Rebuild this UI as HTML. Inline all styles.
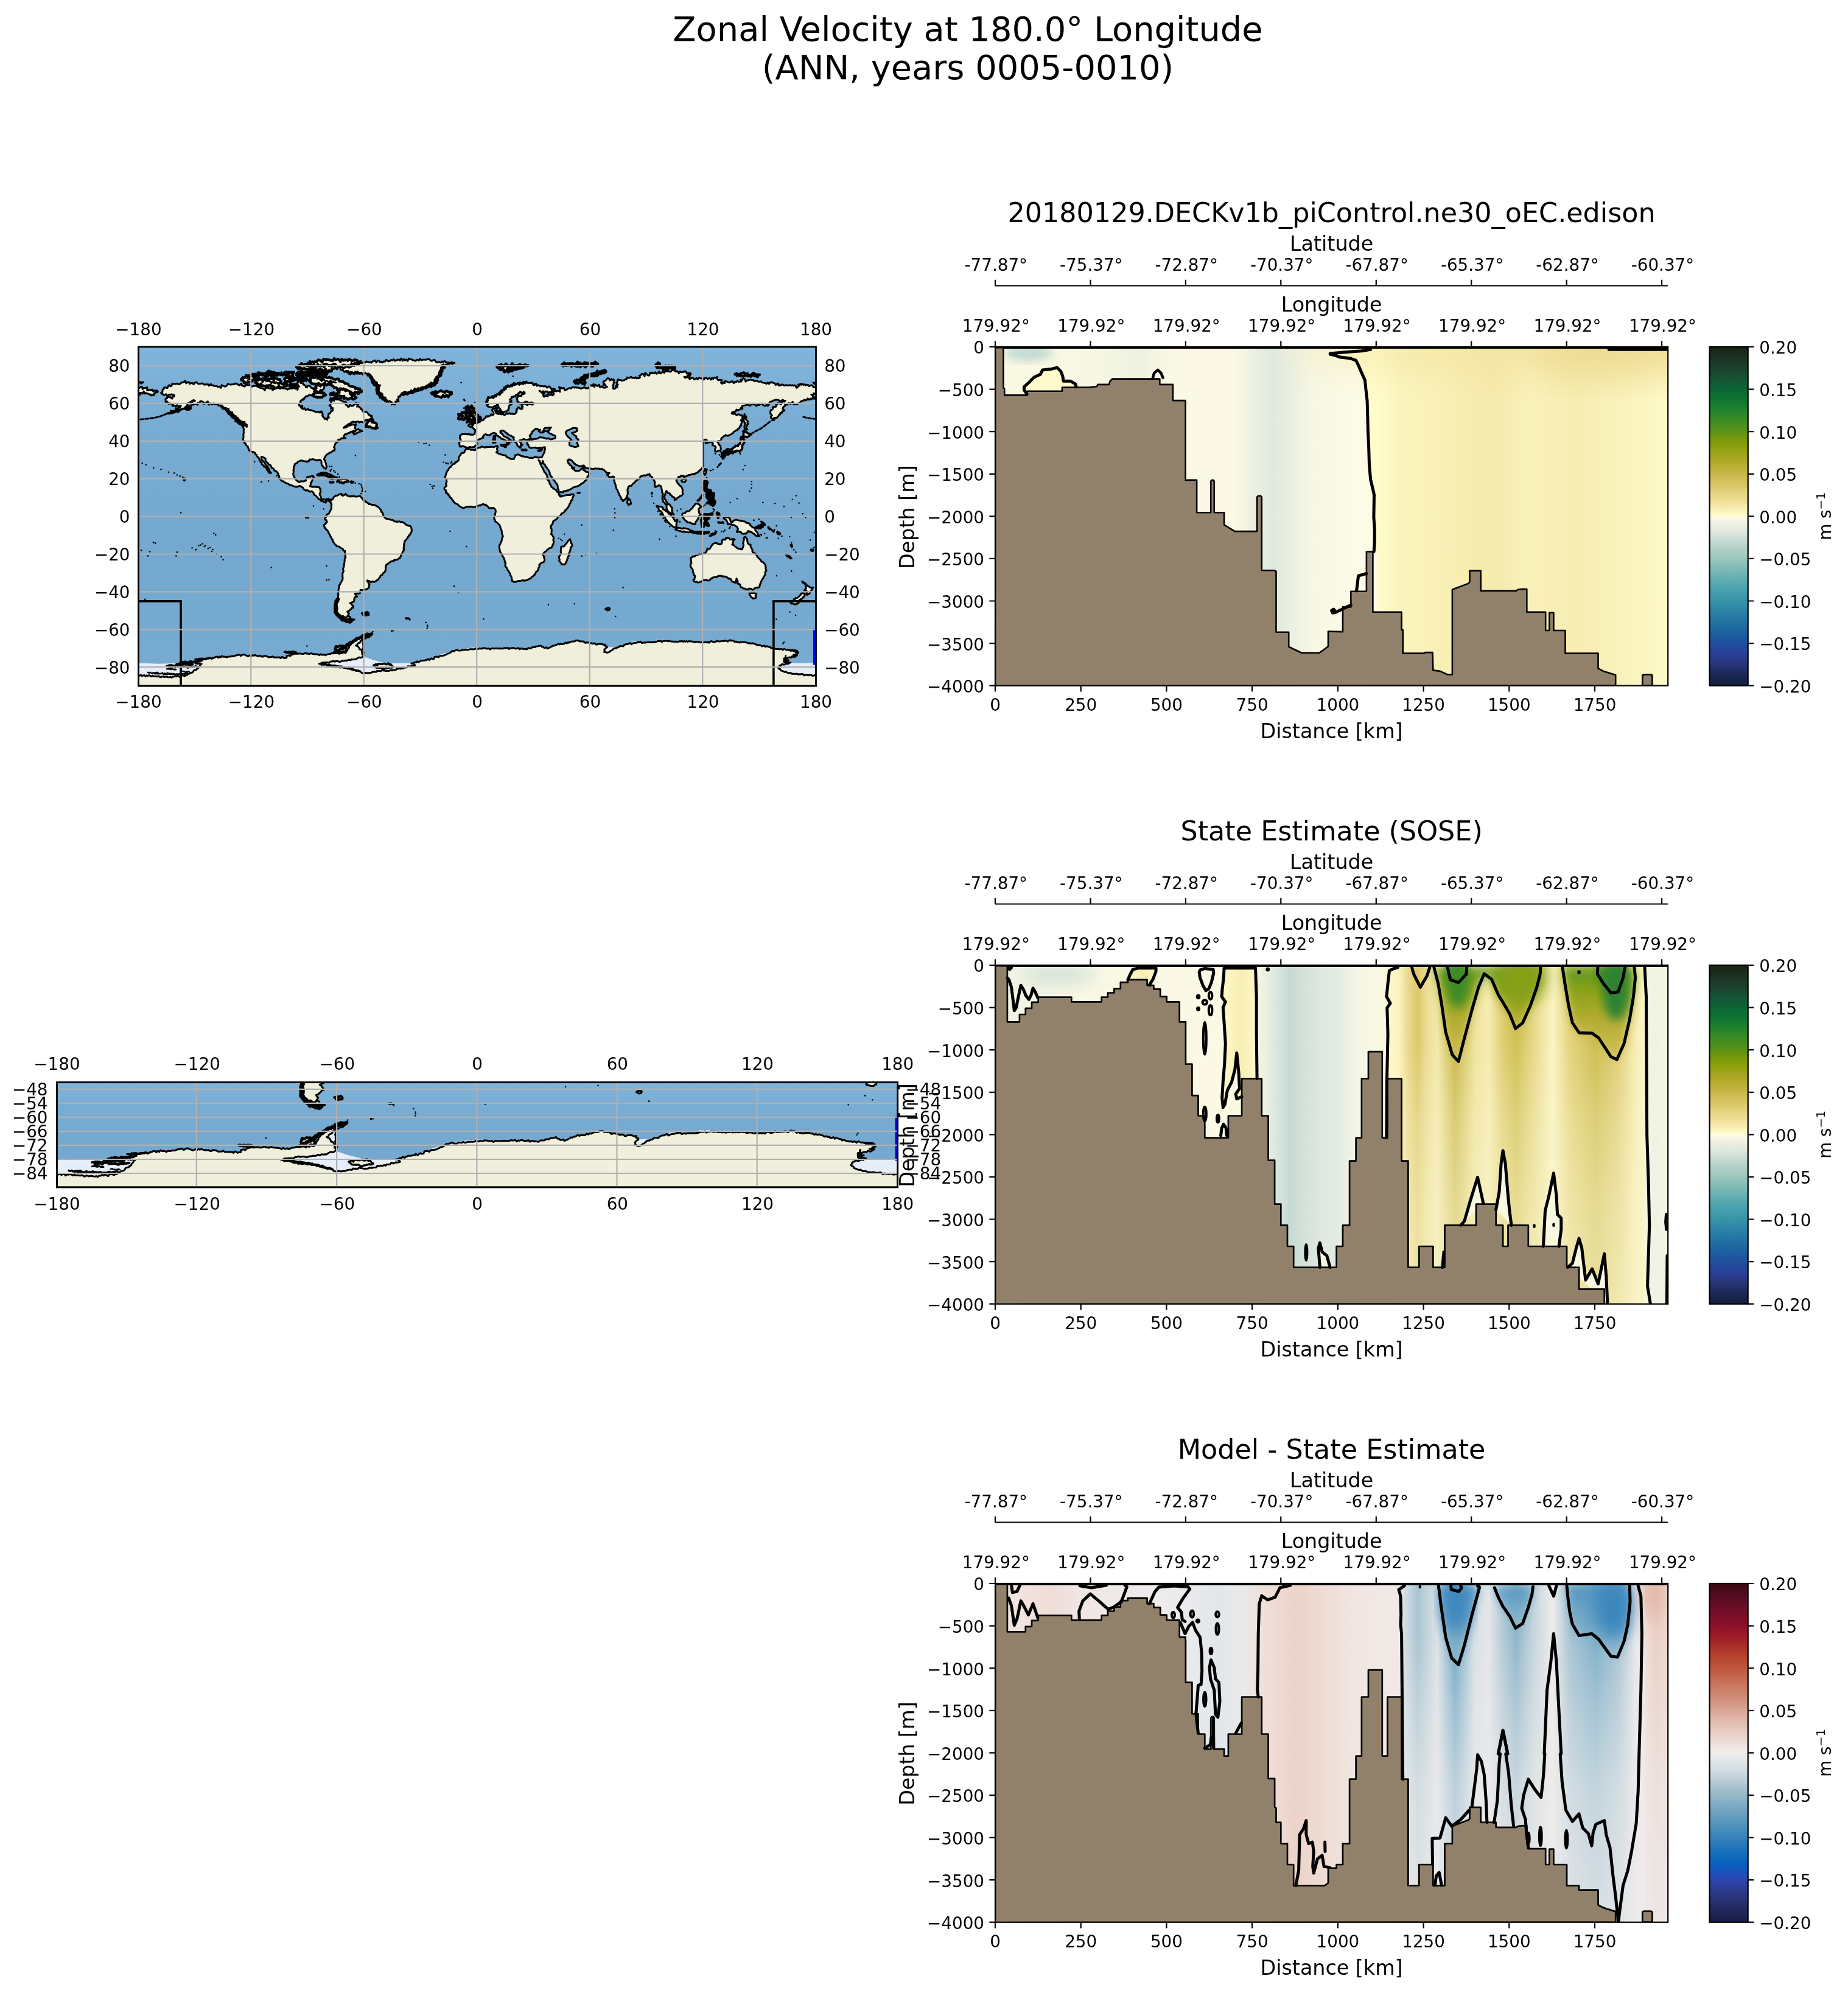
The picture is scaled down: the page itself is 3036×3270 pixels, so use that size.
<!DOCTYPE html>
<html><head><meta charset="utf-8"><title>Zonal Velocity</title><style>html,body{margin:0;padding:0;background:#fff}svg{display:block;opacity:0.9999}</style></head><body>
<svg width="3036" height="3270" viewBox="0 0 3036 3270" font-family='"DejaVu Sans","Liberation Sans",sans-serif' fill="#000">
<rect width="3036" height="3270" fill="#fff"/>
<defs><linearGradient id="cb_delta" x1="0" y1="0" x2="0" y2="1"><stop offset="0.0000" stop-color="#172313"/><stop offset="0.0360" stop-color="#1b3422"/><stop offset="0.0730" stop-color="#1b4630"/><stop offset="0.1000" stop-color="#145737"/><stop offset="0.1250" stop-color="#0c6634"/><stop offset="0.1540" stop-color="#0e7433"/><stop offset="0.1810" stop-color="#1e802f"/><stop offset="0.2080" stop-color="#358a26"/><stop offset="0.2350" stop-color="#4d901c"/><stop offset="0.2510" stop-color="#5c9315"/><stop offset="0.2700" stop-color="#74990d"/><stop offset="0.2880" stop-color="#869f0a"/><stop offset="0.3060" stop-color="#97a314"/><stop offset="0.3240" stop-color="#a5a51f"/><stop offset="0.3420" stop-color="#b3ab2c"/><stop offset="0.3600" stop-color="#bfb13b"/><stop offset="0.3750" stop-color="#c9b649"/><stop offset="0.3960" stop-color="#d5c05c"/><stop offset="0.4140" stop-color="#dcc86c"/><stop offset="0.4320" stop-color="#e6d480"/><stop offset="0.4500" stop-color="#ecdc91"/><stop offset="0.4680" stop-color="#f3e7a6"/><stop offset="0.4860" stop-color="#faf3bc"/><stop offset="0.4975" stop-color="#fffdcf"/><stop offset="0.5020" stop-color="#fefae8"/><stop offset="0.5220" stop-color="#eef0e2"/><stop offset="0.5400" stop-color="#e2eadf"/><stop offset="0.5580" stop-color="#d3e2d9"/><stop offset="0.5760" stop-color="#c3d9d1"/><stop offset="0.5930" stop-color="#b3d1c8"/><stop offset="0.6250" stop-color="#9bc6bc"/><stop offset="0.6560" stop-color="#7dbab5"/><stop offset="0.6880" stop-color="#5eadb1"/><stop offset="0.7200" stop-color="#46a0ae"/><stop offset="0.7510" stop-color="#3793a9"/><stop offset="0.7840" stop-color="#2a81a6"/><stop offset="0.8160" stop-color="#2070a2"/><stop offset="0.8480" stop-color="#1c5f9f"/><stop offset="0.8750" stop-color="#1e509e"/><stop offset="0.9000" stop-color="#27439a"/><stop offset="0.9170" stop-color="#2a3c8e"/><stop offset="0.9360" stop-color="#28357a"/><stop offset="0.9570" stop-color="#202c60"/><stop offset="0.9790" stop-color="#19244c"/><stop offset="1.0000" stop-color="#131f3f"/></linearGradient><linearGradient id="cb_bal" x1="0" y1="0" x2="0" y2="1"><stop offset="0.0000" stop-color="#3c0912"/><stop offset="0.0400" stop-color="#560d20"/><stop offset="0.0720" stop-color="#6c0e27"/><stop offset="0.1000" stop-color="#800f2a"/><stop offset="0.1250" stop-color="#8c112a"/><stop offset="0.1520" stop-color="#9c1929"/><stop offset="0.1790" stop-color="#a82b27"/><stop offset="0.2060" stop-color="#b23d2c"/><stop offset="0.2270" stop-color="#b84a33"/><stop offset="0.2500" stop-color="#bd573e"/><stop offset="0.2800" stop-color="#c56a50"/><stop offset="0.3070" stop-color="#cb7b63"/><stop offset="0.3340" stop-color="#d08b76"/><stop offset="0.3600" stop-color="#d69c8a"/><stop offset="0.3870" stop-color="#dcad9e"/><stop offset="0.4140" stop-color="#e2bfb3"/><stop offset="0.4400" stop-color="#e7cec5"/><stop offset="0.4670" stop-color="#ecdcd6"/><stop offset="0.4890" stop-color="#f0e8e5"/><stop offset="0.5000" stop-color="#f1eceb"/><stop offset="0.5210" stop-color="#e4e7ea"/><stop offset="0.5480" stop-color="#d3dde2"/><stop offset="0.5750" stop-color="#bfd0d9"/><stop offset="0.6010" stop-color="#a8c2cf"/><stop offset="0.6250" stop-color="#95b8c9"/><stop offset="0.6540" stop-color="#7eabc3"/><stop offset="0.6810" stop-color="#69a0bf"/><stop offset="0.7080" stop-color="#5496bd"/><stop offset="0.7340" stop-color="#408abb"/><stop offset="0.7490" stop-color="#3684ba"/><stop offset="0.7740" stop-color="#2478ba"/><stop offset="0.8010" stop-color="#126cbb"/><stop offset="0.8220" stop-color="#0a63be"/><stop offset="0.8410" stop-color="#0f59c0"/><stop offset="0.8590" stop-color="#224db8"/><stop offset="0.8740" stop-color="#2b47ad"/><stop offset="0.8940" stop-color="#2d3f9a"/><stop offset="0.9210" stop-color="#2a3680"/><stop offset="0.9470" stop-color="#252e68"/><stop offset="0.9740" stop-color="#1f2654"/><stop offset="1.0000" stop-color="#181c43"/></linearGradient><linearGradient id="f1" x1="0" y1="0" x2="1" y2="0"><stop offset="0.0000" stop-color="#f8f8e3"/><stop offset="0.0306" stop-color="#faf9e4"/><stop offset="0.0764" stop-color="#fbf9e4"/><stop offset="0.1528" stop-color="#f6f6e3"/><stop offset="0.2139" stop-color="#eef1e0"/><stop offset="0.2648" stop-color="#fbf9e5"/><stop offset="0.3565" stop-color="#fbf9e6"/><stop offset="0.3870" stop-color="#eaefe1"/><stop offset="0.4125" stop-color="#dfe9de"/><stop offset="0.4380" stop-color="#eaefe1"/><stop offset="0.4736" stop-color="#f8f7e4"/><stop offset="0.5347" stop-color="#fdfbe7"/><stop offset="0.5663" stop-color="#fdfbe4"/><stop offset="0.5704" stop-color="#fffbca"/><stop offset="0.6009" stop-color="#fbf4bc"/><stop offset="0.6620" stop-color="#f9f0b6"/><stop offset="0.7384" stop-color="#f6eaac"/><stop offset="0.7945" stop-color="#f9f1ba"/><stop offset="0.8658" stop-color="#f7edb1"/><stop offset="0.9421" stop-color="#faf3bd"/><stop offset="0.9997" stop-color="#fef9c8"/></linearGradient><linearGradient id="f2" x1="0" y1="0" x2="1" y2="0"><stop offset="0.0000" stop-color="#f5f6e4"/><stop offset="0.0306" stop-color="#f1f4e3"/><stop offset="0.1019" stop-color="#f8f8e4"/><stop offset="0.2546" stop-color="#fbf9e5"/><stop offset="0.3514" stop-color="#fbf9e4"/><stop offset="0.3870" stop-color="#f8f8e3"/><stop offset="0.3947" stop-color="#f1f3e2"/><stop offset="0.4074" stop-color="#e6ede0"/><stop offset="0.4227" stop-color="#d6e4dc"/><stop offset="0.4380" stop-color="#c6dad4"/><stop offset="0.4583" stop-color="#d3e2da"/><stop offset="0.4838" stop-color="#dee9df"/><stop offset="0.5093" stop-color="#e4ece1"/><stop offset="0.5347" stop-color="#f2f4e4"/><stop offset="0.5602" stop-color="#faf8e4"/><stop offset="0.5795" stop-color="#fbf8e0"/><stop offset="0.5836" stop-color="#fff9c9"/><stop offset="0.6009" stop-color="#fbf2bd"/><stop offset="0.6137" stop-color="#ead98c"/><stop offset="0.6279" stop-color="#dcc868"/><stop offset="0.6417" stop-color="#ebdd95"/><stop offset="0.6570" stop-color="#f3e9ad"/><stop offset="0.6834" stop-color="#c9b94a"/><stop offset="0.7130" stop-color="#efe39f"/><stop offset="0.7339" stop-color="#f5ecb0"/><stop offset="0.7537" stop-color="#e0cf75"/><stop offset="0.7741" stop-color="#cfc052"/><stop offset="0.7996" stop-color="#e6d888"/><stop offset="0.8286" stop-color="#fbf4c4"/><stop offset="0.8556" stop-color="#e2d27a"/><stop offset="0.8927" stop-color="#cdbd50"/><stop offset="0.9269" stop-color="#e0d07a"/><stop offset="0.9523" stop-color="#f7eeb5"/><stop offset="0.9640" stop-color="#fbf5c5"/><stop offset="0.9676" stop-color="#f4f4e3"/><stop offset="0.9829" stop-color="#f0f2e3"/><stop offset="0.9997" stop-color="#f5f5e4"/></linearGradient><linearGradient id="f3" x1="0" y1="0" x2="1" y2="0"><stop offset="0.0000" stop-color="#f1e6e3"/><stop offset="0.0407" stop-color="#f2e3de"/><stop offset="0.0815" stop-color="#f0ddd7"/><stop offset="0.1273" stop-color="#f0e6e3"/><stop offset="0.1681" stop-color="#efe9e8"/><stop offset="0.2444" stop-color="#eeeceb"/><stop offset="0.2852" stop-color="#e9eaec"/><stop offset="0.3310" stop-color="#e2e6ea"/><stop offset="0.3667" stop-color="#eae9ea"/><stop offset="0.3972" stop-color="#f0e0da"/><stop offset="0.4482" stop-color="#edd3c9"/><stop offset="0.4889" stop-color="#efdcd5"/><stop offset="0.5347" stop-color="#f1e6e2"/><stop offset="0.6009" stop-color="#f1e9e7"/><stop offset="0.6086" stop-color="#d4dee3"/><stop offset="0.6279" stop-color="#a9c5d3"/><stop offset="0.6417" stop-color="#c2d3db"/><stop offset="0.6570" stop-color="#dfe3e6"/><stop offset="0.6834" stop-color="#6fa8c6"/><stop offset="0.7130" stop-color="#d9e1e5"/><stop offset="0.7339" stop-color="#e4e6e8"/><stop offset="0.7537" stop-color="#b5ccd7"/><stop offset="0.7741" stop-color="#8eb6ca"/><stop offset="0.7996" stop-color="#c5d5dc"/><stop offset="0.8286" stop-color="#eeeceb"/><stop offset="0.8556" stop-color="#a5c3d2"/><stop offset="0.8927" stop-color="#7fb0c9"/><stop offset="0.9269" stop-color="#a9c5d3"/><stop offset="0.9523" stop-color="#e8e8ea"/><stop offset="0.9640" stop-color="#efe9e7"/><stop offset="0.9676" stop-color="#efdcd5"/><stop offset="0.9829" stop-color="#ebcfc5"/><stop offset="0.9997" stop-color="#efd9d1"/></linearGradient><linearGradient id="fade2" x1="0" y1="0" x2="0" y2="1"><stop offset="0.0000" stop-color="#fbf6d0" stop-opacity="0"/><stop offset="0.2200" stop-color="#fbf6d0" stop-opacity="0"/><stop offset="0.4500" stop-color="#fbf6d0" stop-opacity="0.3"/><stop offset="0.7000" stop-color="#fbf6d0" stop-opacity="0.5"/><stop offset="1.0000" stop-color="#fbf6d0" stop-opacity="0.62"/></linearGradient><linearGradient id="fade3" x1="0" y1="0" x2="0" y2="1"><stop offset="0.0000" stop-color="#eeeceb" stop-opacity="0"/><stop offset="0.1500" stop-color="#eeeceb" stop-opacity="0"/><stop offset="0.3500" stop-color="#eeeceb" stop-opacity="0.3"/><stop offset="0.6000" stop-color="#eeeceb" stop-opacity="0.6"/><stop offset="1.0000" stop-color="#eeeceb" stop-opacity="0.78"/></linearGradient><linearGradient id="green2" x1="0" y1="0" x2="0" y2="1"><stop offset="0.0000" stop-color="#4f9420"/><stop offset="0.2500" stop-color="#86a012"/><stop offset="0.6000" stop-color="#b7ad34"/><stop offset="1.0000" stop-color="#cfc052"/></linearGradient><linearGradient id="blue3" x1="0" y1="0" x2="0" y2="1"><stop offset="0.0000" stop-color="#4990c0"/><stop offset="0.3500" stop-color="#68a2c4"/><stop offset="1.0000" stop-color="#90b8cc"/></linearGradient><linearGradient id="yel2" x1="0" y1="0" x2="1" y2="0"><stop offset="0.0000" stop-color="#fef9cd"/><stop offset="0.3000" stop-color="#fbf3bf"/><stop offset="0.5500" stop-color="#f8eeb2"/><stop offset="0.8000" stop-color="#fbf4c0"/><stop offset="1.0000" stop-color="#fdf7c8"/></linearGradient><linearGradient id="ocean" x1="0" y1="0" x2="0" y2="1"><stop offset="0.0000" stop-color="#80b4da"/><stop offset="0.2500" stop-color="#79acd3"/><stop offset="0.6000" stop-color="#75a8ce"/><stop offset="1.0000" stop-color="#78abd1"/></linearGradient><filter id="b4" x="-20%" y="-20%" width="140%" height="140%"><feGaussianBlur stdDeviation="4"/></filter><filter id="b8" x="-20%" y="-20%" width="140%" height="140%"><feGaussianBlur stdDeviation="8"/></filter><filter id="b14" x="-30%" y="-30%" width="160%" height="160%"><feGaussianBlur stdDeviation="14"/></filter><filter id="b30" x="-50%" y="-50%" width="200%" height="200%"><feGaussianBlur stdDeviation="30"/></filter><clipPath id="mclip1"><rect x="227.5" y="570" width="1113" height="557.2"/></clipPath><clipPath id="mclip2"><rect x="93.5" y="1778.4" width="1381.2" height="172.6"/></clipPath><clipPath id="pclip0"><rect x="1635" y="570" width="1105.2" height="556.7"/></clipPath><clipPath id="pclip1"><rect x="1635" y="1586" width="1105.2" height="556.7"/></clipPath><clipPath id="pclip2"><rect x="1635" y="2602" width="1105.2" height="556.7"/></clipPath></defs>
<g clip-path="url(#mclip1)">
<rect x="227.5" y="570" width="1113" height="557.2" fill="url(#ocean)"/>
<path d="M227.5 1089.4 L258.4 1090.7 L289.3 1090 L301.7 1088.5 L332.6 1089.4 L326.4 1096.2 L320.3 1100.9 L314.1 1105.5 L304.8 1109.9 L273.9 1112.3 L227.5 1109.9Z" fill="#e6eef9"/>
<path d="M1340.5 1089.4 L1315.8 1089.4 L1297.2 1089.4 L1288 1091.6 L1278.7 1097.8 L1284.9 1102.4 L1303.4 1107.1 L1340.5 1109.9Z" fill="#e6eef9"/>
<path d="M595.4 1078.6 L614 1084.8 L632.5 1089.4 L651.1 1090 L666.5 1089.4 L675.8 1090 L682 1093.1 L660.3 1097.8 L648 1100.9 L614 1104 L598.5 1106.1 L567.6 1097.8 L524.3 1090.7 L545.9 1086.9 L580 1083.9 L592.3 1080.8Z" fill="#e6eef9"/>
<path d="M595.4 1049.8 L598.5 1052.9 L597.9 1059.1 L597.6 1065.3 L598.5 1071.5 L597 1077.7 L595.4 1073 L593.9 1068.4 L589.2 1063.7 L584.6 1060.6 L590.8 1056 L592.3 1052.9Z" fill="#e6eef9"/>
<path d="M997.3 1063.7 L1009.7 1063.1 L1006.6 1066.8 L997.3 1072.4 L992.7 1071.5 L992.7 1067.8Z" fill="#e6eef9"/>
<path d="M722.2 1076.1 L737.6 1071.5 L753.1 1067.1 L768.5 1065.3 L784 1063.7 L799.5 1064.7 L814.9 1064.4 L814.9 1065.6 L784 1065.9 L759.3 1067.8 L740.7 1071.5 L722.2 1078.3Z" fill="#e6eef9"/>
<path d="M1077.7 1051.4 L1096.3 1051.4 L1093.2 1052.9 L1077.7 1054.4Z" fill="#e6eef9"/>
<path d="M1037.5 1054.4 L1056.1 1053.8 L1056.1 1055.4 L1037.5 1056.9Z" fill="#e6eef9"/>
<path d="M264.6 645.5 L266.8 644.5 L266.9 642.4 L267.1 640.3 L269.2 639.3 L269.2 637.2 L270.9 636.3 L273 637.3 L275 637.7 L276.2 634.7 L277.8 632.9 L280.1 635 L282 634.1 L282.1 631.2 L284.7 631 L286.6 630.5 L288.7 630.9 L290.6 630.2 L292.8 631.2 L294.8 631.3 L296.6 630.1 L298.3 628.8 L300.2 627.9 L302.2 627.9 L304.4 625.6 L306 629.9 L308.2 628.3 L310.2 627.8 L311.9 630.6 L314.1 629.4 L316.2 629.3 L318 631.5 L320.4 628.5 L322.5 628.1 L324.4 629.8 L326.4 630.7 L328.4 630.6 L330.3 630.3 L332.3 629.9 L334.2 630.8 L336 632.4 L338 631.6 L339.9 631.8 L341.9 631.6 L343.5 633.8 L346.4 631 L348.1 633.1 L350.2 633.3 L352.1 634.5 L354.2 634.6 L356.3 634.3 L358.2 636 L360.4 635 L362.9 637.3 L364.3 632.7 L366.6 634.1 L368.8 634.9 L370.9 634.9 L372.8 633.5 L374.5 630.8 L376.8 631.6 L378.9 632.1 L381 631.8 L383.1 631.6 L385.2 631.6 L386.3 630 L388.3 630.4 L390.1 631 L391.7 632.5 L393.5 633.2 L396.6 630.2 L397.5 633.5 L399.8 634.4 L402 635.3 L403.7 632.5 L405.8 632.5 L407.8 633.2 L409.9 632.5 L412 633 L413.6 635.3 L416 634.5 L418.1 634.3 L420.4 633.6 L422.3 635 L423.9 635.4 L425.2 636.6 L426.8 637.1 L428.5 637.5 L430 637.9 L431.5 638.4 L433.1 638.7 L435 641.5 L436.7 637.4 L438.5 637.1 L440.3 637.3 L442.1 638.1 L443.9 638.4 L446.3 637.2 L447.7 640.9 L450.1 639.6 L450 637.9 L450.1 636.2 L452.1 635 L454.2 635.6 L456.3 635.6 L457.9 637.9 L460.5 636.4 L462.4 637.3 L464.8 636.7 L466.9 637 L468.7 638.7 L470.5 639.1 L472.3 640.3 L474.1 638.5 L475.9 639.2 L477.7 636.8 L479.5 638.7 L480.3 636.5 L482.6 636.6 L483.8 638.3 L485.4 638.7 L487.2 637.5 L488.4 638.8 L488.7 640.6 L489.3 638.4 L488.4 635.5 L491.8 635 L489.9 634.6 L489.2 633 L488.5 631.4 L487.2 630.4 L488.9 629.4 L489.8 627.8 L490.3 626 L491.8 626.2 L493.2 627.6 L494.9 626.6 L494 629.6 L497.7 629.8 L498 631.9 L499.8 632.2 L501.1 633.5 L502.4 634.3 L502.3 636.4 L504.2 636.6 L505.3 634.8 L506.6 633.7 L508.8 634.4 L510 635.3 L510.6 636.7 L511.9 637.5 L513.7 637.8 L514.8 639.4 L516.6 639.6 L516.6 637.7 L520.3 637.7 L517.8 634.4 L519.7 633.5 L521.5 634.1 L523.3 633 L525.1 634.4 L526.9 634 L528.6 631.5 L530.5 632.8 L533.1 633.8 L532.7 636.6 L532 638.3 L531.3 640 L529.4 640.9 L528.9 642.7 L526.8 640.3 L525.1 642.9 L523.3 644.6 L521.2 643.4 L519.4 641.2 L517.5 640.6 L515.6 643.4 L516.8 644.2 L518.1 644.9 L516.5 646.2 L515.8 648.5 L513.5 648.9 L511.7 650 L509.4 649.2 L507.3 649.1 L505.8 651.1 L503.7 651 L502.1 651.6 L500.9 653.1 L500 655.2 L498 655.1 L497.7 657.1 L495.5 657.3 L494.5 658.5 L493.4 659.8 L494.1 661.7 L492.5 662.9 L491.3 664.2 L491.2 666 L492.8 667 L494.3 669.2 L496.5 666.9 L496.8 668.7 L495.6 671 L498 672.2 L500 670.6 L501.9 673.4 L503.8 673.2 L505.8 672.2 L507.1 673.3 L508.8 673.4 L510.3 674 L511.9 674.3 L513.8 675 L515.7 675.3 L517.4 676.4 L519.3 676.9 L521.2 677.4 L523.4 676.5 L525.4 678.1 L527.6 675.9 L529.6 678 L529.6 679.7 L530.5 681.2 L529.5 683 L530.5 684.5 L531.6 685.8 L532.8 687 L533.6 688.6 L536.2 687.3 L537.6 689.8 L537.8 687.9 L538.8 686.6 L540.7 686.1 L539 684.2 L539.7 682 L539.8 679.9 L542 679.6 L542.9 677.6 L544 675.8 L545.9 675.2 L547 673.8 L545.8 672 L546.9 670.6 L543.9 671.9 L544.3 668.4 L542.6 667.7 L541.3 666.6 L542.9 665.8 L542.7 663.5 L544.4 662.9 L543.8 661.1 L545.1 659 L541.6 657.9 L542.9 655.7 L544.9 655.4 L547 657 L549 658.5 L551.1 653.5 L553.2 656.3 L555.2 655.7 L557.4 656.1 L558.9 657.9 L561.1 658.1 L562.9 659.2 L564.4 660.1 L565.8 661.1 L567.6 659.8 L568.6 661.7 L567.6 664.1 L569.1 666 L570.8 666.4 L571.7 668.5 L573.8 668.1 L575.2 665.2 L578 667.4 L580 666.6 L581.4 665.7 L581.8 663.8 L584 663.6 L584.6 661.9 L585.7 663.5 L589.2 663 L586.4 668.1 L589.5 667.9 L590.8 669.4 L592.3 670.6 L593.1 672.3 L595.3 673.1 L595.4 675.2 L597 676.7 L599.5 676.4 L601.5 677.1 L603.5 677.7 L604.7 679.9 L605.7 681.4 L607.8 681.7 L608.5 683.5 L611 683.4 L610.9 686.1 L609.4 687.6 L610.9 689.2 L609.1 691.3 L607 688.9 L605.1 690.1 L603.1 689.8 L601.2 690.4 L599.4 691.2 L598.5 693.2 L596.4 694.2 L594.4 693.3 L592.3 693.2 L590.2 694.2 L588.2 692.4 L586.1 692.9 L584.2 693.9 L582.3 693.2 L580.3 692.9 L578.4 693.2 L577.1 694.6 L575.6 695.7 L573.9 696.6 L571.9 696.9 L570.7 698.5 L568.9 699.3 L567.4 700.5 L565.8 701.6 L564.5 703.1 L566.3 703.1 L567.5 701.8 L569.4 701.9 L570.7 700.6 L572.4 699.2 L574.8 699.3 L576.7 698.3 L578.4 696.9 L580.5 698.1 L582.5 698.3 L584.6 696.9 L584.3 698.8 L583.7 700.6 L583.7 701.9 L583 703.1 L583.8 704.4 L584.6 705.6 L586.5 706.1 L588.6 705.2 L590.4 706.6 L592.3 706.8 L593.6 708.1 L595.4 708.4 L593.4 708.7 L591.5 709.3 L589.6 710.1 L587.7 710.8 L586.2 711.8 L584.8 712.7 L583.3 713.6 L581.5 713.9 L580.8 712.4 L580 710.8 L581.7 710.2 L583.3 709.2 L584.6 707.7 L582.7 708.6 L580.6 707.9 L578.9 709.5 L576.9 709.3 L575.3 710 L574.2 711.7 L572.1 711.4 L570.7 712.4 L569.5 713.8 L567.1 713.2 L566 714.9 L564.8 716.5 L565.1 718.6 L566.4 718.9 L567.6 719.5 L566.1 720 L564.4 719.9 L562.9 720.4 L560.9 719.9 L559.5 721.8 L557.8 722.5 L555.8 722.3 L555.3 723.8 L555.2 725.4 L553.9 726.5 L552.6 727.5 L551.2 728.5 L550.4 730.5 L549.7 732.5 L549.5 733.9 L548.4 734.7 L549.7 736.5 L550 738.7 L549.2 740.5 L546.9 740.2 L545.9 741.8 L544.5 742.7 L543.1 743.8 L541.3 744 L539.7 745.2 L538 746.2 L536.5 747.5 L535.1 748.9 L534.3 750.4 L533.4 751.8 L532.7 753.3 L532.6 755.3 L534.3 756.7 L534.2 758.7 L535.1 760.4 L535.6 762.4 L535.9 764.6 L536.7 766.6 L536.1 768.6 L535.1 770.6 L533.9 769.2 L532 768.7 L531 767.2 L530 765.7 L528.6 764.5 L528.3 762.5 L528 761.1 L528.2 759.6 L528 758.2 L527.3 756.7 L526 755.9 L524.3 755.7 L522.7 755.6 L521.3 756.5 L519.7 756.3 L517.6 755.7 L515.6 754.9 L513.5 754.5 L512 755.2 L510.4 755 L508.8 755.1 L507.8 756.5 L507.3 758.2 L505.8 757.7 L504.1 758.9 L502.7 757.9 L500.7 757.9 L498.7 757.7 L496.9 757 L494.9 756.7 L493.3 757 L491.9 757.9 L490.3 758.2 L488.8 759.4 L487.7 761.1 L485.8 761.7 L484.1 762.5 L484 764.7 L482.8 766.6 L482.6 768.7 L482.6 770.8 L481.8 772.8 L482.5 774.9 L482.2 776.9 L481.6 778.9 L482 780.6 L482.5 782.2 L483.4 783.6 L484.1 785.1 L484.8 786.9 L486.3 788.2 L487.2 789.8 L489 790.2 L490.2 791.7 L491.8 792.3 L493.6 791.1 L495.6 790.8 L497.6 791.1 L499.6 791 L500.9 789.8 L502.7 789.8 L502.4 787.7 L503.7 786.1 L504.2 784.2 L506.2 783.9 L508 783 L510.3 783.5 L511.9 782 L513.5 782.3 L515 782.7 L515.3 784.7 L513.5 786.2 L513.5 788.2 L512.8 789.9 L512.1 791.5 L511 792.9 L510.5 795 L510.2 797.1 L509.5 799.1 L511.2 799.6 L512.9 800.2 L514.6 799.7 L516.4 800.1 L518.1 799.7 L520.1 800.5 L522.3 800.1 L524.3 800.6 L525 802 L526.5 802.8 L526 804.8 L526.9 807 L526.3 809 L525.3 810.9 L525.2 813 L526.4 814.3 L526.9 816 L527.4 817.6 L528 819.1 L529.2 820 L530.5 820.7 L532.6 820.8 L534.7 821.3 L536.7 820.1 L538.3 819.9 L539.8 819.2 L540.8 821 L543.1 820.9 L544.4 822.3 L545.4 820.7 L547.1 819.8 L547.6 817.7 L548.8 816.4 L550.6 815.5 L551.8 814.1 L553.7 814.5 L555.5 813.6 L557.3 812.3 L559.3 811.9 L561.4 811.4 L561.3 813.4 L562.9 814.5 L564.7 813.8 L566.5 813.1 L567.6 811.4 L569.1 812.4 L570.1 814.3 L572 814.8 L573.8 815.5 L575.8 816 L577.9 815.1 L580 815.7 L582 815.2 L584.1 816.2 L586.1 816.1 L588.2 815.6 L590.2 815.4 L592.3 815.5 L593.1 816.9 L594.1 818.2 L595.4 819.2 L596.3 820.3 L596.8 822 L598.5 822.3 L600 823.6 L601.5 824.9 L603.1 826 L605 826.9 L606.2 828.5 L608.1 828.5 L609.9 829.1 L611.6 829.7 L613.5 829.4 L615.3 829.9 L617.1 830.6 L618.6 831.7 L620.5 832.1 L621.7 833.6 L623.2 834.7 L624.1 836.3 L625.6 837.6 L626.3 839.3 L626.4 841.2 L628.4 842.1 L628.8 843.9 L629.4 845.5 L630.1 847 L629.4 848.6 L631.3 849.4 L632.7 850.9 L634.1 852.3 L635.9 852.4 L637.7 852.8 L639.5 853 L641.2 853.9 L643 854.4 L644.9 854.2 L646.4 855.5 L648 857 L650 856.6 L652.1 857.7 L654.2 856.9 L656.2 856.8 L658.3 858.1 L660.3 857.3 L661.9 858.3 L663.5 859.2 L665.2 860.1 L666.3 861.8 L668.1 862.5 L669.8 863.5 L671.7 864 L673.7 864.2 L675.2 865.6 L675.7 867.7 L676.2 869.7 L676.4 871.8 L676.1 873.4 L675.6 875 L674.2 876.2 L674.3 878 L672.5 879.1 L671.5 880.8 L670.2 882.2 L669.6 884.2 L668.3 885.2 L667.4 886.6 L666.5 888 L665 888.8 L664.8 891 L664 893 L663.4 895 L664 896.9 L663.7 898.7 L662.8 900.6 L663.8 902.5 L663.4 904.3 L662.3 905.7 L661.3 907.3 L660.9 909.1 L659.7 910.5 L658.8 912.1 L658.6 913.7 L657.7 915.1 L657.2 916.7 L655.8 917.7 L654.2 918.4 L652.8 919.5 L651.1 919.8 L649.5 920.3 L647.7 920 L646.7 922.1 L644.9 922 L643.2 922.5 L641.5 923 L640.3 924.3 L638.7 925.1 L637.4 926.6 L635.3 927.3 L634.1 929.1 L633.7 931 L633.6 932.9 L633.6 934.9 L633.4 936.8 L632.7 938.6 L631.8 940.4 L630 941.4 L629 943 L627.9 944.6 L626 945 L624.9 946.2 L624.6 948.2 L623.2 949.2 L622.4 950.6 L621.6 952.2 L620 952.9 L618.6 953.8 L617.3 955.1 L615.8 956 L614 956.3 L612 955.2 L609.7 956.7 L607.8 955.4 L606.4 954.8 L604.9 954.3 L603.5 953.8 L603.7 955.8 L605.2 957 L605.6 958.9 L607.2 960 L606.2 962 L606.4 964.2 L605.6 966.2 L603.9 967.3 L602.1 968.2 L600 968.7 L598.1 969.1 L596.2 969.4 L594.3 969.9 L592.3 969.3 L591.9 971.2 L591.6 973 L591.4 974.9 L589.3 975.4 L587.2 974.9 L585.1 975.4 L583 975.5 L584.3 977 L585.1 978.9 L586.8 980.2 L584.8 980.5 L583.1 981.4 L582.1 983.2 L581.9 984.8 L581.9 986.4 L581.5 987.9 L580.2 989.2 L578.5 989.6 L577 990.5 L575.3 991 L576.6 992 L577.9 993 L578.6 994.7 L580 995.6 L580.4 998.4 L577.8 998.8 L577 1000.7 L575.3 1001.8 L574 1003.2 L572.5 1004.3 L570.7 1004.9 L571.5 1006.7 L573.3 1008.2 L572.2 1010.5 L571.3 1011.9 L572.8 1012.7 L574.7 1013.5 L575.2 1015.6 L576.9 1016.7 L578.6 1017.7 L580.5 1017.7 L582.4 1017.9 L580.5 1018.8 L578.4 1019.5 L576.4 1019.3 L574.5 1019.2 L572.6 1020 L570.7 1020.4 L568 1021.5 L567.1 1018.1 L564.9 1018.1 L562.9 1017.3 L560.7 1017 L559.9 1014.8 L558.3 1013.6 L556.2 1012.9 L555.8 1010.2 L553.7 1009.6 L553.1 1007.9 L552 1006.5 L551.6 1004.8 L550.6 1003.4 L550.9 1001.3 L549.3 999.2 L550.6 997.2 L551.6 995.7 L552.4 994.2 L552.7 992.4 L553.7 991 L554.4 989.4 L555.8 988.2 L556 986.3 L556.8 984.8 L555.7 982.9 L555.6 980.7 L555.2 978.6 L556.1 976.7 L555.4 974.7 L555.9 972.8 L556.1 970.9 L556 969.1 L556.5 967.3 L557.2 965.6 L556.8 963.7 L557.1 961.8 L558.8 960.4 L559.2 958.5 L560.6 956.7 L561.4 954.7 L562.6 953 L562.9 950.7 L563.1 948.9 L562.6 947 L562.8 945.2 L562.7 943.3 L562.9 941.5 L564.1 939.7 L564.5 937.9 L563.5 935.8 L563.8 934 L564.5 932.2 L565 930.3 L565.3 928.5 L565.4 926.6 L565.8 924.7 L566 922.9 L566.2 921 L566.2 919.2 L566.8 917.3 L567.8 915.6 L567 913.6 L567.5 911.5 L566.6 909.4 L566.7 907.3 L566.7 905.2 L564.9 904.8 L563.7 903.7 L563.1 901.7 L561.4 901.2 L559.5 900.3 L557.9 898.7 L556 897.8 L553.5 897.8 L552.1 896 L550.5 894.6 L549.2 893.1 L548.1 891.3 L546.8 889.6 L546.7 887.4 L545.3 885.7 L544.5 884.2 L543.7 882.7 L542.7 881.2 L542.3 879.4 L541.3 878 L540.1 876.3 L539.5 874.3 L538.5 872.5 L537.3 870.9 L535.5 870 L534.9 867.8 L533 867.2 L533.2 865.4 L532 863.7 L532.7 861.9 L534.4 861.5 L535.1 860.2 L535.7 858.8 L537.1 857.9 L536.7 856.3 L536 854.5 L533.8 853.8 L533.6 851.7 L535.2 850.4 L536.1 848.6 L536.4 847 L536.7 845.5 L538.5 844.6 L540.4 844 L541 842.3 L541.7 840.7 L542.9 839.3 L543.2 837.6 L544.4 836.2 L544.4 834.3 L544.6 832.3 L544.1 830.4 L545 828.5 L543.7 827.3 L543.3 825.5 L541.9 824.5 L540.8 823.3 L538.8 823.1 L538.2 821.4 L537.1 822.5 L535.7 823.2 L535.4 824.6 L535.1 826 L533.7 825 L532 824.8 L530.7 823.7 L528.9 823.6 L527.4 822.9 L526.5 821.6 L525.2 820.7 L523.6 820 L522.5 818.7 L521.2 817.6 L520.3 815.8 L518.7 814.5 L516.8 813.6 L515.5 812 L515 809.7 L513.5 808.4 L512.1 807.1 L510.4 807.7 L508.6 807.9 L507.3 806.6 L505.8 806.2 L504.3 805.2 L502.5 806.3 L501.1 805.3 L499.6 804.4 L498.5 803.2 L497.9 801.5 L496.5 800.6 L495 799.7 L493.6 798.8 L491.8 798.4 L490.4 799.2 L488.8 799.8 L487.2 800 L485.1 799.8 L483.1 799.1 L481 798.4 L479.5 797.6 L478 797.1 L476.2 797.2 L474.8 796 L473.4 795 L471.9 794.2 L470 794 L468.7 792.9 L466.9 792.5 L465.9 790.7 L463.8 791.1 L462.5 789.8 L461.1 788.3 L459.5 787.1 L457.8 786.1 L459.1 784.2 L458.4 782 L457 780.8 L457.3 778.8 L456.3 777.4 L455.3 775.9 L454.2 774.6 L452.4 773.8 L450.6 773.1 L450.1 771.2 L449 770 L447.4 769.2 L446.1 768.3 L445.5 766.6 L444.8 765.2 L443.9 764 L442.4 763.5 L440.9 762.6 L440.3 760.9 L438.7 760.2 L437.7 758.8 L436.5 757.5 L436.3 755.7 L436.2 753.8 L434.6 752.6 L433 751.6 L431.2 751 L429.4 750.5 L429.4 752.2 L429.2 754 L430 755.7 L431.4 756.6 L432.2 758.2 L433.6 759.1 L434.6 760.4 L435.3 762.2 L436.7 763.5 L437.7 765 L439.4 766.2 L439.9 768 L440.8 769.7 L442.4 771.2 L442.4 773.4 L443.2 774.7 L443.7 776.3 L445.5 776.8 L443.9 777.7 L442.3 776.9 L440.9 775.9 L440.6 773.8 L439.3 772.8 L438.1 771.4 L438.2 769.5 L437.1 768.1 L435.8 767.1 L433.8 767.1 L433.2 765 L431.6 764.4 L429.9 762.7 L430 760.4 L428.7 759.4 L427.6 758.2 L426.9 756.7 L425.8 754.8 L425.3 752.7 L423.8 751.1 L421.9 749.7 L421.7 747.4 L419.6 746.7 L419.3 744.4 L417.6 743.3 L415.6 742.8 L413.6 742.1 L411.5 741.8 L410.1 740.5 L408.6 739.3 L408.4 737.2 L407.4 735.5 L407.1 733.5 L405.3 732.5 L404.2 730.9 L403.5 728.9 L401.6 727.9 L401.3 726.2 L400.6 724.7 L399.7 723.2 L399.4 721.6 L399.7 720.1 L400 718.6 L400.1 717 L400 715.5 L399.7 713.9 L400.3 712 L400.5 710.1 L400.2 708.1 L400.6 706.2 L400.2 704.4 L399.9 702.5 L398.3 701.1 L398.5 699.1 L400.4 700.1 L402 698.6 L403.7 698.5 L405.5 699.5 L405.3 701.6 L404.6 700.1 L405.6 698.3 L404.3 696.9 L401.9 697.1 L401.8 693.1 L399.1 693.8 L397.4 692.5 L394.5 694 L393.7 690.6 L391.4 690.7 L389.6 689.6 L390.6 686.7 L388.3 686.1 L387.9 683.9 L385.8 683.6 L384.3 682.6 L382.9 681.5 L382.1 679.9 L381.5 677.5 L378.8 677.4 L377.4 675.9 L375.3 675.3 L375.6 671.7 L372.1 672.7 L371.3 670.6 L368.8 671 L367.7 669.3 L366 668.6 L365.1 666.6 L363 666.1 L361 666.2 L358.9 666.6 L358.1 664.2 L356.2 664.3 L354.4 664 L352.7 663.5 L350.8 663 L348.7 664.6 L346.9 663.3 L345 662.9 L342.9 664.9 L341.3 659.8 L339.3 661.2 L337.3 662.2 L334.9 663.6 L334.1 661.1 L332.9 659.8 L331.1 659.8 L329.2 659.3 L328.1 661.1 L326.9 662.7 L324.9 661.9 L324.6 665.2 L321.8 663.5 L319.7 663.8 L317.8 665.1 L315.6 665 L317.2 663.5 L314.9 661.9 L315.6 660.4 L316.6 658.2 L318 657.4 L320.3 658.8 L318.2 658.9 L316.2 658.8 L314.4 659.5 L312.5 660.4 L312.7 662.9 L310 662.5 L308.1 662.9 L307.9 665 L306.9 666.3 L307.9 667.5 L305.9 668.3 L304.4 670.2 L302.6 671.3 L300.2 671.2 L298.6 672.1 L297.2 673.1 L295.8 674.2 L294 674.6 L291.8 674.8 L289.6 674.6 L287.8 675.8 L286.2 677.4 L284.3 677.9 L282.5 678.9 L280.5 679.2 L278.5 679.3 L276.5 679.9 L274.5 679.6 L276.1 678.3 L278.7 679.5 L280.1 677.4 L280.8 674.9 L283.1 675.9 L284.7 675.2 L287 675.6 L288.2 674.1 L288.7 671.5 L291.3 672.2 L292.4 670.6 L294.7 670.3 L295.9 668.7 L297.1 666.9 L295.5 667.8 L294 667.6 L292.4 666.9 L290.9 665.7 L289.2 668.6 L287.8 666.6 L286.2 666.6 L284.7 667.1 L283.2 666.9 L284.4 665.2 L283.2 663.5 L281.1 663.3 L279.1 662.9 L276.9 663.5 L275.4 661.3 L274.8 659.9 L272 660.6 L272.3 658.2 L271.8 655.8 L273.9 654.5 L275.7 653 L277.7 652.1 L280.1 653 L282.8 655.1 L284.1 651.8 L286.2 651.4 L286 650.2 L286.2 648.9 L284.2 648.6 L282.1 647.8 L280.1 648.9 L278.2 648.2 L276.3 649.3 L274.5 650.9 L272.6 647.6 L270.8 648.9 L268.7 649 L267.5 647.6 L265.7 647.3ZM558.9 605.6 L560.4 602.4 L563.1 604.4 L565.3 604.7 L567.4 603.9 L568.8 600.6 L571.7 603.7 L574 604 L575.9 602.5 L577.8 601.4 L580 601 L582.2 601.5 L583.4 599.4 L585.4 599.4 L586.9 598.1 L589.4 599.3 L590.5 596.7 L592.3 596.3 L594.4 596.9 L596.2 595.6 L598.1 594.2 L600.2 595.8 L602 593.9 L604.1 594.7 L606.2 595.6 L608.1 594.8 L610.2 596.2 L612 593.8 L614 593.8 L615.9 592.1 L618.2 595.6 L620.1 592.8 L622.2 592.4 L624.4 595.3 L626.4 594.3 L628.5 595.7 L630.5 593.7 L632.6 594.3 L634.5 591.3 L636.6 592.8 L638.8 593.9 L640.8 592.9 L642.8 591.3 L644.9 592.3 L646.8 590.4 L649.1 593.1 L651 591.6 L653.1 591.8 L655.1 590.6 L657.3 592.3 L659.1 589 L661.5 592.8 L663.4 590 L665.6 592.2 L667.6 590.7 L669.8 593.2 L671.6 589.1 L673.8 590.6 L675.8 590.1 L677.8 592 L679.8 591.8 L681.9 592.8 L684 592 L686.1 590.9 L688.1 592.6 L690.3 589.6 L692.2 591.9 L694.3 591.3 L696.4 590.8 L698.5 591.3 L700.5 591 L702.7 590.2 L704.7 589.9 L706.7 591.7 L708.5 592.9 L710.6 592.6 L712.8 591.2 L714.7 591.9 L716.2 594.4 L718 595.6 L720.2 594.7 L722.2 594.8 L724.2 596 L726.4 593.9 L728.4 594.7 L730.5 593.2 L732.5 595.3 L734.5 595.8 L736.6 595.8 L738.5 597.8 L740.7 596.5 L742.8 595.1 L744.8 596.9 L746.9 596.3 L744.8 596.7 L743 598.1 L740.2 595.6 L738.4 597.2 L736.4 598.1 L734.3 598.6 L732.3 599.1 L730.7 601.8 L728.4 601 L728.6 602.5 L731.1 604.1 L728.4 605.6 L726.4 606.2 L726.5 609.5 L724.2 609.7 L722.2 610.2 L724.6 610.9 L725.2 612.7 L725.3 614.9 L724.8 617.4 L722.7 618 L721.5 619.5 L719.1 619.5 L718.2 621 L716.1 621.2 L714.9 622.4 L714.4 624.2 L715.1 626.2 L716.5 628 L716 630.4 L714.6 633.4 L712 629.5 L710.9 633.9 L708.4 630.7 L706.7 631.9 L705.2 633.3 L704.4 635.5 L702.1 635.9 L700.1 635.3 L698.7 638 L696.6 635.9 L695 637.9 L693 636.5 L691.3 637.5 L689.6 638.8 L687 637.6 L686.4 641.5 L683.9 640.7 L682 641.2 L679.6 640.6 L679.3 645.3 L675.5 641.3 L674.2 643.3 L672.7 644.9 L670.9 644.7 L669.2 646.4 L667.2 644.1 L665.3 643.6 L663.5 644 L661.9 645.8 L659.6 646.5 L659.2 648.6 L657.4 649.7 L657.2 652 L654.5 651.7 L654.6 654 L654.4 656.1 L652.6 656.7 L654.8 659.3 L649.6 659.8 L651.1 662.2 L649.4 662 L648.4 665 L646.4 663.2 L643.6 664.7 L643.7 660.8 L641.8 660.7 L640.1 658.8 L637.9 660.7 L636 659.6 L634.1 659.8 L632.8 658.7 L633.1 656.1 L630 656.8 L629.4 655.1 L627.8 654.4 L627.5 652.4 L624 653.6 L624.8 650.5 L623.8 648.8 L623.9 646.3 L623.4 644.3 L620.1 644.3 L622.3 641.6 L619.2 640.1 L618.6 638.1 L621.3 638.4 L620 633.6 L623 634.3 L624.8 633.5 L622.9 632.9 L621.1 632.3 L618.8 632.9 L618.2 628.3 L615.5 630.4 L614.6 628.9 L613.9 627.5 L614 625.7 L611.1 626.1 L611.9 622.8 L610.2 622 L608.2 621.6 L607.8 619.5 L608 616.2 L604.2 617.3 L603.7 614.7 L601.6 614 L599.7 612.3 L597.2 615.9 L595.3 614 L593.4 612.4 L591.1 614.5 L589.2 612.7 L587.2 610.3 L585.4 613.9 L583.3 610.8 L581.5 613.6 L579.6 613.9 L577.6 612.9 L575.8 615.3 L573.8 613.3 L572.2 611.8 L570.1 612.1 L568.8 609.6 L566.2 611.3 L564.5 610.2 L563.8 608.2 L562.3 607.2 L559.6 607.6ZM536.7 620.5 L538.7 621 L541.2 619.5 L543 621.2 L545.3 620.6 L546.9 623.1 L549 623.2 L551.1 624 L553.7 622.6 L556 622.6 L557.1 626.4 L559.3 626.6 L561.4 627 L563.5 626.8 L565 628.3 L566.4 630.1 L568.4 630.1 L570.3 630.6 L572.2 631 L572.8 633.5 L574.6 634.5 L576.9 635 L579.1 635 L581.1 635.7 L583.2 636 L584.1 639.2 L587 637.7 L588.4 639.8 L591.1 638.6 L592.3 641.2 L594.2 642.2 L593.9 644.3 L592 644.4 L590.1 644.5 L589.4 646.9 L587.7 647.4 L587.6 644.1 L584.6 645.3 L583 644.3 L581.5 646.1 L579.6 646.9 L576.9 645.8 L575.3 647.4 L576.8 648.4 L577.8 650.2 L579.6 650.7 L581.9 650.4 L583 652 L585.4 653.6 L583 655.1 L581.2 656.2 L579.3 655.9 L577.5 653.8 L575.6 654.4 L573.8 655.1 L571.4 656.6 L569.6 654.6 L567.6 654.2 L565.2 655 L565.4 650.8 L563.2 651.5 L561.4 651.1 L559.5 650.8 L557.8 650 L555.7 650.2 L553.7 650.7 L552.1 648.9 L550.3 651.7 L548.4 646.1 L546.6 648.5 L544.7 648.4 L542.9 648.9 L542.7 646.9 L544.4 645.8 L546.2 645.9 L548 645.1 L549.8 646.4 L551.6 648.2 L553.4 646.5 L555.2 645.8 L557.6 645.1 L555.2 642 L558.4 641.6 L558.3 639.6 L556.3 639.6 L554.1 640.5 L553.1 637 L551.1 636.8 L549 637.2 L548 635.3 L546.7 634 L544.6 633.7 L544.4 630.7 L541.3 631.9 L539.5 630.2 L537.7 632.6 L535.9 633 L534 629.6 L532.2 630.2 L530.5 632.2 L528.6 631.9 L526.5 634.6 L525 630.8 L523.3 629.6 L521.2 631.3 L519.4 630.7 L517.5 630.8 L515.6 631.1 L513.8 630.2 L511.9 630.4 L510.8 629.1 L509.7 628 L510.4 624.9 L507.3 625.7 L509.3 625.4 L510 623.8 L509.9 621.3 L511.9 621.1 L513.7 619.6 L515.7 621.1 L517.5 620.6 L519.2 619 L521.2 620.5 L523.1 619.9 L525.1 619.6 L527 620.6 L528.9 620.7 L530.9 619.1 L532.8 619.8 L534.7 619.7ZM505.8 611.8 L507.6 613.1 L509.5 609.2 L511.3 610.4 L513.2 612.5 L515 611.8 L517 613.3 L519 611.2 L521 611.1 L522.9 612 L524.9 612.1 L526.8 613.7 L528.8 611.1 L530.8 610.2 L532.8 610.7 L534.7 612.8 L536.7 612.4 L538 611.2 L539.8 611.5 L540.6 608.7 L542.9 610.2 L545 609.8 L544.9 606.5 L546.7 605.7 L549 605.6 L550.8 603.7 L553.6 606.3 L555.1 603.7 L557 602.4 L559.4 603.4 L561.4 602.5 L563 600 L565.1 599.6 L567.5 600.8 L569.9 602.1 L571.8 600.5 L574 601.1 L576.4 602.1 L577.5 597.2 L580 598.5 L581.9 598.3 L583.2 596.5 L585.6 597.4 L586.8 595.1 L588.9 595.4 L591.1 596 L592.3 593.8 L590.1 595.1 L588.1 594.3 L586.3 591.8 L584.2 591.4 L582.2 591.1 L580 592.7 L577.9 592.8 L575.9 591.4 L574 590.1 L571.6 592.8 L569.7 591.2 L567.6 591.7 L565.5 591.4 L563.5 592.4 L561.4 590.1 L559.3 594.5 L557.3 591.4 L555.2 589.9 L553.2 590.7 L551.1 591.3 L549 588.9 L547 592.6 L544.9 592.9 L542.9 591.7 L540.9 591.6 L538.8 590.7 L536.8 590.7 L534.9 591.5 L532.9 590.1 L530.9 590.5 L529.3 595.4 L527.1 592.8 L525.1 592.1 L523 591.1 L521.2 593.2 L519.6 595.2 L517.4 594.2 L515.9 596.7 L513.4 594.5 L511.7 595.8 L509.3 594 L507.8 596.3 L505.8 596.3 L505.5 599.6 L502.7 598 L500.8 598 L499.6 599.4 L500.6 601.9 L502.5 602.4 L505.7 599 L507.4 600 L508.8 601.6 L510.1 603.6 L511.9 604.1 L514 603.7 L515 605.6 L517.4 604.8 L518.1 607.1 L516.2 607.3 L515.3 610.5 L513.2 610.1 L510.2 607.6 L509 609.6 L507.1 610ZM420.7 627.3 L419.9 629.3 L422.7 630 L422.3 631.9 L424.5 631.6 L426.1 634 L429 630.4 L430.3 634.5 L432.6 633.7 L434.6 634.4 L436.6 634.6 L438.7 633.3 L440.4 635.1 L442.7 632.8 L444.6 632.8 L446.3 635.3 L448.3 634.5 L450.1 636.2 L452.1 638.2 L454.2 637.5 L456.3 636.2 L458.4 634.4 L460.4 638 L462.5 636.6 L464.9 637.7 L466.3 635.8 L467.7 633.8 L470 634.3 L471.7 633.5 L471.7 631.5 L470.2 630.4 L468.8 627.5 L466.4 630.3 L464.3 631.5 L462.6 630.1 L460.9 628.8 L461.8 626.6 L460.2 625 L459.4 623.2 L457 623.9 L455.2 622.3 L453.2 621.7 L451.2 621.2 L449.7 623.7 L447.6 622.2 L445.7 622.2 L443.9 623.2 L441.9 622.3 L439.8 622.6 L437.8 622.2 L435.6 622.7 L433.6 622.2 L431.6 621.7 L430.2 624.8 L428.1 623.2 L426.2 623 L424.6 624.7 L422.3 622.1 L420.7 623.6 L419 625.4ZM396 624.2 L398.9 622.6 L398.9 626.3 L400.9 626.3 L401.2 629.4 L403.7 628.5 L405.6 628.6 L407.5 628.7 L409.3 627.6 L411.3 628.7 L413 627.3 L414 626.2 L415.2 625.4 L416.1 624.2 L417.8 623 L419.5 622 L422.5 625 L423.3 621.1 L425.4 621.1 L423.2 622.1 L423.3 617.3 L421.3 617.7 L419.2 618.6 L417 620.1 L415.1 618.3 L413.1 617 L410.9 619.7 L408.9 617 L406.8 618 L404.4 616.6 L403 619.4 L401.4 620.9 L399.1 620.1 L398.2 621.6 L396.7 622.6ZM422.3 615.8 L424.1 616.7 L426.1 616.5 L428.3 615.1 L430.3 614.6 L432.1 616.3 L434.1 616.1 L435.6 619.1 L437.7 618 L439.8 617.5 L441.7 616 L443.7 615.3 L446.1 618.4 L448.2 618.8 L450.2 617.9 L452.1 615.9 L454.2 616.6 L456.3 616.4 L455.5 614.9 L456.3 613.3 L454.2 613.5 L452.1 613 L450.2 611.9 L447.9 613.4 L446.1 610.9 L443.9 611.8 L441.8 609.5 L439.8 610.7 L437.8 612.8 L435.7 614 L433.7 614.8 L431.6 614.3 L429.5 613.6 L427.5 613.2 L425.4 612.4 L423.6 612.8 L423.7 615ZM487.2 616.4 L489.2 618.1 L491.2 618.1 L493.5 615.6 L495.5 616.8 L497.4 618.5 L499.6 616.9 L501.6 617.6 L503.9 614.8 L505.8 617.7 L507.8 616.1 L509.9 617.1 L512 616.3 L514 618.5 L516 618.7 L518.1 618.3 L520.2 616.7 L522.3 616.2 L524.3 620 L526.4 616.4 L528.4 619.9 L530.5 618 L532.4 618 L533.6 616.5 L534.9 615.2 L536.7 614.9 L534.7 613.8 L532.2 615.3 L530.3 614.3 L528.3 613.7 L526.2 613.5 L524.3 612.1 L522.3 612.7 L520.2 611.6 L518.1 613.1 L516.1 612.5 L513.9 610.8 L511.9 612.9 L510 615 L507.8 613 L505.8 612.7 L503.7 614.9 L501.9 611.6 L499.9 613.5 L498.1 611.6 L496 613.9 L494.3 610.1 L492.3 610.8 L490.3 611.8 L488.5 612.8 L487.4 614.3ZM490.3 606.5 L492.2 605.3 L494.1 604.5 L496.1 607 L498 605.6 L499.9 605.2 L501.9 606.6 L503.8 607.2 L505.8 606.2 L508.2 606.9 L509.1 603.8 L512.3 606.5 L513.9 604.9 L515 602.5 L513.7 600.3 L511.3 601.2 L510.3 598.2 L507.8 599.5 L505.8 599.4 L503.8 600.9 L501.6 599.3 L499.6 600.2 L497.5 600.1 L495.3 597.1 L493.4 600 L491.7 600.5 L490.9 602.7 L490 604.8 L487.2 603.1 L488.6 603.9 L489.2 605.4ZM488.7 625.1 L490.9 623.1 L492.6 625.4 L494.6 624.8 L496.5 625.7 L498.8 625.9 L500.1 623.5 L503 625.1 L504.2 622.6 L502.2 621.7 L502.7 619.5 L500.6 618.6 L498.5 617.8 L496.5 620.4 L494.4 620.2 L492.4 620.5 L490.3 619.5 L488.6 621.1 L488.5 623ZM468.7 625.7 L470.4 626.6 L472.3 626.5 L474.3 626.4 L476.1 626.9 L477.9 627.3 L478.8 625.1 L481.1 625.8 L482.6 625 L484.1 624.2 L484.8 621.7 L482.6 620.5 L480.8 619 L478.9 621.8 L477.2 619.7 L475.3 621.6 L473.5 621.1 L471.7 620.1 L469.1 621.1 L467.3 622.5ZM462.5 615.8 L464.5 615.4 L466.7 613.3 L468.7 614.4 L470.6 618.4 L472.7 618.6 L474.8 615.9 L476.8 619.1 L478.9 619.1 L481 616.4 L480.3 614.5 L482 613.3 L482.6 611.8 L480.6 612 L478.6 611.5 L476.6 612.5 L474.6 611.3 L472.6 612.4 L470.6 611.5 L468.7 611.5 L467.6 613.2 L466.5 615 L465.1 616.3ZM515 650.5 L516.3 651.7 L518.1 651.9 L519.9 651.9 L521.2 653 L523.1 652.6 L525 652.8 L526.9 652.8 L528.8 652.8 L530.5 651.4 L531.6 649.8 L533.5 649.7 L535.1 648.9 L533.3 648 L532.1 645.8 L529.9 645.7 L527.6 645.9 L525.8 644.9 L523.9 645.1 L521.9 644.6 L520.1 645.7 L518.1 645.8 L516.1 646.7 L514.7 648.1ZM476.4 634.4 L478.3 634.6 L479.9 636.1 L481.9 635.8 L483.7 636.3 L485.7 636.2 L486.7 634.3 L488.7 633.5 L486.6 634.1 L485 632 L482.5 634.6 L481 631.9 L479.5 632.9 L477 631.8ZM600.7 700.9 L601.8 699.1 L602 696.7 L603.5 695.1 L604.2 692.9 L606.2 691.7 L607.7 691 L609.2 690.2 L610.8 689.6 L612.4 689.2 L612.6 691 L611.4 692.3 L610.9 693.8 L613.3 692.6 L614.8 694.8 L616.8 694.9 L618.6 696 L618.9 697.8 L618.5 699.7 L618.2 701.7 L620.1 703.1 L618.2 703.5 L616.3 704.3 L614.3 703.3 L612.4 703.4 L610.6 703.3 L609.3 702 L607.8 701.2 L606 702 L604.2 700.8 L602.4 701.2ZM387.3 691.7 L389.3 692.4 L391.5 691.9 L393.7 691.8 L395.5 693.2 L397.5 693.8 L398.2 695.5 L399.6 696.4 L401.4 697 L402.2 698.5 L400 698.8 L398.2 696.6 L396 697.5 L394.3 696.3 L392.4 695.4 L391 693.8 L389.5 692.2ZM521.2 780.5 L522.7 779.6 L524.1 778.6 L526 778.4 L527.4 777.4 L529.3 777.5 L531.2 776.8 L533.2 777.5 L535.1 777.1 L536.9 777.9 L538.8 778.7 L540.8 779 L542.2 780.7 L544.2 781 L545.9 782 L547.3 783.6 L549.4 783.7 L551 784.8 L553.1 784.8 L554.6 786.1 L552.5 785.8 L550.5 786.2 L548.4 785.9 L546.4 786.8 L544.4 787 L544.2 785.4 L542.9 784.5 L540.7 784.6 L539.1 783.4 L537.5 782 L535.5 781.5 L533.6 781.1 L531.5 780.6 L529.5 780.3 L527.4 779.9 L525.4 780.7 L523.3 780.7ZM554 791.3 L555.4 789.9 L556.7 788.3 L558.3 787 L560.1 787.6 L562 787.3 L563.9 787.1 L565.7 787.1 L567.6 787.3 L569.7 787.9 L570.9 789.8 L572.5 791 L570.8 791 L569.2 791.7 L567.6 791.9 L565.8 792 L564.7 793.7 L562.9 793.8 L561.3 793.2 L559.9 792.3 L557.8 792.7 L556 791.4ZM541.9 791.6 L543.9 792.3 L546.1 791.6 L548.1 792.3 L547.5 793.2 L545.9 793.1 L544.4 792.9 L542.9 793.5ZM576.2 791.3 L577.8 790.7 L579.3 791.6 L580.9 791.6 L580.6 792.9 L579.1 793 L577.7 793.5 L576.2 792.9ZM708.3 645.8 L710.2 645.2 L712.4 645.2 L714.1 643.8 L716 643.1 L717.9 645.9 L720.1 643.8 L722.2 643.2 L724.3 641.6 L726.3 643.2 L728.4 643.7 L730.7 645.2 L732.4 642.5 L734.5 642.7 L735.9 644.1 L738.3 643.9 L739.2 645.8 L741.8 644.4 L742 647.4 L740.5 648.1 L739.1 648.9 L737.6 649.6 L736.5 652.5 L733.6 649 L732.2 651 L730.6 652.1 L727.9 649.3 L726.8 652.3 L724.7 653.1 L722.7 652.2 L720.6 652 L718.8 650.6 L716.5 651.4 L714.4 650.8 L715.8 650.3 L716 648.9 L714 648.2 L712 647.3 L709.8 647.7 L711.2 646.5 L712.9 646.8 L714.4 646.5 L712.2 648 L710.3 645.9ZM767 693.5 L769 693 L771 691.7 L773.2 692.9 L775.3 694 L776.8 690.7 L778.8 690.8 L780.9 691.7 L782.6 691 L784.6 691.7 L786.1 689.9 L788 690.1 L789.1 688.7 L789.4 687.1 L788.6 685.5 L786.3 686.9 L784.9 684.5 L785.1 682.5 L783.4 681.4 L782.2 680.2 L781.7 678.1 L779.4 678.3 L777.7 677.3 L777.8 675.2 L776.8 673.7 L778.6 672.2 L777.8 670.6 L776.3 670.3 L774.8 669.5 L773.2 670 L773.9 668.6 L774.7 667.2 L772.7 670 L770.6 670 L768.5 667.2 L767.5 669 L766.1 670.6 L766.2 672.2 L766.5 673.7 L767 675.2 L768 676.2 L769.2 676.8 L770.2 678.3 L768.5 679 L770.4 678.1 L772.3 678.5 L774.1 679 L773.2 681.2 L774.7 683 L773 682.4 L771.7 683.9 L770.1 683.9 L769.1 685.8 L771 686.7 L769.9 688.3 L767.9 688.2 L769.7 688.5 L771.3 689.7 L773.2 689.5 L772.6 691.4 L770.7 690.7 L769.4 691.6 L768 692.2ZM753.1 688.2 L755.1 688.8 L757.2 688.2 L759.3 688.6 L761.6 689.9 L763.1 688.6 L764.5 687 L764.7 684.9 L765.5 683 L765.1 681.2 L766.4 679.9 L765.3 678.7 L763.9 677.7 L762.4 677.7 L760.8 678.3 L759.3 677.7 L758.8 679 L757.7 679.9 L756.4 681.3 L754.9 681.9 L753.1 680.8 L753.8 682.4 L754.6 683.9 L753.9 685.3 L753.1 686.7ZM816.5 602.5 L818.6 604.3 L819.8 600.3 L821.7 600.6 L823.3 599 L825.6 602.3 L827.3 601 L829.4 601.4 L831.3 598 L833.5 601 L835.6 602.4 L837.7 601.8 L839.7 600.3 L841.6 597.5 L843.8 600.7 L845.9 601.7 L847.9 600.7 L850 600.9 L852 600 L854 599.2 L855.9 599.7 L857.8 600.5 L859.7 601.7 L861.7 599.6 L863.6 599.8 L865.6 600.4 L867.5 600.6 L865.6 601.2 L863.3 600.1 L861.8 601.9 L860.3 603.5 L858.2 603.4 L856.7 605.3 L854.3 603.4 L852.8 605.4 L851 606.1 L848.9 605.6 L847.2 607 L843.9 604.9 L842.9 607.9 L841.2 609.3 L838.9 609.2 L836.9 609.8 L835 611.2 L833.4 609.6 L831.4 609.1 L828.7 611 L827.3 608.7 L826.2 606 L823.5 607.3 L821.3 607.2 L820.9 603.2 L818 604.7 L817.6 603.3ZM923.1 599.4 L925 598.6 L926.8 596.3 L928.8 597.4 L931 600.1 L932.7 597.6 L934.7 598.5 L936.6 597.2 L938.6 598.2 L940.6 597.5 L942.7 598.5 L944.9 599.5 L946.8 597.4 L948.8 595.1 L950.9 596.7 L953 596.7 L955.1 598.5 L957.3 600 L959.2 596.7 L961.2 596 L963.3 596.9 L965.4 596.9 L967.4 598.5 L969.5 596.9 L971.5 597.7 L973.6 597.7 L975.6 600 L977.9 595 L979.8 597.1 L981.9 597.9 L980 599 L977.6 598.1 L975.3 597.1 L974 601.6 L971.9 601.7 L969.5 600.3 L967.4 599 L965.4 600 L963.3 601.2 L961.3 602.9 L959.2 599.9 L957.1 598.7 L955.1 601.1 L953.1 602.8 L950.9 600 L948.9 602.1 L946.9 601.6 L944.8 601 L943 598.2 L940.9 600.5 L938.8 601.7 L936.9 599.9 L935 599.3 L933 600.2 L931 600.4 L929 600.7 L927.2 597.9 L925 601.2ZM943.2 627.3 L944.5 628.7 L945.8 629.8 L947.9 629.4 L949.8 630.3 L951.8 627.8 L953.7 628 L955.6 629.7 L957.8 630.3 L960.1 631.9 L961.8 628.8 L960.5 627.8 L960.3 625.7 L960 623.6 L957.1 624.2 L957.7 622.6 L954.4 621.1 L957.1 619.5 L959.2 619.2 L960.2 616.1 L962.8 616.9 L964.9 616.4 L966.9 616.6 L968.6 616 L970.5 615.8 L972.5 615.8 L974 614.1 L975.7 613.3 L977.8 613 L979.7 612.1 L981.4 609.5 L984.1 612.7 L985.8 610.3 L988.1 611.2 L989.9 610.3 L991.8 609 L993.6 607.9 L995.8 610.6 L994.2 612.2 L992.4 613.3 L989.7 612.5 L988.1 614 L986 614.3 L983.6 613.4 L982.2 616.8 L980.2 617.7 L978 617.4 L976 618.2 L973.6 617.2 L971.6 617.7 L969.5 618 L967.3 617.4 L966 618.7 L964.9 620.4 L963.3 621.1 L961.3 621.2 L960.5 625 L957 620.6 L956.6 625.7 L954 624.2 L952 625.3 L949.9 624.3 L947.9 624.2 L946.8 625.9 L944.2 625.4ZM1080.8 604.1 L1082.7 602.6 L1085.1 603.9 L1087.3 604.3 L1089.3 603.5 L1091.3 603 L1093.2 601.6 L1094.9 604.6 L1097.2 603.2 L1099.5 601.5 L1101.4 602.9 L1103.6 601.6 L1105.5 603.1 L1108.4 603.1 L1108.6 605.9 L1106.7 606.9 L1104.7 605 L1102.8 604.6 L1100.8 604.7 L1098.9 604.2 L1097 606.6 L1095.1 606 L1093.2 606.5 L1090.1 608.2 L1090 603.2 L1087.8 603 L1085 603.9 L1083 603.1 L1081.8 600.6 L1078.7 602.3 L1077.7 599.4 L1079.5 597.8 L1081.7 598 L1083.9 597.9 L1081.2 596.3 L1080.9 599.6 L1079.3 600.3 L1077.7 601 L1079.2 601.5 L1079.2 603.6ZM1207.6 614.9 L1209.8 615.8 L1211.9 615.8 L1214 616.4 L1215.9 614.6 L1217.9 613.4 L1219.9 613.3 L1222 612.2 L1223.8 614.1 L1225.6 615.3 L1227.7 613.7 L1229.4 616 L1231.2 617.5 L1233.2 617.4 L1235.4 615.2 L1237.6 613 L1239.6 614.2 L1241.6 615.3 L1243.6 615.7 L1245.6 617 L1247.8 615.8 L1245.6 615.8 L1244.3 619.5 L1241.6 617.4 L1239.5 617.9 L1237.5 614.5 L1235.4 616.8 L1233.3 618.6 L1231.3 617.3 L1229.2 618.1 L1227.2 616.7 L1225.1 617.1 L1223 617.1 L1221 618.2 L1218.9 618.1 L1216.8 617.9 L1214.8 617.2 L1212.7 615.2 L1210.7 617.1 L1210.6 613.8ZM1335.9 628.5 L1338.1 630.8 L1339.4 629.3 L1340.5 627.3 L1340.5 629.1 L1339 628.5 L1337.3 629.9ZM227.5 627.3 L229.4 627.9 L231.3 628 L233.3 627.9 L235.2 627.9 L233.7 629.1 L231.6 630.1 L229.6 627.9 L227.5 629.1ZM1223 680.5 L1223.6 682.2 L1224.3 683.8 L1226.1 684.5 L1226 686.7 L1225.3 688.9 L1227 690.7 L1228.5 692.3 L1227.9 694.7 L1229.2 696.3 L1227.7 697.7 L1227.4 699.6 L1226.2 701.1 L1226.1 703.1 L1227 704.3 L1227.7 705.6 L1226.1 706 L1224.6 706.2 L1223 706.2 L1223.4 704.1 L1223 702.1 L1223 700 L1224 697.9 L1224.5 695.9 L1223 693.8 L1222 691.9 L1221.9 689.8 L1222.1 687.6 L1223.3 686 L1222.1 684 L1223.3 682.4ZM1216.8 720.1 L1217.7 718.5 L1219.5 717.8 L1220.6 716.5 L1221.5 714.9 L1221.8 713.3 L1221.2 711.6 L1222.3 710 L1222.1 708.4 L1223.1 709.9 L1225.1 709.7 L1226.7 710.3 L1227.7 711.8 L1229.8 712.2 L1231.4 713.6 L1233.2 714.6 L1231.3 714.9 L1230.3 716.8 L1228.8 717.8 L1227 718.6 L1225.5 717.3 L1223.4 718 L1221.8 717.1 L1219.9 717 L1219.4 718.6 L1218.6 719.8ZM1220.9 720.8 L1222.4 722.3 L1221.9 724.6 L1223 726.3 L1221.9 727.8 L1221.1 729.5 L1219.9 731 L1219.4 733 L1219.4 735.1 L1219.3 737.2 L1218.3 738.8 L1216.8 740.3 L1215.2 741.7 L1213.1 741.2 L1211.2 740.6 L1209.4 740.8 L1207.6 741.5 L1206 742.4 L1204.7 743.5 L1203.5 744.9 L1202.8 743 L1201.4 741.5 L1199.4 741.6 L1197.4 741.5 L1195.5 742 L1193.7 742.7 L1192.1 742.5 L1190.6 743.6 L1189 743.3 L1189 741.8 L1191.1 741.6 L1192.7 740.6 L1193.7 738.7 L1195.5 737.9 L1197.5 738.7 L1199.5 738.6 L1201.4 738.1 L1203.4 737.4 L1204.7 735.5 L1206.6 734.7 L1207.7 733.7 L1208.5 732.5 L1210.3 732.9 L1212.2 733.1 L1212.6 731.4 L1213.8 730.2 L1215.3 729.4 L1216 727.9 L1215.8 726.1 L1216.8 724.8 L1216.8 723.1 L1217.8 721.7 L1219.3 721.1ZM1185.9 744.9 L1187.5 745.1 L1189 744.3 L1190.6 744.3 L1191.7 745.6 L1191.5 747.4 L1190.3 748.6 L1190.3 750.5 L1189 751.7 L1188 752 L1186.9 752 L1185.4 750.2 L1185.9 748 L1186 746.4ZM1193.7 744 L1195.6 743.6 L1197.1 742.1 L1199.2 742.4 L1199.8 744.3 L1198.2 745 L1196.9 746.4 L1195.2 747.1 L1194.5 745.5ZM1158.1 770.6 L1159.5 771.4 L1161.2 771.2 L1160.6 773.1 L1160.4 775.1 L1159.7 776.9 L1159.2 778.8 L1158.1 780.5 L1157.1 778.8 L1155.6 777.4 L1156.2 775.7 L1156.8 774 L1158.3 772.6ZM1120.1 788.9 L1121.8 787.9 L1123.8 787.3 L1125.6 786.7 L1126.7 787.1 L1127.2 788.2 L1126.3 789.6 L1125.9 791.3 L1124.1 791.9 L1122 791.9 L1120.1 791.3 L1119.4 790.1ZM1156.6 791.3 L1158.3 790.9 L1160.1 791.2 L1161.8 791.6 L1162.3 793.7 L1160.4 795.5 L1161.2 797.5 L1160.6 799.1 L1160.5 800.7 L1159.6 802.2 L1161.1 803.5 L1162.7 804.6 L1164.1 805.6 L1165.7 805.8 L1167.4 805.9 L1167.6 807.6 L1167.4 809.3 L1166 808.6 L1164.8 807.4 L1163.4 806.8 L1161.6 806.6 L1159.9 806.4 L1158.1 806.2 L1156.8 804.6 L1155.9 802.8 L1155 801 L1155 799.1 L1155.4 797.1 L1155.4 795.1 L1156.8 793.4ZM1161.2 826.9 L1162.5 825.9 L1163.6 824.7 L1164.7 823.5 L1165.8 822.3 L1167.2 821.1 L1169.2 820.8 L1170.9 820.2 L1172 818.6 L1172.2 820.6 L1173 822.4 L1174.5 823.8 L1174.8 825.7 L1173.2 827.2 L1173.6 829.1 L1172.4 829.9 L1171.4 831 L1170.1 830.1 L1168.6 829.4 L1167.4 828.5 L1167 826.7 L1165.8 825.4 L1164.5 826.7 L1162.8 826.6ZM1161.2 812.1 L1163.1 812.2 L1164.9 813 L1165.3 814.5 L1165.3 816.1 L1165.2 817.6 L1163.8 818.1 L1162.7 819.2 L1162.3 817.5 L1161.2 816.1 L1161.4 814.1ZM1168.3 809.9 L1170.1 810.6 L1172 810.5 L1172.4 812.5 L1172.6 814.5 L1170.9 815.2 L1170.5 817 L1169.9 815.7 L1168.9 814.5 L1167.8 813.1 L1168 811.5ZM1146.4 822.6 L1147.8 821.6 L1149.1 820.4 L1150.4 819.2 L1151.1 817.7 L1152.3 816.6 L1152.7 814.9 L1153.8 813.6 L1153.3 815.2 L1152.5 816.7 L1151.3 818.3 L1149.8 819.6 L1148.8 821.4 L1147.5 821.8ZM1121 844 L1122.5 843.6 L1124 843.1 L1125.6 843 L1126.8 841.4 L1128.1 839.9 L1130 839.9 L1131.8 839.9 L1133.4 838.7 L1134.5 837.5 L1135.6 836.3 L1137.1 835.5 L1138 834 L1138.8 832.2 L1140.5 830.9 L1141.6 829.2 L1142.6 827.5 L1144.2 827.4 L1145.7 827.9 L1147.3 827.9 L1148.4 829 L1149.5 830.3 L1150.6 831.5 L1151.9 832.5 L1150.3 833.8 L1148.8 835.3 L1147.8 837.1 L1148.1 839 L1148.2 840.9 L1148.7 842.8 L1149.5 844.4 L1151.3 845.5 L1150.1 846.7 L1148.9 847.9 L1147.3 848.6 L1147.6 850.1 L1147.3 851.7 L1146.2 853.2 L1145.3 854.9 L1144.2 856.3 L1143 857.6 L1142.5 859.2 L1142.6 861 L1141.1 861.6 L1139.6 860.7 L1138 861 L1136.5 860.1 L1134.8 859.5 L1133.4 858.5 L1131.8 858.6 L1130.3 858.6 L1128.7 858.5 L1128.3 856.5 L1126.6 855.7 L1125.3 854.5 L1124.1 853.2 L1123.1 851.6 L1121.7 850.4 L1121 848.6 L1120.8 847 L1120.9 845.5ZM1078.6 831.3 L1080.4 831.2 L1082.1 831.8 L1083.7 832.4 L1085.4 832.5 L1087.6 833.1 L1089 834.7 L1089.6 837.2 L1092 837.5 L1093.2 839.3 L1094.9 840 L1096.3 841.4 L1097.8 842.4 L1098.4 844.2 L1101 844.2 L1101.8 845.9 L1103 847.1 L1104 848.6 L1105.1 850.1 L1106.7 851.3 L1107.1 853.2 L1108.1 854.5 L1108.7 856.2 L1111 856.2 L1111.7 857.9 L1111.7 859.6 L1110.9 861.3 L1111.6 863.1 L1110.8 864.8 L1111.1 866.5 L1109.1 866 L1107.1 866.2 L1105.3 865 L1103.6 863.7 L1102.1 862.2 L1100.3 861 L1099.1 859.3 L1097.4 858 L1096.3 856.3 L1095.2 854.7 L1093.5 853.6 L1093.1 851.5 L1091.6 850.1 L1090 849 L1090 847.1 L1089 845.7 L1088.5 844 L1087.5 842.6 L1086.8 841.1 L1085.5 840 L1083.9 839.3 L1082.5 837.9 L1082 835.9 L1081.4 834.1 L1079.5 833ZM1109.6 869.6 L1110.9 868.9 L1111.9 867.8 L1113.3 867.2 L1115.4 867.2 L1117.5 867.6 L1119.5 868.7 L1121.2 868.6 L1123 867.7 L1124.8 868 L1126.6 868.4 L1128.6 868.9 L1130.6 869.4 L1132.4 870.3 L1134.1 871.5 L1136 872.1 L1138 872.4 L1138.7 874 L1137.4 875.2 L1135.4 874.6 L1133.3 874.4 L1131.2 874.9 L1129.2 874.5 L1127.2 874.3 L1125.2 874.8 L1123.6 872.9 L1121.5 874 L1119.7 873.3 L1117.9 872.7 L1116.1 872.5 L1114.4 871.7 L1112.7 871.2 L1110.8 871ZM1139.6 874 L1141.6 874.2 L1143.7 874.4 L1145.7 874 L1147.8 874.5 L1149.9 873.7 L1151.9 874.6 L1154 874 L1156 874.9 L1158.1 874.6 L1160.2 875.5 L1162.2 874.3 L1164.3 874.3 L1163.7 875.8 L1161.9 875.5 L1160.2 875.1 L1158.5 875.8 L1156.8 877.1 L1155 876.1 L1153.1 876.1 L1151.3 877 L1149.4 876.5 L1147.6 876.2 L1145.7 876.5 L1143.9 876 L1142.1 875.7 L1140.2 875.8ZM1165.8 880.5 L1167.3 879.1 L1168.7 877.6 L1170.5 876.5 L1172.8 876.8 L1174.7 875.6 L1176.7 874.6 L1176.1 876 L1175.1 877.1 L1173.7 878.2 L1171.7 877.9 L1170.4 879.2 L1168.9 880.2 L1167.4 880.2ZM1153.5 865.6 L1153.3 863.6 L1152.5 861.5 L1153.5 859.4 L1152.4 858.1 L1153.2 856.1 L1151.9 854.8 L1153.3 853.6 L1153.1 851.7 L1154.7 850.5 L1154.4 848.6 L1156.2 848 L1156.1 845.8 L1157.5 844.9 L1159.2 845 L1160.9 845.1 L1162.6 845.4 L1164.3 845.5 L1166.3 844.6 L1168.4 844.4 L1170.5 843.6 L1170 845.5 L1168.9 847 L1167 847.1 L1165.1 847.3 L1163.1 847.6 L1161.2 847 L1159.7 847.9 L1158 846.6 L1156.6 847.7 L1156.4 849.7 L1155.6 851.7 L1157.6 852 L1159.6 851.7 L1161.5 851.6 L1163.3 851.1 L1165.2 851.1 L1164 852.2 L1162.4 853 L1161.2 854.2 L1160.1 855 L1159.6 856.3 L1160.3 857.8 L1161.5 858.6 L1162.7 859.4 L1163.4 860.9 L1163.8 862.5 L1164.3 864.1 L1162.8 863.5 L1161.2 863.5 L1160.4 861.4 L1158.9 859.9 L1158.1 857.9 L1158 859.4 L1156.6 859.4 L1156 861.5 L1156.3 863.6 L1155.9 865.6 L1154.7 865.2ZM1178.2 842.4 L1179.8 843 L1181.3 844 L1181.1 845.9 L1181.9 847.7 L1180.1 848.9 L1179.7 851.1 L1179.6 849 L1178.8 847 L1179.6 845.4 L1177.8 844ZM1179.7 857.9 L1181.7 857.9 L1183.6 858.6 L1185.5 858.7 L1187.5 857.9 L1188.4 859.7 L1186.6 859.3 L1184.9 859.1 L1183.1 859.3 L1181.3 859.4 L1180.9 858.3ZM1189 851.1 L1190.3 849.8 L1192.1 850.3 L1193.7 849.8 L1195.2 850.3 L1196.8 850.4 L1198.3 851.1 L1199.2 853 L1199.8 854.9 L1200.4 857 L1201.4 858.8 L1203.1 858.1 L1204.3 856.5 L1205.7 855.4 L1207.4 854.5 L1209.1 853.9 L1210.9 854.5 L1212.7 854.9 L1214.5 855.4 L1216.4 855.3 L1218.1 856.4 L1219.9 856.6 L1221.9 856.8 L1223.8 857 L1225.4 858.3 L1227.1 859.4 L1229.1 859.3 L1230.8 860.4 L1232.4 861.3 L1232.7 863.3 L1234.1 864.4 L1235.4 865.6 L1236.8 866.7 L1238.4 867 L1240 867.2 L1240.1 868.8 L1241 870.2 L1241 871.8 L1242.4 873.2 L1243.7 874.6 L1244.8 876.1 L1245 878.4 L1246.7 879.5 L1247.8 881.1 L1245.7 880.5 L1243.6 880.5 L1241.6 880.2 L1240.2 878.6 L1238.8 877.2 L1236.7 876.5 L1235.4 874.9 L1233.9 874.1 L1232.1 874.3 L1230.8 873 L1229.2 872.4 L1228.3 874.1 L1227 875.4 L1226.1 877.1 L1224.1 876.6 L1222 877.2 L1219.9 877.1 L1218.2 876.4 L1217.3 874.4 L1215.4 874.1 L1213.8 873.4 L1212.3 874.1 L1210.7 874.3 L1211 872.1 L1212.2 870.3 L1212.3 868.5 L1211.3 867.1 L1210.7 865.6 L1208.8 864.7 L1207.1 863.4 L1205.2 862.6 L1202.9 862.5 L1201.1 861.8 L1199.1 861.5 L1197.1 861.6 L1195.2 861 L1195.4 859 L1194.6 857.3 L1193.7 855.5 L1192.3 854.2 L1190.6 853.2 L1189.5 852.3ZM1242.5 865.9 L1244.5 866.4 L1245.8 864.2 L1247.8 864.4 L1249 863 L1250.8 862.4 L1252.4 861.6 L1253.6 861.9 L1254.9 861.9 L1253.4 863.5 L1253 865.6 L1251.1 866 L1249.9 867.9 L1247.8 867.8 L1246.2 867.7 L1244.7 867.3 L1243.1 867.2ZM1250.2 857 L1252.2 857.7 L1253.9 858.8 L1254.9 860.1 L1256.2 861.1 L1257 862.5 L1255.8 862.8 L1255 861.3 L1253.5 860.4 L1252.4 859.1 L1251.2 858.2ZM1262.3 865.6 L1263.1 867 L1264.1 868.2 L1265.7 868.7 L1264.8 870 L1263.2 868.8 L1262 867.2ZM1277.1 873.4 L1278.6 874.8 L1280.9 875.3 L1281.8 877.4 L1280.2 878.3 L1279.2 876.9 L1277.1 876.4 L1276.5 874.6ZM1267.9 870.3 L1268.8 871.7 L1270.4 872.1 L1271.9 872.7 L1270.6 874 L1269.7 872 L1267.5 871.5ZM1291 911.1 L1292.8 911.5 L1294.4 912.3 L1295.7 913.6 L1297.6 914.5 L1298.8 916.2 L1300.3 917.6 L1298.8 917.9 L1297.4 916.6 L1295.7 915.7 L1294.1 914.7 L1292.6 913.6 L1292 912.2ZM1299.1 895 L1300.6 895.2 L1301.2 896.6 L1301.7 897.9 L1300.9 899.1 L1300.5 897.5 L1299.1 896.9ZM1332.2 902.8 L1334.2 903 L1336.2 903.1 L1336.2 904.2 L1335.9 905.2 L1333.9 905.4 L1332.2 904.6ZM1317.9 955.4 L1319.5 956.6 L1321.2 957.5 L1322.9 958.5 L1324.2 959.8 L1325.4 961.2 L1326.6 962.5 L1328.4 963.1 L1329.7 964.6 L1331.2 965.6 L1332.8 965.5 L1334.4 966 L1335.9 965.3 L1334.4 966.7 L1334.2 968.9 L1332.8 970.2 L1331.5 972 L1330.6 974 L1329.4 975.5 L1327.7 976.5 L1326 977.4 L1324.4 976.4 L1325.7 974.6 L1325.7 972.4 L1324.7 970.8 L1323 970.5 L1321.3 970.2 L1322.3 968.9 L1323.6 967.7 L1324.4 966.2 L1324.1 964.7 L1323.8 963.1 L1323.5 961.6 L1322.4 959.7 L1321 958.2 L1318.9 957.3ZM1317.9 974 L1319.3 975 L1321.2 975 L1322.6 976.1 L1321.8 977.2 L1322 978.6 L1320.8 980.3 L1319.3 981.5 L1318.3 983.2 L1316.7 984.1 L1315.2 984.9 L1313.6 985.7 L1312.5 987.2 L1312.4 989 L1312.1 990.7 L1310.1 991 L1308.7 992.9 L1306.5 992.8 L1304.8 992.9 L1303.4 992.1 L1301.9 991.6 L1300 991.9 L1298.8 990.4 L1299.8 988.6 L1302 988 L1303.6 986.9 L1304.3 984.8 L1306.2 984.3 L1307.4 982.5 L1309.6 982.6 L1311.1 981.4 L1312.8 980.1 L1314.1 978.4 L1315.8 977.1 L1316.3 975.1ZM1231.4 974.6 L1233.3 974.2 L1235.1 974.4 L1237 974.4 L1238.8 974.1 L1240.7 974.8 L1242.5 975.2 L1242.3 977 L1241.1 978.6 L1242 980.6 L1241.6 982.3 L1240.1 983 L1238.5 983.4 L1236.9 983.6 L1235.8 982.3 L1234.4 981.4 L1233.2 980.2 L1232.8 978.2 L1231.1 976.7ZM936.4 885.7 L936.6 887.7 L937.8 889.3 L938 891.2 L938.6 893.1 L939.9 894.6 L940.1 896.6 L939.1 898 L937.8 899.3 L937.6 901.1 L937 902.8 L936.8 904.6 L936.1 906.4 L935.6 908.2 L934.3 909.8 L935.3 912 L934 913.6 L932.9 915.2 L933.2 917.3 L931.7 918.8 L931.5 920.7 L930.7 922.5 L929.6 924.1 L929.3 926 L927.5 927.4 L925.3 927.3 L923.1 927.5 L921.9 926 L921 924.3 L919.8 922.8 L918.5 921.3 L919.3 919.3 L918.6 917.2 L918.5 915.1 L919.2 913.5 L920.2 912.2 L921.2 910.7 L921.6 909 L921.2 906.9 L921.4 904.9 L921.4 902.8 L922 900.8 L921.6 898.7 L923.1 898.1 L924.7 897.7 L926.5 897.9 L927.8 896.6 L928.7 894.9 L930.1 893.5 L931.3 892 L932.4 890.4 L933.3 888.5 L935 887.2ZM1031.3 818.3 L1032.1 820.2 L1034.4 820.5 L1035.4 822.3 L1035.9 823.8 L1036 825.5 L1036.9 826.9 L1036.1 828.5 L1034.1 828.6 L1033.2 830 L1031.9 828.5 L1030.7 826.9 L1030.7 825.2 L1030.5 823.4 L1031.9 821.8 L1031.3 820ZM809.7 721.7 L811.7 722 L813.7 721.7 L813.3 723.6 L813.7 725.4 L814 727.3 L812 726.8 L810.3 727.9 L809.7 725.8 L810.2 723.7ZM810.9 716.7 L812.2 716.2 L813.4 715.5 L813.3 717 L813.6 718.6 L813.4 720.1 L812.3 719.7 L811.2 719.8 L810.8 718.3ZM822.7 731 L824.6 730.9 L826.5 731.3 L828.4 730.4 L830.3 730.7 L832.2 730.3 L832.2 732 L831 733.3 L831 735 L829 734.3 L827.3 732.7 L825.2 732.2 L823 732.2ZM857 738.7 L859.1 738.2 L861.1 739.4 L863.3 738.6 L865.3 739.3 L865 740.3 L863 740.1 L861 739.6 L858.9 740.3 L857 739.6ZM883.9 740.3 L885.5 739.5 L887.2 739.1 L889 738.9 L890.7 738.4 L889.9 739.5 L889.1 740.6 L887.5 740.1 L886.3 741.3 L884.8 741.5ZM818 676.2 L819.7 676.3 L821.1 675.3 L822.7 675.2 L820.4 676.4 L822 678.3 L820.4 677.1 L818.6 678ZM306.3 670.6 L308 668.7 L310.6 670.2 L312.5 669.1 L313.1 670.3 L312.5 671.5 L311.1 672.4 L309.4 672.4 L307.9 672.8 L306.3 672.3ZM594.8 1008 L596.9 1007.7 L599 1006.9 L601.1 1007.2 L603.2 1006 L605.3 1008 L605.2 1010.1 L603.1 1010.5 L601.1 1010.6 L599 1011 L597 1010.2 L597 1007.9ZM666.5 1015.8 L668.6 1015.7 L670.6 1016.4 L672.7 1016.7 L673.3 1018.2 L671.9 1016.5 L670.3 1015.5 L668.1 1017ZM996.4 999.3 L998.3 999.7 L1000.4 998.5 L1002 1000.3 L1001.1 1001.2 L1001 1002.4 L999.6 1002.5 L998.1 1003 L996.7 1002.1 L994.6 1001ZM301.7 786.1 L303.5 786 L304.8 787.3 L303.7 788.4 L303.2 789.8 L302.3 789.2 L301.7 788.2ZM948.8 809.6 L950.6 810.5 L952.5 809.6 L951.9 810.5 L950.5 809.6 L949.1 810.5ZM756.2 734.1 L755 732.5 L755 730.6 L754.6 728.8 L754.6 726.9 L755.8 725.3 L756.9 723.7 L756.8 721.7 L755.4 719.8 L755.7 717.6 L755.6 715.5 L757.5 714.5 L759.3 713.3 L761.1 713.6 L763 713.2 L764.9 713.3 L766.7 713.6 L768.5 713.9 L770.4 713 L772.2 714.3 L774.1 714 L776 714.2 L777.8 714.3 L779.7 713.1 L780 710.8 L780.7 709.3 L781 707.8 L780.3 706.2 L778.7 705.1 L777.4 703.7 L776.3 702.2 L774.6 701.5 L772.7 701.5 L771.2 700.4 L769.5 700 L770.1 698.2 L772 696.6 L773.9 697.3 L775.9 699.4 L777.8 697.8 L777.2 695.7 L779.4 695.1 L781.1 695.5 L782.8 695.7 L784.6 695.4 L785.7 694.1 L787.1 693.6 L788.6 693.2 L789.7 691.3 L791.7 690.7 L793.6 690.5 L794.8 689.2 L795.6 687.9 L797 687.3 L797.9 686.1 L798.3 684.6 L799.5 683.6 L801.7 684.9 L803.6 683.5 L805.6 683 L806.7 680.9 L808.8 682.2 L810.3 681.4 L811.2 679.9 L810.6 678.3 L810.3 676.8 L809.1 675.4 L808.3 674 L809.4 672.2 L811.2 672 L813.1 671.7 L814.5 669.8 L816.5 670 L816.3 671.9 L815.9 673.7 L813.5 675.1 L814.9 677.4 L815.3 679.1 L817 679.5 L818 680.5 L819.6 680.1 L821.1 680 L822.7 680.5 L824.1 681.1 L826.1 679.6 L827.3 681.4 L829.4 682 L831 679.9 L833 679.8 L835 679.9 L837 678.6 L839.3 680.6 L841.2 679.3 L843 680.6 L845.2 680.2 L847 679.6 L847.6 677.8 L848.9 676.8 L848 675.2 L849.2 673.7 L848.9 672.2 L850.5 671.4 L851.3 669.2 L853.6 670 L854.6 671.9 L856.3 672 L858.2 671.5 L857.5 669.5 L859.1 668.1 L857.4 667.1 L856.7 665.3 L858.4 663.7 L860.4 663.6 L862.2 662.1 L864.4 664.4 L866.5 665.6 L868.4 662.6 L870.6 664.1 L872.8 664.3 L874.5 662.1 L876.8 662.9 L874.3 665 L873.9 661.3 L872.1 661.3 L870.4 662 L868.6 663 L866.6 660.3 L864.8 660.2 L862.9 659.9 L861.3 662.2 L859.3 661.9 L857.5 663.6 L855.5 662.4 L853.6 662.9 L852.7 661.5 L851.8 660.2 L849.9 660.4 L849.9 658.5 L849.9 656.7 L849.3 654.7 L850.5 653 L851.5 650.5 L853.9 650.4 L856.5 650.8 L857.4 648.1 L859.8 648 L861.1 647.1 L862.2 645.8 L860.6 643.9 L858.5 645.6 L856.7 644.9 L854.7 643.4 L853.7 646 L852 645.8 L851.1 647.5 L849.9 648.9 L847.5 648.7 L846.9 652 L844.1 650.9 L842.7 652.6 L840.4 652.3 L840.4 655.1 L838.7 655.5 L837.5 656.7 L840.1 658.9 L837.2 660.7 L838.5 662.1 L840.4 662.3 L842.1 662.9 L840.1 663 L839.6 665.2 L837.6 665.4 L836.6 666.9 L836.1 668.7 L836.2 670.6 L835 672.2 L835.4 674.1 L833.5 674.6 L832.1 676.4 L830 676 L828.2 676.8 L826.2 676.9 L824.2 677.1 L823.9 675.4 L822.7 674.3 L822 672.4 L820.8 670.9 L818.7 669.8 L818.9 667.5 L818.3 665.7 L816.5 665 L815.2 666.4 L813.8 667.6 L811.8 667.5 L810.2 669.8 L807.8 669 L805.6 669.1 L803.7 668.6 L801.8 668.2 L801 666 L802.2 663.5 L800.5 661.7 L799.5 659.8 L801.6 658.3 L801 655.7 L801.8 652.4 L804.5 653 L806.7 652.7 L808.7 652 L811.5 653.3 L813.1 651.6 L814.7 650.1 L816.5 648.9 L817.8 647.5 L819.5 646.5 L820.5 644.7 L822.7 644.3 L822.6 641.9 L825.6 642.6 L825.7 640.3 L827.3 639.6 L827.8 636.9 L829.8 636.8 L831.5 636.1 L833.5 635.9 L834.5 633 L837.1 634.3 L839.2 634.5 L841.5 634.7 L842.7 632.5 L844.8 632.8 L846.4 631.6 L848.5 631.8 L850 630.3 L852 630.4 L853.7 629.3 L855.7 630.4 L857.3 628.8 L859.5 631.1 L860.9 628 L862.8 628.8 L864.8 626.9 L866.5 629.3 L868.4 629.2 L870.3 629.3 L872.1 629.4 L874.3 628.7 L875.6 631.8 L877.8 631.3 L879.8 631.3 L877.8 631 L876.8 632.8 L878.7 632.4 L880.7 630.4 L882.3 634.1 L884.3 632.8 L886 633.8 L887.8 634.8 L889.7 634.5 L891.6 634.3 L893.4 635.3 L895.3 634.4 L897.3 635.1 L898.8 637.1 L901.7 634.8 L903.5 636 L905.1 638 L906.6 640.3 L909.2 638.7 L912.1 639.9 L910.8 642.7 L908.6 642.1 L906.6 641.9 L905.1 644.7 L903 644.3 L900.9 646.1 L899.5 643.3 L897.6 643.4 L895.8 643.1 L893.6 645.8 L892.2 642.7 L889.9 645.1 L888 643 L886 642.1 L887.7 643.3 L889.2 644.5 L890.7 645.8 L894 646.6 L892.2 649.6 L893.7 652.1 L896.2 649.9 L898 650.7 L899.9 651.1 L898.9 648.6 L901.5 648 L903.3 649.2 L905.5 647.3 L907.2 649.7 L909.2 648.9 L910.1 646.3 L907.7 644.9 L909.2 642.7 L911.4 642.3 L913.9 643.1 L916 642.2 L918.1 642.2 L920 643.7 L918.8 641.8 L919.9 640.3 L920.7 638.7 L920.6 636.6 L918.5 636.2 L920.1 639.2 L922.3 637.3 L924.2 638.1 L926.2 637.2 L927.1 639.1 L927.8 641.2 L929.3 640.6 L931 640.3 L932.4 639.3 L934.2 637.8 L936.4 638 L938.6 638.1 L940.2 636.3 L942 636.4 L944 637.1 L945.7 636.4 L947.7 637.2 L949.4 636.6 L950.8 637.5 L952.5 637.5 L954.7 638.8 L956.4 637.4 L958.4 637.2 L960.2 636.2 L962 637.9 L964 637.8 L965.9 638.1 L968 636.9 L968.2 634.9 L969.5 633.8 L971.1 632.8 L972.7 634.5 L975 631.1 L976.2 635.7 L978.5 632.1 L980.2 633.5 L981.9 634.4 L984.2 632.1 L985.8 636.4 L988.1 635 L989.6 635.5 L990.9 636.9 L992.5 637.1 L994.2 637.2 L995.6 636.1 L997.3 635.6 L995.4 635.8 L994.9 632.8 L993.3 632.2 L991.1 632.8 L993.1 630.8 L991.1 628.8 L991.5 626.8 L993.1 626.1 L994.7 625.4 L995.8 624.2 L997.1 622.8 L998.3 621.5 L1000.4 622 L1001.8 625.1 L1004.3 622.7 L1005.9 624.7 L1008.2 623.6 L1009.1 625.3 L1008.8 627.1 L1008.2 628.8 L1008.2 630.9 L1007.1 632.9 L1007.5 635 L1007.1 638 L1008.4 639 L1011.2 638.1 L1011.9 635.8 L1014.3 635.9 L1011.5 634.7 L1015.1 632 L1013.2 630.6 L1012.8 628.8 L1014.6 627.4 L1014.3 624.8 L1015.9 623.2 L1017.6 624.5 L1019.7 624.2 L1021.5 625.5 L1023.6 625.1 L1025.6 624.5 L1027.3 623.5 L1029.3 622.9 L1030.3 620.1 L1032.9 621.1 L1034.8 620.4 L1036.6 619.2 L1038.7 621.1 L1040.6 620.5 L1042.4 621.4 L1044.2 619.9 L1046.1 621.9 L1047.9 621.3 L1049.7 621.6 L1051.4 620.1 L1050.3 617.5 L1053 616.4 L1054.5 614.2 L1056.5 614.4 L1059 618.3 L1060 612.6 L1062.3 614.9 L1064.6 617 L1066.7 616.9 L1068.2 612.2 L1070.5 613.5 L1072.4 612.1 L1074.6 613.3 L1076.6 611.7 L1078.8 614.2 L1080.8 613.4 L1082.7 610.2 L1085 613.7 L1087 612.4 L1088.6 610.8 L1091 612.6 L1092.5 610.9 L1094.1 609.1 L1096.3 610.2 L1098.3 609.7 L1100.7 611 L1102.6 610 L1104.3 608 L1106.5 608.1 L1108.1 608.8 L1109.5 610.3 L1111.4 610.1 L1113.3 610.2 L1115.1 613.2 L1117.2 610.6 L1119.2 611.7 L1121.2 611.2 L1123.2 611.2 L1125.3 609.7 L1127.2 611.2 L1128.4 613.8 L1130.9 613 L1133.1 612.9 L1134.9 614 L1133.6 615.8 L1133.4 618 L1131.1 615.7 L1129.5 617.6 L1127.8 618.9 L1126.1 619.9 L1124.1 619.5 L1125.9 620.8 L1128 619.6 L1129.9 620 L1131.8 620.1 L1132.9 622.9 L1134.7 621.7 L1136.5 621.1 L1138.5 620.9 L1140.3 623.5 L1142.4 622.6 L1144.4 621.4 L1146.3 623.4 L1148.4 620.7 L1150.4 621.7 L1152.4 622 L1154.4 621.1 L1156.3 623.8 L1158.3 621 L1160.3 620.6 L1162.3 622.7 L1164.3 622 L1166 621.1 L1168.1 623.8 L1169.7 621.1 L1171.6 622.7 L1173.2 620.3 L1175.1 621.1 L1178 619.5 L1178.6 623.6 L1180.3 624.9 L1182.8 624.2 L1186 624.8 L1185.5 626.7 L1184.4 628.8 L1186.3 630.5 L1188.6 628.5 L1190.6 629.4 L1190.9 626.2 L1193.1 626.8 L1195.2 627.3 L1197.3 628.5 L1199.3 628.2 L1201.4 626.9 L1203.4 626.4 L1205.5 629.8 L1207.6 627.3 L1209.5 627.8 L1211.4 625.9 L1213.4 627.3 L1215.3 627.3 L1218.1 626.7 L1216.8 624.2 L1218.9 624.5 L1221.1 621.6 L1223.1 622.4 L1225 627.2 L1227.1 624.9 L1229.2 624.7 L1231.3 624.4 L1233.4 623.7 L1235.4 624.8 L1237.6 624.6 L1239.4 626.4 L1241.7 625.5 L1243.7 626 L1245.6 627.1 L1247.8 627.3 L1250 626.7 L1251.6 628.3 L1253.6 628.8 L1255.5 629.4 L1257.5 629.6 L1259.5 630.6 L1261.4 628.5 L1263.5 630.7 L1265.4 628.6 L1267.4 627.8 L1269.4 628.8 L1271.2 629.4 L1273 630.4 L1274.5 632.5 L1276.8 630.2 L1278.7 630.4 L1279.5 631.6 L1278.7 632.8 L1280.7 633.7 L1282.8 632.8 L1284.9 631.7 L1286.9 632.6 L1289 633.6 L1291 632.8 L1292.8 633.1 L1294.7 633.4 L1296.5 632.8 L1298.3 633.1 L1300.1 633.4 L1301.9 632.8 L1303.6 633.7 L1305.7 633.1 L1307.4 634.4 L1308.7 637.3 L1311.1 635 L1313.7 633.5 L1311.1 631.9 L1313 632.1 L1314.9 630.7 L1316.7 632.2 L1318.7 630.7 L1320.4 632.5 L1322.3 631.6 L1324 633.6 L1325.9 632.1 L1327.7 632.6 L1329.3 634.5 L1331.2 633.5 L1333.3 632.9 L1335 633.8 L1336.4 636.5 L1338.4 636.1 L1340.5 635.3 L1340.5 647.4 L1338.7 647.2 L1336.7 646.2 L1335.9 648.9 L1334.3 649 L1332.8 648.3 L1334.6 649.3 L1335.6 651.2 L1337 652.7 L1339 653.6 L1338.2 654.5 L1337.4 655.4 L1335 653.5 L1333.3 656.1 L1331.1 655.2 L1329.2 656.8 L1326.8 654.9 L1325.1 657.3 L1323.3 658 L1321 657 L1319.4 658.6 L1317.4 658.6 L1315.8 659.8 L1314.5 661.3 L1313.2 662.6 L1311.1 662.9 L1309.2 664.1 L1307.4 664 L1305.6 664.3 L1303.7 664.6 L1302.3 660.4 L1300.3 661.9 L1298.6 663.8 L1296.1 662.4 L1294.1 663.5 L1292.9 665.2 L1289.8 664.7 L1289.5 667.5 L1287.6 668 L1286.4 669.7 L1285.8 671.9 L1287.6 673.1 L1288.6 674.6 L1286.9 675.4 L1284.9 675.9 L1284.9 678.3 L1282 678.3 L1281.7 681 L1279.6 681.9 L1278.7 683.9 L1277.3 685.1 L1276.2 686.8 L1274 686.7 L1271.7 686.4 L1272.1 689.8 L1270.5 690.5 L1268.5 690.7 L1269.8 688.5 L1267.4 687.6 L1266.7 686.1 L1266.3 684.5 L1268.2 682.5 L1266.7 680.8 L1265.4 679 L1265.9 677.1 L1265.7 675.2 L1266.6 673.9 L1268.7 673.2 L1269.7 671.9 L1269.4 669.7 L1270.7 668.3 L1273.2 668.6 L1275 668 L1275 664.6 L1277.1 664.4 L1277.9 662.1 L1280.1 662.6 L1283 664.6 L1283.3 661.3 L1285.3 661.2 L1286.2 658.6 L1288.8 659.9 L1290.1 658.2 L1288 658.9 L1286 657 L1283.8 658.7 L1281.6 659.4 L1279.6 657.6 L1277.5 657.1 L1275.5 657 L1273.4 657.2 L1271.4 658.1 L1269.4 658.2 L1268.5 659.9 L1265.9 660 L1264.4 661.1 L1263.6 662.9 L1263.2 665 L1261.5 666.8 L1259.4 664.4 L1257.8 667.1 L1255.9 666.4 L1253.9 666 L1252.5 663.2 L1250.5 663.5 L1248.4 664.8 L1246.4 665.5 L1244.7 664.4 L1243 667 L1241.1 665.9 L1239.2 664.2 L1237.4 664.7 L1235.6 663.8 L1233.8 665 L1232.2 666.8 L1230.1 665.5 L1228.2 665.2 L1226.4 665.2 L1224.6 666 L1222.6 666.2 L1220.9 666.9 L1219.1 667.4 L1219.7 671.8 L1216.8 670.6 L1216 672.8 L1214.3 673.4 L1212.7 674.3 L1209.9 673 L1209.1 675.2 L1207.4 676.4 L1205.6 677.4 L1203.1 677.1 L1202 679.3 L1203.7 680.1 L1205.7 680 L1207.6 680 L1209.1 681.4 L1210.8 682.2 L1212.2 681 L1213.8 680.8 L1215.3 681.5 L1216.6 682.8 L1218.8 682.3 L1219.9 683.9 L1219.4 685.7 L1220.5 687.9 L1218.4 689.2 L1217.1 690.7 L1219.3 692.3 L1218.4 693.8 L1218.4 695.6 L1217.1 697.2 L1217.8 699.1 L1216 700.1 L1215.2 702.1 L1214.3 704 L1212.2 704.7 L1211.3 706.8 L1209 707.2 L1207.5 708.7 L1205.4 709.4 L1204.5 711.5 L1202.8 712.1 L1201.6 713.6 L1199.7 714 L1198.1 714.8 L1196.7 716.1 L1195.1 716.2 L1193.6 715.5 L1192.1 714.9 L1191.1 716.3 L1189.3 716.5 L1188.1 717.7 L1187.1 718.7 L1185.6 719.3 L1185 720.8 L1185.1 722.1 L1184.4 723.2 L1183.2 724.7 L1181.3 724.5 L1179.6 724.7 L1178.2 725.7 L1179.4 726.7 L1179.8 728.2 L1180.7 729.4 L1181.5 731.1 L1183.2 732.2 L1183.8 734.1 L1184 735.6 L1184.3 737.1 L1184.1 738.7 L1183 740.2 L1181.3 740.6 L1179.2 741 L1177.3 742 L1175.1 742.1 L1174.9 740.4 L1174.5 738.7 L1175 737.2 L1175.9 735.8 L1175.7 734.1 L1174.1 733 L1172.3 732.2 L1170.5 731.6 L1170.7 730.1 L1171.4 728.8 L1169.8 727.4 L1168.9 725.4 L1167 726 L1165.2 727.1 L1163.1 727.1 L1161.2 727.9 L1160.1 728 L1159 727.9 L1159.9 726.4 L1160.4 724.8 L1161.2 723.2 L1159.7 722.4 L1158.1 722.3 L1156.6 723.3 L1155 724.2 L1155 765 L1154.8 766.7 L1153.8 768 L1153.5 769.7 L1151.8 770.8 L1150.6 772.4 L1148.8 773.4 L1147.6 775 L1145.9 776.3 L1144.2 777.4 L1142.5 777.8 L1141 779.3 L1139 778.5 L1137.4 779.3 L1136.2 779.6 L1134.9 779.9 L1133.1 780.7 L1131 780.6 L1129.3 781.7 L1127.4 782.7 L1125.3 783 L1124.2 784.1 L1124.1 785.8 L1123.6 783.9 L1123.2 782 L1121.7 781.9 L1120.2 782.3 L1118.8 781.7 L1117.6 783.5 L1115 783.3 L1113.9 785.1 L1113 786.5 L1111.9 787.7 L1111.1 789.2 L1112.1 790.9 L1112.5 792.9 L1113.9 794.4 L1115.1 795.6 L1115.9 797.2 L1117.3 798.2 L1118.8 799.1 L1119.6 800.6 L1120.5 802.1 L1121 803.7 L1121.6 805.3 L1121.2 807.3 L1121.3 809.4 L1121.9 811.4 L1121 813.2 L1119.5 814.2 L1117.6 814.8 L1116.4 816.1 L1115.1 816.8 L1113.9 817.6 L1112.5 818.5 L1111.4 819.8 L1110.3 821.1 L1108.6 821.7 L1108.1 819.7 L1108 817.6 L1106.1 816.6 L1104 816.1 L1103.6 814.1 L1101.3 813.4 L1100.9 811.4 L1099.5 810.5 L1097.7 810.2 L1096.3 809.3 L1096 807.7 L1094.7 806.8 L1094.4 808.6 L1093.2 809.9 L1093.1 811.6 L1092.4 813.1 L1092 814.7 L1091 816.1 L1091.9 818 L1091.6 820.1 L1093.3 821.1 L1094.1 822.9 L1095 824.4 L1095.8 825.9 L1096.3 827.5 L1097.4 828.7 L1099.1 828.4 L1100.3 829.4 L1101.4 831.1 L1102.6 832.6 L1104 834 L1104.2 836.1 L1103.9 838.2 L1104 840.2 L1104.7 841.6 L1104.9 843.2 L1106.2 844.3 L1104.7 844.3 L1103.4 844 L1101.7 843.1 L1099.7 842.8 L1098.8 840.8 L1097.2 839.9 L1095.8 838.4 L1095.7 836.4 L1094.7 834.7 L1095.2 832.8 L1095.3 831 L1094.1 829.4 L1092.6 828 L1091.9 825.9 L1089.7 825.1 L1089.2 822.9 L1088.6 821 L1087.9 819.2 L1088.5 817.2 L1088 814.9 L1089.2 813 L1089.1 811.1 L1087.7 809.6 L1088 807.7 L1087.6 805.9 L1087 804.2 L1086.8 802.5 L1086.4 800.8 L1086.1 799.1 L1084.2 798.2 L1082.4 797.5 L1080.3 798.3 L1078.6 799.7 L1076.9 800.3 L1075.6 799.1 L1075.9 797 L1075.2 794.9 L1076.2 792.9 L1075.3 791 L1074.3 789 L1073.1 787.3 L1072 786 L1071.5 784 L1069.8 783.2 L1068.4 782 L1067.6 780.5 L1066.9 778.9 L1065.5 779.9 L1063.8 780 L1062.3 780.5 L1060.8 781.7 L1059.2 780.8 L1057.6 781.1 L1056.1 781.8 L1054.4 781.9 L1053 782.7 L1051.3 784.3 L1051.4 786.7 L1050 787.5 L1048.5 788.1 L1046.8 788.2 L1045.5 789.7 L1043.9 790.9 L1042.7 792.5 L1041.4 794 L1039.6 795 L1038.5 796.6 L1037.3 798.4 L1034.9 798.2 L1033.3 799.1 L1032 800.6 L1031.7 802.7 L1030.7 804.7 L1031.3 806.8 L1031.1 808.9 L1031.6 811 L1030.7 813 L1030.3 815 L1029.2 816.7 L1028.8 818.3 L1028.3 819.8 L1027 820.5 L1025.8 821 L1024.7 822.3 L1023.6 823.5 L1022.5 822.4 L1022.1 820.7 L1020.5 820.1 L1020.3 818.1 L1019.6 816.3 L1018.3 814.8 L1017.4 813 L1016.9 811.4 L1016.1 810 L1015.4 808.4 L1015 806.8 L1014.1 804.9 L1012.7 803.2 L1012.4 800.9 L1011.2 799.1 L1011.4 797.1 L1010.7 795.3 L1010 793.5 L1009.5 791.7 L1009.1 789.8 L1008.5 787.7 L1008.5 785.7 L1008.8 783.6 L1007.2 783 L1005.5 783.4 L1003.8 784.1 L1002 784.2 L1000.4 783.5 L999.3 782.2 L998.1 781.2 L997.3 779.6 L999 779.5 L1000.1 778.4 L1001.4 777.4 L999.5 777 L997.5 776.8 L995.8 775.9 L994.5 774.7 L993.4 773.3 L992.1 772.1 L990.3 771.9 L989.6 770.3 L987.7 770.8 L985.7 770.8 L983.8 769.9 L981.9 770.3 L979.9 770.1 L978 769.6 L976.1 770.4 L974.1 770.6 L972.2 770.3 L970.3 770 L968.3 770.5 L966.4 769.7 L964.7 769.2 L962.9 769 L961.2 768.7 L960.4 766.8 L959.3 765 L957.6 765 L955.9 765.7 L954.3 766.3 L952.5 765.9 L950.9 765.5 L949.3 765.1 L947.9 764.4 L946.1 764 L944.9 762.5 L943.2 761.9 L942.5 760.2 L940.8 759 L940.1 757.3 L938.4 756.5 L937 755.1 L935.8 755.9 L934.9 754.8 L933.7 755.7 L932.4 756.3 L932.7 757.9 L933 759.4 L933.9 761.3 L935.5 762.5 L936.1 764.4 L938 764.8 L939.2 765.9 L939.5 767.5 L939.2 769 L940.9 769.6 L941.7 771.2 L942.8 769.9 L943.2 768.1 L942.4 770.1 L943.5 771.8 L944.6 773.2 L946.3 773.7 L947.9 773.8 L949.4 773.7 L951 773.7 L952.9 772.8 L954.2 771.2 L955.6 769.7 L957.5 769.1 L958.1 767.2 L958.7 769 L957.8 771 L958.7 772.8 L960.6 772.5 L961.5 774.7 L963.2 775.2 L964.9 775.5 L966.7 776.1 L967.6 777.8 L968.9 778.9 L967.1 780 L966.9 782.1 L965 783 L964.9 785.1 L964.1 786.7 L963 788.1 L962.4 789.8 L960.8 790.4 L959.8 791.7 L958.7 792.9 L957.1 793.9 L955.3 794.5 L954 796 L952.4 796.9 L950.9 798.3 L949 798.8 L947.3 799.6 L945.4 800 L943.6 800.5 L941.8 800.8 L940.4 802.1 L938.8 803.2 L937.2 803.9 L935.5 804.6 L933.8 805.9 L931.6 805.8 L929.9 807.1 L927.8 807.1 L925.9 807 L925 809.1 L923.1 809 L921.5 808.5 L920 808.8 L918.5 809.3 L917 807.7 L918 805.4 L916.9 803.7 L916.5 801.7 L916.3 799.6 L916 797.5 L915.1 795.9 L914.2 794.2 L912.7 793 L911.8 791.3 L910.8 789.8 L909.3 788.7 L908.3 787.1 L907 785.9 L906.6 783.8 L905.2 782.7 L904.3 781.1 L903.7 779.4 L903 777.8 L903 775.9 L902.1 774.2 L901.2 772.6 L900 771.2 L899 769.7 L898.2 768 L896.4 767.2 L896 765.3 L895.1 763.7 L893.8 762.5 L892.3 761.1 L892.7 758.9 L891.6 757.3 L891.4 758.9 L890.9 760.5 L890.1 761.9 L888.2 761 L887.3 759.2 L886.3 757.4 L884.8 756 L886 757.5 L886.5 759.2 L887.6 760.6 L887.6 762.5 L889 764 L889.3 766.1 L890.4 767.7 L891.7 769.2 L892.2 771.2 L893.3 772.6 L893.8 774.2 L894.4 775.9 L896 777.2 L897 779 L898.4 780.5 L898.9 782.4 L899.2 784.3 L899 786.3 L899.3 788.2 L901.2 789.3 L902 791.2 L903 792.9 L903 795.1 L904.6 796.7 L905.5 798.6 L906.1 800.6 L908 801.1 L909 803 L910.8 803.7 L912.5 804.5 L913.9 805.7 L914.6 807.7 L916.3 808.6 L917.6 809.9 L917.9 811.4 L917.9 813 L919.7 813.3 L919.8 815.7 L921.6 816.1 L923.4 815.1 L925.4 814.8 L927.3 814.3 L929.3 813.9 L931.4 813.5 L933.4 813.4 L935.5 813.6 L937.2 813.3 L938.7 811.9 L940.6 812.7 L942.3 812.1 L942.5 813.6 L942.1 815 L941.7 816.4 L940.5 818 L940.5 820.1 L939.5 821.7 L938.2 823.3 L937.4 825 L937 826.9 L935.7 828.2 L935.4 830.2 L934.1 831.4 L933.8 833.4 L932.4 834.7 L931.1 836 L930.3 837.8 L928.3 838.6 L927.7 840.6 L926.2 841.8 L924.9 843.4 L922.5 843.8 L921.6 845.9 L920.3 847.5 L918.5 848.6 L916.6 849.6 L915.5 851.5 L914.3 853.3 L912.3 854.2 L911 855.4 L909.1 856.1 L908.3 857.9 L908.2 860.2 L906.7 861.9 L905.5 863.7 L904.6 865.6 L905.2 867.7 L906.3 869.6 L906.1 871.8 L906.2 873.9 L905.9 876 L905.5 878 L907.3 879.1 L908.2 880.9 L909.2 882.6 L909.7 884.5 L909 886.3 L909 888.1 L909.8 889.9 L909.5 891.7 L909.2 893.5 L908 894.8 L908.1 896.8 L906.8 898.1 L906.1 899.7 L904.6 900.4 L902.8 900.8 L901.1 901.4 L900.1 903.1 L898.4 903.7 L897.6 905.4 L896 906.5 L894.4 907.5 L893.3 909 L892.2 910.5 L892.4 912.6 L893.8 914.5 L893.8 916.7 L894.6 918.8 L894.7 920.8 L893.8 922.9 L892.3 923.9 L890.5 924.4 L888.9 925.3 L887.6 926.7 L886 927.5 L886.1 929.1 L886.1 930.7 L885.4 932.2 L884.4 933.5 L884.7 935.5 L883.5 936.8 L882.9 938.4 L881 939.3 L880.1 941 L879.1 942.7 L878.3 944.6 L876.5 945.7 L875.2 947.3 L873.3 948.4 L872.1 950.1 L870.5 950.8 L869 951.5 L867.5 952.5 L865.9 953.2 L864 953.5 L862.1 954.5 L860.1 953.5 L858.2 953.8 L856.2 954.3 L854.1 954.5 L852 954.5 L850 955.1 L848 955.9 L845.8 956.3 L844 956.2 L842.6 955.1 L840.9 954.5 L841.3 952.6 L840.7 950.9 L840.3 949.2 L839.9 947.1 L838.5 945.4 L838.3 943.3 L837.2 941.5 L836.5 939.8 L835.4 938.3 L834.1 937 L833.5 935.3 L832.7 933.5 L831.5 932.1 L830.4 930.6 L830 928.8 L830.2 927 L830.6 925.1 L829.1 923.4 L829.4 921.6 L828.8 919.8 L828 918.3 L827.7 916.5 L826.5 915.2 L825.7 913.6 L824.8 911.7 L823.8 909.9 L822.7 908.2 L821.6 906.4 L821.1 904.3 L820.9 902.3 L820.1 900.2 L820.5 898.1 L820.4 895.9 L821.8 894.3 L822.3 892.4 L823.1 890.6 L824.2 888.8 L824.4 886.8 L824.8 884.8 L825.2 882.9 L826.4 881.1 L825.6 879.6 L825.1 878.1 L824.6 876.5 L824.2 874.9 L824.5 872.7 L823.5 870.9 L822.8 869 L822 867.2 L821.9 865.5 L821.3 864 L820.5 862.5 L819.1 861.3 L817.8 859.9 L816.3 858.7 L814.8 857.5 L813.4 856.3 L813.2 854.5 L812 852.9 L811.8 851.1 L812 849.1 L813.1 847.4 L813.4 845.5 L813.7 843.4 L814.3 841.4 L814.3 839.3 L813.8 837.4 L812.5 836 L811.2 834.7 L809.4 834.8 L807.5 834.8 L805.6 835 L803.6 834.9 L802.5 833.2 L801 832.2 L800.1 831 L798.6 830.5 L797.9 829.1 L795.9 829.5 L793.8 828.2 L791.7 829.1 L790.3 829.9 L788.9 830.9 L787.1 830.3 L785.3 831.3 L783.3 832 L781.3 832.5 L779.4 833.1 L777.8 833.5 L776.3 833.1 L774.7 832.8 L772.7 832.3 L770.6 833.1 L768.5 832.5 L766.6 833 L764.7 833.7 L762.7 834.2 L760.8 835 L759.2 834.3 L757.7 833.3 L756.2 832.5 L754.5 831.6 L753.1 830.1 L751.8 828.7 L750 827.9 L748.3 827.4 L747 825.9 L745.4 825.4 L745.2 823.5 L743.4 822.4 L742.9 820.7 L741.8 819.4 L740.6 818.1 L738.9 817.1 L738.6 815.2 L736.9 814.1 L737 812.1 L735.2 811.8 L734.3 809.8 L732.4 809.9 L732.4 808.3 L733.2 806.7 L732.1 805.3 L730.5 804.6 L729.9 803.1 L730.2 801.2 L731.6 800.1 L733 799.1 L733.4 797.2 L732.5 795.3 L733.2 793.5 L733.8 791.7 L733.6 789.8 L733.5 788.1 L733.2 786.5 L731.3 785.4 L731.4 783.6 L732 781.6 L732.8 779.7 L732.9 777.7 L733.9 775.9 L734.6 774.1 L736.1 772.9 L736.8 771.3 L737.6 769.7 L738.7 768.2 L740.6 767.4 L741.3 765.6 L742.7 764.4 L743.8 762.8 L745.4 762.2 L747.2 761.9 L748 759.6 L750 759.8 L750.8 758 L752.7 757.3 L753.7 755.7 L753.4 754.2 L753.6 752.6 L754 751.1 L754.8 749.6 L755.9 748.3 L756.7 746.9 L757.7 745.5 L759.2 744 L761.4 744.2 L763 743 L763.5 741.1 L764.4 739.3 L765.8 737.8 L767.6 737.5 L769.6 737.2 L771.3 738 L772.9 739.1 L774.7 739.3 L776.8 738.9 L778.9 739.8 L780.9 739.3 L782.1 737.8 L783.8 737.1 L785.3 736.1 L787.1 735.6 L789.2 735.5 L791 733.8 L793.3 734.4 L795.2 734.9 L797.1 735.5 L799.1 734.1 L801 734.7 L802.9 734.2 L804.9 734.5 L806.8 734 L808.7 734.4 L811 734.9 L812.9 734 L814.9 733.1 L816.8 732.6 L818 734.1 L817.1 735.5 L816.5 737.2 L816.5 738.8 L817.5 740.2 L817.4 741.8 L816.2 742.3 L815.5 743.3 L817.3 744.1 L818.6 745.5 L820.6 745.4 L822.3 746.8 L824.2 746.8 L825.9 747.5 L827.7 747.9 L829.6 748.1 L831.3 748.6 L831.9 750.5 L833.5 751.7 L835.2 752 L836.7 752.6 L838.1 753.7 L839.7 754.2 L841.2 754.5 L842.7 754.6 L844.3 754.2 L844.8 752.5 L845.8 751.1 L846.4 749.6 L846.5 748 L848.3 747.5 L850.1 747 L852 746.8 L853.9 747.9 L855.7 748.9 L857.5 749.9 L859.5 749.6 L861.3 750.5 L863.3 750.6 L865.3 750.7 L867.1 751.6 L869 752 L871.1 752.5 L873.2 752.2 L875.2 752.9 L876.5 751.8 L878.1 751.2 L879.8 751.1 L881.9 751.4 L883.9 752 L885.9 751.9 L888 751.2 L890.1 751.7 L890.9 750.2 L891.3 748.5 L892.2 747.1 L893.2 745.4 L894.1 743.7 L894.7 741.8 L894.8 740 L895.4 738.3 L895.3 736.5 L895.3 734.7 L893.2 735 L891.2 735.7 L889.1 736.2 L887 735.6 L885 736.3 L882.9 736.5 L881.3 736.7 L880 735.2 L878.3 735.6 L876.7 735.4 L875.2 735.7 L873.7 735.9 L871.8 736.2 L870.3 735.4 L869 734.1 L868.1 732.6 L867.8 730.8 L865.9 730 L866.5 728.2 L866.6 726.3 L865.9 725.3 L865 724.5 L866 723.5 L867.5 723.5 L869.6 723.4 L871.7 723.7 L873.7 722.6 L874 721.4 L875.9 722 L877.7 721.3 L879.5 721.2 L881.4 721.1 L883 720.6 L884.6 720.2 L885.9 718.8 L887.6 718.6 L889.6 718.9 L891.7 719 L893.8 719.5 L895.3 720.1 L896.9 720.5 L898.4 721.1 L900.4 720.2 L902.3 720.9 L904.2 722 L906.1 721.7 L908.2 721.2 L910.3 720.5 L912.3 719.8 L912.6 718.1 L912.3 716.4 L910.9 715.4 L909.2 714.9 L907.5 714.4 L906.1 713.3 L904.5 712.6 L902.7 712.3 L901.5 710.8 L900.2 709.8 L899 708.7 L900 707.3 L902 707.5 L903 706.2 L903.5 704 L905.2 702.5 L903.5 702.9 L901.7 702.8 L899.9 703.1 L897.8 703.2 L895.6 703.2 L893.8 704.7 L893.6 706.5 L892.2 707.7 L893.8 707.3 L895.3 708.4 L896.9 708.4 L894.9 708.6 L893.1 709.6 L891.5 710.8 L889.4 710.5 L887.6 710.8 L886.5 709.2 L884.8 708.4 L886 707.1 L887.6 706.2 L885.5 706.6 L884 705.5 L882.3 704.7 L880.2 704.7 L878.3 705.6 L877.2 707.1 L875.8 708.4 L874.1 709.2 L874.4 711.5 L872.7 712.4 L872.3 714 L871 714.9 L870 716.1 L871.4 717.7 L870.9 719.8 L872.2 720.6 L873.7 721.1 L872.1 721.2 L870.6 721.4 L869 721.7 L867.2 722.6 L865.3 723.2 L864.4 722.6 L862.3 722.2 L860.3 721.4 L858.2 722.3 L858 723.6 L857.3 724.8 L856 723.7 L854.5 723.2 L853.7 724.7 L854.2 726.3 L855.6 727.6 L856 729.4 L856.9 730.6 L858.2 731 L857.1 731.8 L855.7 731.3 L856 732.8 L855.2 734.1 L855.1 735.6 L854 735.6 L853 735.3 L852.4 733.5 L850.5 733.1 L849.8 731.6 L849.6 730 L848.7 728.2 L847.1 727.1 L845.8 725.7 L844.7 724.6 L844.8 723 L844 721.7 L843.3 720 L844.3 718.6 L842.6 718.2 L841.2 717 L839.7 716.2 L838.1 715.6 L836.4 715 L835 713.9 L833.4 713 L832.4 711.2 L830.4 710.8 L829.8 709.6 L828.8 708.7 L827.5 708.3 L826.4 707.4 L824.9 707.7 L823.4 707.8 L822 708.4 L822 709.9 L822.3 711.5 L823.9 711.7 L824.9 713.1 L826.1 713.9 L826.7 715.7 L827.9 717 L829.8 717.6 L831.6 718.4 L833.5 718.9 L833.5 720.4 L835.8 720.6 L837.4 722.2 L839 723.8 L841.2 724.2 L840.6 725.4 L838.8 725.4 L838.2 723.4 L836.6 723.2 L835.8 724.3 L835 725.4 L836 726.6 L836.9 727.9 L836.1 729.1 L835 730 L833.8 730.8 L832.5 731.3 L832.6 730 L832.9 728.8 L832.7 727.5 L833.5 726.3 L832.8 725 L831.3 724.5 L829.9 723.3 L828.2 722.6 L826.3 721.6 L824.2 721.1 L822.7 719.9 L821.4 718.3 L819.6 717.7 L818.5 716.5 L816.7 716.3 L815.9 714.9 L815.2 713.4 L814.3 712.1 L812.6 711.6 L810.9 711.2 L808.9 711.9 L807.2 713 L805.6 714.1 L804.1 715.2 L802.5 714.9 L801 714.5 L799.5 714.3 L797.6 713.5 L795.8 714.3 L794.6 715.7 L793.3 717 L793.6 718.1 L793.9 719.2 L791.9 719.7 L790.2 720.8 L788.2 721.5 L786.2 722.3 L784.9 723.5 L783.8 724.7 L783.1 726.3 L783.2 727.8 L784.3 728.8 L783.2 730.6 L781.8 732.2 L780.2 732.6 L779.4 734.2 L777.8 734.7 L775.9 734.8 L774 735.2 L772 734.4 L770.1 735 L768.7 736.5 L766.7 737.2 L766.4 735.3 L764.5 734.7 L763 733.9 L761.4 733.4 L759.6 732.7 L757.9 733.9ZM227.5 635.3 L229 637.6 L231.4 635.2 L233.2 635.5 L234.4 639.5 L236.8 637.2 L238.9 637.6 L241.8 636.3 L241.8 641.4 L244.5 640.6 L246.4 640.6 L248.2 641.5 L250.2 640 L251.7 643 L253.8 641.8 L255.9 642 L258.1 641.7 L259.3 644 L258.1 644.8 L255.9 643.6 L255.3 645.8 L253.2 646.1 L253.2 649.3 L250.7 648.9 L249.1 650 L247.6 648 L246.1 648.6 L244.6 647.7 L243.1 646.9 L241.4 646.5 L239.9 645.8 L237.9 646.8 L236 643.1 L234.1 646.9 L232.1 645.8 L230.3 645.4 L229.6 648.7 L227.5 647.4ZM1134.9 916.7 L1136.5 916.1 L1137.7 914.6 L1139.5 914.3 L1141.4 914.2 L1142.6 912.8 L1144.2 912.1 L1146.2 912 L1147.9 910.7 L1150 910.7 L1151.9 910.5 L1154 909.9 L1156 909.2 L1158.1 909 L1159.8 907.7 L1160.5 905.6 L1162.1 904.3 L1161.6 902.8 L1162.1 901.2 L1164 901.7 L1165.8 902.1 L1166.9 900.7 L1167.4 899.1 L1168.6 897.7 L1169.5 896.1 L1170.5 894.6 L1172 893.5 L1173.5 892.7 L1175 892.2 L1176.7 891.9 L1178.1 893 L1179.7 893.6 L1181.3 894.4 L1182.8 894.3 L1184.4 894.4 L1185.8 892.8 L1185.8 890.7 L1186.5 888.8 L1186.7 887.7 L1186.9 886.7 L1188.6 886.7 L1190.4 886.7 L1192.1 886.4 L1192.1 884.5 L1193.7 883.6 L1195.5 884.4 L1197.8 884.3 L1199.1 886.6 L1201.4 886.4 L1202.9 885.7 L1204.5 885.8 L1206 885.7 L1207 886.7 L1206 887.8 L1204.5 888.6 L1204.5 890.4 L1204.2 892 L1203.7 893.6 L1202.9 895 L1204.8 895.6 L1206.3 896.6 L1207.6 898.1 L1209.3 898.9 L1210.5 900.3 L1212.2 901.1 L1213.8 902.1 L1215.7 901.5 L1217.4 902.8 L1219.3 902.8 L1219.6 901.1 L1220.7 899.8 L1220.7 898 L1221.5 896.6 L1221.4 894.6 L1220.5 892.7 L1221.5 890.8 L1221.5 888.8 L1222.5 886.9 L1221.6 884.5 L1223 882.6 L1224.6 881.7 L1225.4 883.7 L1227.2 885.1 L1227.7 887.3 L1227.6 889.2 L1228.4 891 L1228.3 892.9 L1229.9 893.6 L1231.2 895.2 L1233.2 895 L1233 897.2 L1233.4 899.2 L1234.8 900.8 L1235.4 902.8 L1236.4 904.1 L1235.9 905.7 L1236.3 907.1 L1238.1 908.2 L1239.9 909.2 L1241.6 910.5 L1242.9 911.9 L1243.9 913.6 L1244.3 915.7 L1246.2 916.7 L1247.6 918.2 L1249 919.7 L1250.2 921.3 L1251.1 923 L1253.1 923.4 L1254.5 924.5 L1255.5 926 L1256.9 927.3 L1257.7 929.1 L1257.5 930.8 L1258.3 932.5 L1257.7 934.3 L1258.6 935.9 L1259.2 937.8 L1257.3 939.2 L1257.1 941 L1257.2 942.8 L1257 944.6 L1255.9 946.3 L1254.4 948 L1253.9 950.1 L1252.6 951.4 L1251.9 953 L1250.9 954.5 L1250 956.3 L1249.8 958.4 L1248.4 960 L1248.6 961.6 L1247.7 963.1 L1247.8 964.7 L1245.8 965.6 L1243.7 965.6 L1241.6 965.9 L1239.7 966.9 L1238.1 968.2 L1236.3 969.3 L1235.1 968.4 L1233.9 967.4 L1232.3 967.2 L1230.6 967.1 L1229.4 968.7 L1227.7 968.7 L1225.6 968.3 L1223.7 967.1 L1221.5 967.2 L1220 966.1 L1218.7 964.9 L1216.8 964.7 L1216.1 963.2 L1216.3 961.4 L1215.3 960 L1213.3 959.3 L1211.3 958.8 L1210.8 957.1 L1212.2 956 L1211.5 954.2 L1210.8 952.5 L1210 950.7 L1209.9 952.4 L1209.1 953.8 L1208.3 955.7 L1207.6 957.6 L1206.1 956.7 L1204.5 956.3 L1202.9 955.4 L1201.5 953.9 L1200.8 951.8 L1198.9 950.7 L1196.8 950.9 L1195.5 949.3 L1193.8 948.4 L1192.1 947.7 L1190.3 947.2 L1188.4 947 L1186.5 947.3 L1184.8 946 L1182.8 946.4 L1180.8 946 L1179.1 947.1 L1177.4 948.2 L1175.5 948.4 L1173.6 948.6 L1171.9 948.7 L1170.4 949.4 L1169.1 950.7 L1167.4 950.7 L1166.9 952.3 L1165.8 953.5 L1164 953.9 L1162.2 953.7 L1160.4 952.8 L1158.6 953.4 L1156.8 953.4 L1155 953.5 L1153.5 954.5 L1152.2 955.8 L1150.4 956.2 L1148.8 956.9 L1146.7 957.3 L1144.7 956.1 L1142.6 956.3 L1141.1 955.6 L1139.6 954.8 L1139.1 952.7 L1141.1 951.4 L1141.1 949.4 L1141.7 947.7 L1141.6 946 L1139.9 944.8 L1139.4 943.2 L1139.6 941.5 L1138 939.8 L1138.6 937.3 L1137.4 935.6 L1136.5 933.7 L1135.3 932.4 L1134.6 930.8 L1134.3 929.1 L1134.7 927 L1135.9 925.1 L1135.5 922.9 L1135.3 920.8 L1134.9 918.8ZM227.5 1109.9 L229.4 1110.3 L231.4 1109.2 L233.3 1110.7 L235.2 1110 L237.2 1109.6 L239 1111.6 L241 1109.8 L243 1110.5 L245 1109.6 L246.8 1110.5 L248.7 1111.6 L250.8 1110.2 L252.6 1111.5 L254.6 1111.1 L256.5 1111.4 L258.4 1111.7 L260.4 1111 L262.3 1112.1 L264.2 1113 L266.2 1111.6 L268.1 1111.9 L270 1112.7 L272 1112 L273.9 1112.3 L275.8 1112.7 L277.8 1112.9 L279.7 1112.4 L281.7 1113.4 L283.5 1111.8 L285.5 1112 L287.4 1110.6 L289.3 1111.7 L291.1 1110.1 L293.2 1111.2 L295.3 1112.4 L297 1110.2 L298.9 1109.8 L300.9 1110 L303 1111 L304.8 1109.9 L306.9 1109.6 L308.2 1107.6 L310.4 1107.3 L312 1105.9 L314.1 1105.5 L316.1 1105 L317.4 1103.6 L318.4 1101.6 L320.3 1100.9 L322.5 1100.7 L323.6 1098.9 L325.6 1098.3 L326.4 1096.2 L327.6 1094.9 L328.8 1093.6 L329.4 1091.8 L331.1 1091 L329.2 1091.1 L327.5 1090.1 L325.5 1090.8 L323.8 1089.9 L321.8 1090.5 L320.3 1088.8 L318.2 1088.4 L316.1 1089.8 L314.1 1089.3 L312 1087.8 L309.9 1088.1 L307.9 1088.7 L305.8 1088.6 L303.8 1088.4 L301.7 1089.1 L299.6 1087.4 L297.6 1089.1 L295.5 1088.8 L297.6 1089.1 L299.7 1088.8 L301.7 1087.9 L303.7 1086.9 L305.8 1087.3 L307.9 1087.6 L310 1088.8 L312 1086.6 L314 1086.8 L316.1 1087.4 L318.2 1087.1 L320.3 1086.9 L321.8 1086.3 L323.4 1085.7 L325.2 1085.8 L326.4 1084.5 L328.2 1083.4 L330.2 1084.1 L331.9 1083.2 L333.9 1083.5 L335.7 1082.9 L337.7 1083.2 L339.6 1082.5 L341.5 1081.9 L343.4 1081.4 L345.2 1080.7 L347.5 1082.6 L349.3 1081.2 L351.2 1080.8 L353.1 1080.2 L354.9 1079.2 L356.8 1078.9 L359 1080.8 L360.7 1078.7 L362.8 1080.1 L364.6 1078.1 L366.6 1079.2 L368.6 1079.1 L370.5 1079.3 L372.5 1080.2 L374.4 1078.9 L376.3 1079.1 L378.2 1079 L380.2 1078.4 L382.1 1078.3 L384.1 1078.4 L385.8 1077.4 L387.7 1077 L389.5 1076.5 L391.4 1076.1 L393.5 1075.8 L395.4 1077.8 L397.6 1076.3 L399.7 1075.4 L401.7 1075.9 L403.7 1077 L405.6 1077.3 L407.4 1078.5 L409.3 1077.4 L411.2 1076.8 L413 1077.7 L414.9 1076.6 L416.9 1077.3 L418.8 1076.3 L420.7 1077.2 L422.7 1077.9 L424.6 1077.7 L426.5 1077.9 L428.5 1077.7 L430.2 1079.2 L432.2 1078.9 L434.3 1077.6 L436.3 1078 L438.2 1078.2 L440 1079.3 L441.9 1080.1 L443.9 1079.5 L445.8 1079.7 L447.8 1078.7 L449.7 1080.3 L451.6 1080.1 L453.6 1080.3 L455.5 1080.2 L457.4 1080.3 L459.4 1080.1 L461.1 1081.6 L463.1 1079.5 L465 1080.2 L466.7 1081.5 L468.7 1080.8 L470.8 1080.9 L471.1 1077.8 L473 1077.4 L474.8 1077 L477 1077.9 L478.5 1075.9 L480.4 1075.5 L482.2 1074.8 L484.1 1074.6 L486.2 1073.8 L488.2 1074.6 L490.3 1074 L492.4 1074.1 L494.4 1074.1 L496.5 1074.6 L498.3 1074.6 L500.2 1073.8 L502 1073 L503.9 1074.1 L505.8 1073.9 L507.6 1075 L509.6 1074 L511.6 1073.5 L513.5 1074.5 L515.4 1074.6 L517.3 1075 L519.3 1075 L521.2 1075.2 L523.1 1075.5 L525 1076.6 L527 1074.8 L528.9 1076.1 L530.9 1076 L532.8 1075.6 L534.7 1076.7 L536.7 1075.5 L538.7 1075.1 L540.8 1074.6 L542.9 1074.4 L544.8 1073.3 L547.1 1073.8 L549 1073 L551.1 1073.5 L553.2 1072.9 L555.2 1073.1 L557.3 1074.4 L559.4 1071.9 L561.4 1073.3 L563.1 1072.1 L565.1 1071.3 L566.8 1070 L569.5 1070.6 L570.7 1068.4 L571.2 1066.7 L572.4 1065.4 L573.4 1063.9 L573.8 1062.2 L574.5 1060.7 L575.8 1059.7 L576.9 1058.5 L577.2 1056.6 L578.9 1055.8 L580 1054.4 L580.9 1052.6 L582.6 1051.7 L584.5 1051.3 L586.1 1050.4 L587.8 1049.2 L590.3 1050.1 L591.5 1047.7 L594.1 1048.7 L595.4 1046.7 L597.2 1045.9 L599.1 1045.8 L600.8 1044.5 L602.6 1044.1 L604.7 1044.5 L606.2 1045.3 L607.8 1045.5 L606.5 1046.8 L605 1047.5 L603.1 1047.6 L601.5 1048 L600.2 1049.2 L598.6 1049.6 L597 1049.8 L594.7 1049.7 L594.2 1052.4 L592.3 1052.9 L592.3 1054.8 L590.8 1056 L588.9 1056.7 L587.4 1057.9 L586.6 1060.2 L584.6 1060.6 L586.3 1061.5 L588.1 1062 L589.2 1063.7 L590 1065.2 L590.7 1066.9 L592.8 1067.1 L593.9 1068.4 L594.4 1069.9 L594.6 1071.6 L595.4 1073 L594.8 1074.9 L597.5 1075.8 L597 1077.7 L595.7 1079.1 L594.2 1080.2 L592.3 1080.8 L590 1080.1 L588 1081.2 L586.1 1082.2 L584.3 1083.6 L582 1083.4 L580 1083.9 L577.8 1083.3 L575.9 1085 L573.7 1084 L571.7 1084.6 L569.7 1085.7 L567.6 1085.2 L565.5 1085.7 L563.5 1086 L561.4 1086 L559.5 1087.2 L557.6 1087.6 L555.6 1086.6 L553.7 1086.5 L551.7 1086.4 L549.8 1087.3 L547.8 1086 L545.9 1086.9 L544.1 1087 L542.2 1087.5 L540.6 1089.1 L538.6 1088.6 L536.7 1088.5 L534.5 1088.5 L532.5 1089 L530.3 1088.8 L528.3 1089.1 L526.5 1090.9 L524.3 1090.7 L526.4 1091.1 L528.3 1092.4 L530.5 1092 L532.7 1091.8 L534.8 1091.9 L536.7 1093.1 L538.7 1093.5 L540.7 1094.6 L542.7 1095 L545.1 1094.1 L546.8 1096.1 L549 1095.6 L551.1 1096.2 L553.1 1096.3 L555.3 1095.4 L557.3 1096.6 L559.3 1097 L561.6 1095.7 L563.5 1097 L565.6 1097.1 L567.6 1097.8 L569.8 1096.8 L571.3 1099.2 L573.7 1097.6 L575.3 1099.3 L577.3 1099.5 L579 1100.8 L581.2 1100.1 L583 1100.9 L584.7 1102.5 L587.1 1101.7 L589 1102.3 L591.1 1102.4 L592.7 1104.2 L594.3 1105.8 L596.4 1106.1 L598.5 1106.1 L600.4 1105.5 L602.4 1106 L604.4 1106.1 L606.3 1105.6 L608.3 1105.8 L610.2 1105.2 L612 1104.3 L614 1104 L615.9 1103.7 L617.9 1104.2 L619.6 1102.3 L621.7 1102.6 L623.6 1102.4 L625.6 1102.9 L627.3 1101 L629.4 1101.8 L631.5 1101.9 L633.6 1102.5 L635.7 1102.6 L637.7 1102.4 L639.8 1102.2 L641.8 1101 L643.9 1101.8 L645.9 1101 L648 1100.9 L650.2 1100.8 L651.8 1098.5 L654.1 1099.2 L656.1 1098.3 L658.4 1099 L660.3 1097.8 L662.6 1098.4 L664.4 1096.6 L666.6 1097 L668.6 1096.6 L670.4 1094.6 L672.7 1095.6 L674.5 1094.7 L676.3 1094 L678.3 1094.3 L680.2 1094 L682 1093.1 L680.6 1092.1 L679.4 1090.5 L677.8 1090 L675.8 1090 L677.8 1089.9 L679.8 1089.5 L681.5 1088.2 L683.7 1088.6 L685.3 1086.7 L687.6 1088 L689.4 1086.9 L691.3 1086 L693.1 1085.4 L695.1 1085.5 L697.1 1085.3 L699 1084.6 L701 1084.7 L702.7 1082.9 L705 1084.6 L706.7 1083.2 L708.5 1082 L710.9 1082.9 L712.9 1082.5 L714 1079.5 L716.1 1079.2 L718.1 1079 L720.6 1080 L722.2 1078.3 L723.9 1077.4 L726 1077.8 L727.8 1077.2 L729.7 1077.1 L731.4 1076.1 L733.4 1075.3 L735.1 1074 L737.2 1073.8 L739.1 1072.9 L740.7 1071.5 L742.2 1070.6 L743.5 1069.4 L745.6 1070.3 L746.9 1069 L748.9 1068.6 L751 1067.8 L753.2 1069.1 L755.2 1069.1 L757.3 1069.1 L759.3 1067.8 L761.4 1067.9 L763.4 1068.1 L765.4 1067 L767.6 1068 L769.6 1067.6 L771.6 1066.8 L773.7 1066.8 L775.8 1066.8 L777.9 1066.9 L779.9 1066.6 L781.9 1065.5 L784 1065.9 L785.9 1066.5 L787.9 1065.4 L789.8 1065.8 L791.7 1066.1 L793.7 1064.7 L795.6 1065.3 L797.5 1065.3 L799.5 1065.9 L801.4 1065.9 L803.3 1065.6 L805.3 1067.1 L807.2 1065.6 L809.1 1065.6 L811.1 1065.6 L813 1065.8 L814.9 1065.6 L816.8 1065.4 L818.8 1065.7 L820.7 1065.6 L822.7 1065.8 L824.6 1065.7 L826.5 1065.7 L828.4 1064.8 L830.4 1065 L832.3 1065 L834.3 1064.4 L836.1 1066.4 L838.1 1065.1 L840 1065.4 L842 1064.6 L843.9 1064.8 L845.8 1065.6 L847.8 1065.9 L849.7 1065.5 L851.7 1064.7 L853.5 1066.8 L855.5 1065.8 L857.5 1065.5 L859.4 1066.5 L861.3 1066.2 L863.4 1066.6 L865.4 1066.9 L867.1 1065.2 L869 1064.9 L871.1 1065.2 L873 1064.9 L874.8 1063.4 L876.8 1063.4 L878.7 1063.6 L880.4 1062.3 L882.3 1062.1 L884.2 1061.8 L886 1061.6 L888.4 1060.6 L890.1 1062.7 L892.2 1062.8 L893.8 1064.5 L895.8 1064.4 L897.8 1063.7 L899.4 1065.6 L901.5 1064.7 L903.3 1064.1 L904.7 1063 L906.4 1062.4 L907.7 1060.9 L909.7 1061.3 L911.5 1060.2 L913.5 1060 L915.3 1059 L917.1 1057.9 L919.3 1058.9 L921.1 1058 L923.1 1058.2 L925.2 1058.2 L927.1 1057.9 L928.7 1055.9 L931.1 1057.2 L932.7 1055.5 L934.9 1056.2 L936.6 1054.8 L938.6 1054.4 L940.4 1054 L942.4 1054 L944.3 1053.9 L945.9 1052.4 L947.9 1052.6 L950.1 1052.3 L951.9 1053.9 L954.1 1053.8 L956.2 1054 L958.3 1053.9 L960.2 1055.1 L961.8 1056.7 L964 1055.5 L965.8 1056 L967.8 1055.8 L969.5 1056.9 L971.5 1056.8 L973.3 1057.8 L975.3 1057 L977.3 1057.3 L979.1 1059.1 L981 1059.1 L983 1058 L985 1058.2 L986.9 1058 L988.7 1058.4 L990.5 1059 L992.3 1059.6 L994.2 1059.1 L994.1 1061.4 L996.7 1061.9 L997.3 1063.7 L995.6 1064.8 L994 1066.2 L992.7 1067.8 L993.3 1069.6 L992.7 1071.5 L994.4 1071 L995.8 1072 L997.3 1072.4 L999.1 1072.1 L1000.7 1071.5 L1002.1 1070.3 L1003.5 1069.3 L1005.2 1068.5 L1006.8 1067.7 L1007.9 1065.9 L1009.7 1065.3 L1011.9 1065.3 L1013.8 1064 L1015.9 1063.7 L1017.4 1062.1 L1019.2 1061.4 L1021.5 1061.7 L1023.8 1061.9 L1025.2 1060 L1027.1 1059.2 L1029.1 1058.4 L1031.3 1058.5 L1033.2 1057.5 L1035 1056.4 L1037.4 1058.6 L1039.1 1057.3 L1041 1056.8 L1042.9 1056.4 L1044.9 1056.3 L1046.8 1055.7 L1048.7 1055 L1050.7 1055.4 L1052.6 1054.2 L1054.6 1056.7 L1056.5 1055.9 L1058.4 1055.7 L1060.3 1056.2 L1062.3 1055.4 L1064.2 1055.6 L1066.1 1055.5 L1068.1 1055.5 L1070 1055.3 L1072 1055.7 L1073.9 1054.9 L1075.8 1055.2 L1077.7 1054.4 L1079.6 1054.1 L1081.5 1053.2 L1083.5 1053.7 L1085.4 1052.8 L1087.5 1054.8 L1089.3 1053.3 L1091.3 1053.5 L1093.2 1052.9 L1095.1 1053 L1097 1053.9 L1099 1053 L1100.9 1053.7 L1102.8 1054.1 L1104.8 1054.2 L1106.7 1054.2 L1108.6 1054.4 L1110.6 1054.1 L1112.5 1054.8 L1114.4 1054.4 L1116.4 1053.8 L1118.3 1054 L1120.2 1053.2 L1122.2 1054.6 L1124.1 1053.5 L1126 1054.4 L1128 1053.5 L1129.9 1054.5 L1131.8 1053.6 L1133.8 1053.7 L1135.7 1054 L1137.6 1054.2 L1139.6 1054.4 L1141.4 1055.3 L1143.4 1054.5 L1145.4 1054.5 L1147.3 1054.6 L1149.2 1055.6 L1151.1 1055.7 L1153.1 1055 L1155 1055.4 L1157 1055.7 L1158.9 1055 L1160.9 1055.8 L1162.7 1054.9 L1164.8 1056.2 L1166.6 1054.4 L1168.5 1053.5 L1170.5 1054.4 L1172.4 1055.1 L1174.4 1055 L1176.3 1054.1 L1178.1 1052.8 L1180.1 1054 L1182.1 1054 L1184 1053.7 L1185.9 1053.5 L1187.8 1053.2 L1189.8 1053.4 L1191.7 1052.6 L1193.7 1053.4 L1195.6 1054.2 L1197.5 1052.8 L1199.4 1051.9 L1201.4 1052.9 L1203.4 1052.4 L1205.3 1053.3 L1207 1054.9 L1209.1 1054 L1210.9 1055.2 L1212.9 1055.2 L1214.7 1056 L1216.8 1055.1 L1218.8 1055.3 L1220.8 1055 L1222.7 1054.8 L1224.6 1055.6 L1226.5 1055.8 L1228.4 1056.5 L1230.3 1057.4 L1232.3 1056.6 L1234.1 1057.6 L1236.4 1056.8 L1238.2 1057.8 L1240.2 1058.1 L1242 1058.9 L1243.8 1060.1 L1246 1059.4 L1247.8 1060.6 L1249.8 1060.2 L1251.5 1061.9 L1253.6 1061.6 L1255.7 1060.7 L1257.3 1062.8 L1259.5 1061.7 L1261.4 1062.3 L1263.2 1063.1 L1265.2 1063.1 L1266.8 1065.2 L1269 1064.4 L1270.9 1064.9 L1272.7 1065.8 L1274.6 1066.4 L1276.6 1066.5 L1278.7 1066.2 L1280.6 1067.1 L1282.5 1066.5 L1284.5 1066.6 L1286.3 1068 L1288.4 1066.2 L1290.3 1067.1 L1292.2 1068 L1294.1 1067.4 L1296 1068.4 L1298 1068.3 L1299.9 1068.6 L1301.9 1068.5 L1303.9 1068.6 L1305.8 1068.7 L1307.8 1068.8 L1309.6 1069.9 L1310.7 1071.3 L1311.1 1073 L1309.5 1074.5 L1307.4 1074.9 L1305.5 1075.7 L1303.4 1076.1 L1305.4 1077 L1307.7 1075.8 L1309.6 1077 L1307.6 1077.6 L1305.8 1079.4 L1303.7 1079.7 L1301.2 1078.5 L1299.5 1080.5 L1297.2 1080.1 L1295.1 1080.5 L1293.3 1081.5 L1291.5 1082.7 L1289.5 1083.2 L1291.5 1084.1 L1293.4 1085 L1295.7 1084.8 L1293.8 1085.5 L1291.8 1086.2 L1289.7 1086.3 L1288 1087.6 L1289.8 1087.2 L1291.4 1089.3 L1293.4 1088 L1295.2 1088.2 L1297 1088.6 L1298.8 1088.8 L1296.8 1089.2 L1295.2 1090.8 L1293 1090.4 L1291 1091 L1289.3 1092.1 L1287.4 1092.2 L1285.2 1091 L1283.7 1092.9 L1281.8 1093.1 L1280.4 1094.4 L1279.8 1096.3 L1278.7 1097.8 L1280 1099.2 L1282 1099.8 L1282.9 1101.8 L1284.9 1102.4 L1286.9 1103.1 L1288.8 1104.2 L1291.1 1103.8 L1293 1105 L1295 1105.9 L1297.2 1105.7 L1299.3 1106 L1301.1 1107.4 L1303.4 1107.1 L1305.4 1107.5 L1307.4 1107.2 L1309.4 1107 L1311.2 1108.2 L1313.3 1107.8 L1315.2 1108.2 L1317.3 1107.2 L1319.2 1108.1 L1321 1109.9 L1323.1 1108.6 L1325.1 1109.2 L1327 1109.3 L1328.9 1109.7 L1330.9 1108.9 L1332.8 1109.4 L1334.7 1110.4 L1336.6 1110.2 L1338.6 1109.5 L1340.5 1109.9 L1340.5 1127.2 L227.5 1127.2ZM614 1093.1 L615.9 1092.6 L617.7 1091.5 L619.9 1093.2 L621.5 1090.8 L623.5 1090.8 L625.5 1091.1 L627.6 1091.5 L629.4 1090.7 L631.5 1090.4 L633.5 1091.6 L635.6 1091.8 L637.8 1089.9 L639.7 1092.2 L641.8 1091.6 L643.2 1093.1 L644.2 1095.1 L646.4 1095.6 L644.8 1096.7 L643 1097.2 L640.9 1096.3 L639.2 1097.2 L637.3 1097.2 L635.6 1098.1 L633.7 1098 L631.7 1099.2 L629.7 1099.1 L627.9 1097.7 L625.9 1097.4 L624 1097.2 L622.1 1097.2 L620.1 1097.2 L618.1 1097 L616.7 1095.6 L615.3 1094.4ZM277 1093.1 L279 1093 L281.1 1092.8 L283.2 1093.3 L285.2 1094 L287.3 1094 L289.3 1093.8 L288.7 1095.4 L287.8 1096.9 L286 1096 L284.2 1095.7 L282.4 1096 L280.5 1097.3 L278.8 1096.3 L277 1096.2 L277.4 1094.7ZM552.1 1062.2 L554.2 1063.3 L556.3 1062.3 L558.3 1061.3 L560.4 1062 L562.4 1061.4 L564.5 1062.2 L566 1063 L567.2 1064.1 L567.9 1065.7 L569.1 1066.8 L568.8 1068.6 L567.8 1070.2 L567.6 1072.1 L565.5 1071.6 L563.5 1070.5 L561.4 1072.8 L559.3 1072.2 L557.2 1072.4 L555.2 1071.5 L554 1070.4 L553.3 1068.8 L551.2 1068.6 L550.6 1066.8 L551.2 1065.3 L551.5 1063.7ZM467.1 1071.5 L469.2 1070.5 L471.4 1071.1 L473.5 1071.5 L475.6 1070.9 L477.7 1071 L479.8 1070.6 L482 1070.8 L484.1 1071.2 L485.8 1071.5 L487.2 1072.4 L485.1 1072.5 L483.2 1074.1 L481 1072.7 L479 1073.2 L476.9 1073.1 L474.8 1073.3 L473 1072.3 L470.9 1072.6 L469 1071.9Z" fill="#efefdb" stroke="#000" stroke-width="3.0" stroke-linejoin="round"/>
<path d="M536.7 620.5 L538.7 621 L541.2 619.5 L543 621.2 L545.3 620.6 L546.9 623.1 L549 623.2 L551.1 624 L553.7 622.6 L556 622.6 L557.1 626.4 L559.3 626.6 L561.4 627 L563.5 626.8 L565 628.3 L566.4 630.1 L568.4 630.1 L570.3 630.6 L572.2 631 L572.8 633.5 L574.6 634.5 L576.9 635 L579.1 635 L581.1 635.7 L583.2 636 L584.1 639.2 L587 637.7 L588.4 639.8 L591.1 638.6 L592.3 641.2 L594.2 642.2 L593.9 644.3 L592 644.4 L590.1 644.5 L589.4 646.9 L587.7 647.4 L587.6 644.1 L584.6 645.3 L583 644.3 L581.5 646.1 L579.6 646.9 L576.9 645.8 L575.3 647.4 L576.8 648.4 L577.8 650.2 L579.6 650.7 L581.9 650.4 L583 652 L585.4 653.6 L583 655.1 L581.2 656.2 L579.3 655.9 L577.5 653.8 L575.6 654.4 L573.8 655.1 L571.4 656.6 L569.6 654.6 L567.6 654.2 L565.2 655 L565.4 650.8 L563.2 651.5 L561.4 651.1 L559.5 650.8 L557.8 650 L555.7 650.2 L553.7 650.7 L552.1 648.9 L550.3 651.7 L548.4 646.1 L546.6 648.5 L544.7 648.4 L542.9 648.9 L542.7 646.9 L544.4 645.8 L546.2 645.9 L548 645.1 L549.8 646.4 L551.6 648.2 L553.4 646.5 L555.2 645.8 L557.6 645.1 L555.2 642 L558.4 641.6 L558.3 639.6 L556.3 639.6 L554.1 640.5 L553.1 637 L551.1 636.8 L549 637.2 L548 635.3 L546.7 634 L544.6 633.7 L544.4 630.7 L541.3 631.9 L539.5 630.2 L537.7 632.6 L535.9 633 L534 629.6 L532.2 630.2 L530.5 632.2 L528.6 631.9 L526.5 634.6 L525 630.8 L523.3 629.6 L521.2 631.3 L519.4 630.7 L517.5 630.8 L515.6 631.1 L513.8 630.2 L511.9 630.4 L510.8 629.1 L509.7 628 L510.4 624.9 L507.3 625.7 L509.3 625.4 L510 623.8 L509.9 621.3 L511.9 621.1 L513.7 619.6 L515.7 621.1 L517.5 620.6 L519.2 619 L521.2 620.5 L523.1 619.9 L525.1 619.6 L527 620.6 L528.9 620.7 L530.9 619.1 L532.8 619.8 L534.7 619.7Z" fill="#efefdb" stroke="#000" stroke-width="4.1" stroke-linejoin="round"/>
<path d="M505.8 611.8 L507.6 613.1 L509.5 609.2 L511.3 610.4 L513.2 612.5 L515 611.8 L517 613.3 L519 611.2 L521 611.1 L522.9 612 L524.9 612.1 L526.8 613.7 L528.8 611.1 L530.8 610.2 L532.8 610.7 L534.7 612.8 L536.7 612.4 L538 611.2 L539.8 611.5 L540.6 608.7 L542.9 610.2 L545 609.8 L544.9 606.5 L546.7 605.7 L549 605.6 L550.8 603.7 L553.6 606.3 L555.1 603.7 L557 602.4 L559.4 603.4 L561.4 602.5 L563 600 L565.1 599.6 L567.5 600.8 L569.9 602.1 L571.8 600.5 L574 601.1 L576.4 602.1 L577.5 597.2 L580 598.5 L581.9 598.3 L583.2 596.5 L585.6 597.4 L586.8 595.1 L588.9 595.4 L591.1 596 L592.3 593.8 L590.1 595.1 L588.1 594.3 L586.3 591.8 L584.2 591.4 L582.2 591.1 L580 592.7 L577.9 592.8 L575.9 591.4 L574 590.1 L571.6 592.8 L569.7 591.2 L567.6 591.7 L565.5 591.4 L563.5 592.4 L561.4 590.1 L559.3 594.5 L557.3 591.4 L555.2 589.9 L553.2 590.7 L551.1 591.3 L549 588.9 L547 592.6 L544.9 592.9 L542.9 591.7 L540.9 591.6 L538.8 590.7 L536.8 590.7 L534.9 591.5 L532.9 590.1 L530.9 590.5 L529.3 595.4 L527.1 592.8 L525.1 592.1 L523 591.1 L521.2 593.2 L519.6 595.2 L517.4 594.2 L515.9 596.7 L513.4 594.5 L511.7 595.8 L509.3 594 L507.8 596.3 L505.8 596.3 L505.5 599.6 L502.7 598 L500.8 598 L499.6 599.4 L500.6 601.9 L502.5 602.4 L505.7 599 L507.4 600 L508.8 601.6 L510.1 603.6 L511.9 604.1 L514 603.7 L515 605.6 L517.4 604.8 L518.1 607.1 L516.2 607.3 L515.3 610.5 L513.2 610.1 L510.2 607.6 L509 609.6 L507.1 610Z" fill="#efefdb" stroke="#000" stroke-width="4.2" stroke-linejoin="round"/>
<path d="M420.7 627.3 L419.9 629.3 L422.7 630 L422.3 631.9 L424.5 631.6 L426.1 634 L429 630.4 L430.3 634.5 L432.6 633.7 L434.6 634.4 L436.6 634.6 L438.7 633.3 L440.4 635.1 L442.7 632.8 L444.6 632.8 L446.3 635.3 L448.3 634.5 L450.1 636.2 L452.1 638.2 L454.2 637.5 L456.3 636.2 L458.4 634.4 L460.4 638 L462.5 636.6 L464.9 637.7 L466.3 635.8 L467.7 633.8 L470 634.3 L471.7 633.5 L471.7 631.5 L470.2 630.4 L468.8 627.5 L466.4 630.3 L464.3 631.5 L462.6 630.1 L460.9 628.8 L461.8 626.6 L460.2 625 L459.4 623.2 L457 623.9 L455.2 622.3 L453.2 621.7 L451.2 621.2 L449.7 623.7 L447.6 622.2 L445.7 622.2 L443.9 623.2 L441.9 622.3 L439.8 622.6 L437.8 622.2 L435.6 622.7 L433.6 622.2 L431.6 621.7 L430.2 624.8 L428.1 623.2 L426.2 623 L424.6 624.7 L422.3 622.1 L420.7 623.6 L419 625.4Z" fill="#efefdb" stroke="#000" stroke-width="4.2" stroke-linejoin="round"/>
<path d="M396 624.2 L398.9 622.6 L398.9 626.3 L400.9 626.3 L401.2 629.4 L403.7 628.5 L405.6 628.6 L407.5 628.7 L409.3 627.6 L411.3 628.7 L413 627.3 L414 626.2 L415.2 625.4 L416.1 624.2 L417.8 623 L419.5 622 L422.5 625 L423.3 621.1 L425.4 621.1 L423.2 622.1 L423.3 617.3 L421.3 617.7 L419.2 618.6 L417 620.1 L415.1 618.3 L413.1 617 L410.9 619.7 L408.9 617 L406.8 618 L404.4 616.6 L403 619.4 L401.4 620.9 L399.1 620.1 L398.2 621.6 L396.7 622.6Z" fill="#efefdb" stroke="#000" stroke-width="4.2" stroke-linejoin="round"/>
<path d="M422.3 615.8 L424.1 616.7 L426.1 616.5 L428.3 615.1 L430.3 614.6 L432.1 616.3 L434.1 616.1 L435.6 619.1 L437.7 618 L439.8 617.5 L441.7 616 L443.7 615.3 L446.1 618.4 L448.2 618.8 L450.2 617.9 L452.1 615.9 L454.2 616.6 L456.3 616.4 L455.5 614.9 L456.3 613.3 L454.2 613.5 L452.1 613 L450.2 611.9 L447.9 613.4 L446.1 610.9 L443.9 611.8 L441.8 609.5 L439.8 610.7 L437.8 612.8 L435.7 614 L433.7 614.8 L431.6 614.3 L429.5 613.6 L427.5 613.2 L425.4 612.4 L423.6 612.8 L423.7 615Z" fill="#efefdb" stroke="#000" stroke-width="4.5" stroke-linejoin="round"/>
<path d="M487.2 616.4 L489.2 618.1 L491.2 618.1 L493.5 615.6 L495.5 616.8 L497.4 618.5 L499.6 616.9 L501.6 617.6 L503.9 614.8 L505.8 617.7 L507.8 616.1 L509.9 617.1 L512 616.3 L514 618.5 L516 618.7 L518.1 618.3 L520.2 616.7 L522.3 616.2 L524.3 620 L526.4 616.4 L528.4 619.9 L530.5 618 L532.4 618 L533.6 616.5 L534.9 615.2 L536.7 614.9 L534.7 613.8 L532.2 615.3 L530.3 614.3 L528.3 613.7 L526.2 613.5 L524.3 612.1 L522.3 612.7 L520.2 611.6 L518.1 613.1 L516.1 612.5 L513.9 610.8 L511.9 612.9 L510 615 L507.8 613 L505.8 612.7 L503.7 614.9 L501.9 611.6 L499.9 613.5 L498.1 611.6 L496 613.9 L494.3 610.1 L492.3 610.8 L490.3 611.8 L488.5 612.8 L487.4 614.3Z" fill="#efefdb" stroke="#000" stroke-width="4.5" stroke-linejoin="round"/>
<path d="M490.3 606.5 L492.2 605.3 L494.1 604.5 L496.1 607 L498 605.6 L499.9 605.2 L501.9 606.6 L503.8 607.2 L505.8 606.2 L508.2 606.9 L509.1 603.8 L512.3 606.5 L513.9 604.9 L515 602.5 L513.7 600.3 L511.3 601.2 L510.3 598.2 L507.8 599.5 L505.8 599.4 L503.8 600.9 L501.6 599.3 L499.6 600.2 L497.5 600.1 L495.3 597.1 L493.4 600 L491.7 600.5 L490.9 602.7 L490 604.8 L487.2 603.1 L488.6 603.9 L489.2 605.4Z" fill="#efefdb" stroke="#000" stroke-width="4.5" stroke-linejoin="round"/>
<path d="M488.7 625.1 L490.9 623.1 L492.6 625.4 L494.6 624.8 L496.5 625.7 L498.8 625.9 L500.1 623.5 L503 625.1 L504.2 622.6 L502.2 621.7 L502.7 619.5 L500.6 618.6 L498.5 617.8 L496.5 620.4 L494.4 620.2 L492.4 620.5 L490.3 619.5 L488.6 621.1 L488.5 623Z" fill="#efefdb" stroke="#000" stroke-width="4.5" stroke-linejoin="round"/>
<path d="M468.7 625.7 L470.4 626.6 L472.3 626.5 L474.3 626.4 L476.1 626.9 L477.9 627.3 L478.8 625.1 L481.1 625.8 L482.6 625 L484.1 624.2 L484.8 621.7 L482.6 620.5 L480.8 619 L478.9 621.8 L477.2 619.7 L475.3 621.6 L473.5 621.1 L471.7 620.1 L469.1 621.1 L467.3 622.5Z" fill="#efefdb" stroke="#000" stroke-width="4.5" stroke-linejoin="round"/>
<path d="M462.5 615.8 L464.5 615.4 L466.7 613.3 L468.7 614.4 L470.6 618.4 L472.7 618.6 L474.8 615.9 L476.8 619.1 L478.9 619.1 L481 616.4 L480.3 614.5 L482 613.3 L482.6 611.8 L480.6 612 L478.6 611.5 L476.6 612.5 L474.6 611.3 L472.6 612.4 L470.6 611.5 L468.7 611.5 L467.6 613.2 L466.5 615 L465.1 616.3Z" fill="#efefdb" stroke="#000" stroke-width="4.5" stroke-linejoin="round"/>
<path d="M515 650.5 L516.3 651.7 L518.1 651.9 L519.9 651.9 L521.2 653 L523.1 652.6 L525 652.8 L526.9 652.8 L528.8 652.8 L530.5 651.4 L531.6 649.8 L533.5 649.7 L535.1 648.9 L533.3 648 L532.1 645.8 L529.9 645.7 L527.6 645.9 L525.8 644.9 L523.9 645.1 L521.9 644.6 L520.1 645.7 L518.1 645.8 L516.1 646.7 L514.7 648.1Z" fill="#efefdb" stroke="#000" stroke-width="4.5" stroke-linejoin="round"/>
<path d="M476.4 634.4 L478.3 634.6 L479.9 636.1 L481.9 635.8 L483.7 636.3 L485.7 636.2 L486.7 634.3 L488.7 633.5 L486.6 634.1 L485 632 L482.5 634.6 L481 631.9 L479.5 632.9 L477 631.8Z" fill="#efefdb" stroke="#000" stroke-width="5.4" stroke-linejoin="round"/>
<path d="M767 693.5 L769 693 L771 691.7 L773.2 692.9 L775.3 694 L776.8 690.7 L778.8 690.8 L780.9 691.7 L782.6 691 L784.6 691.7 L786.1 689.9 L788 690.1 L789.1 688.7 L789.4 687.1 L788.6 685.5 L786.3 686.9 L784.9 684.5 L785.1 682.5 L783.4 681.4 L782.2 680.2 L781.7 678.1 L779.4 678.3 L777.7 677.3 L777.8 675.2 L776.8 673.7 L778.6 672.2 L777.8 670.6 L776.3 670.3 L774.8 669.5 L773.2 670 L773.9 668.6 L774.7 667.2 L772.7 670 L770.6 670 L768.5 667.2 L767.5 669 L766.1 670.6 L766.2 672.2 L766.5 673.7 L767 675.2 L768 676.2 L769.2 676.8 L770.2 678.3 L768.5 679 L770.4 678.1 L772.3 678.5 L774.1 679 L773.2 681.2 L774.7 683 L773 682.4 L771.7 683.9 L770.1 683.9 L769.1 685.8 L771 686.7 L769.9 688.3 L767.9 688.2 L769.7 688.5 L771.3 689.7 L773.2 689.5 L772.6 691.4 L770.7 690.7 L769.4 691.6 L768 692.2Z" fill="#efefdb" stroke="#000" stroke-width="4.8" stroke-linejoin="round"/>
<path d="M753.1 688.2 L755.1 688.8 L757.2 688.2 L759.3 688.6 L761.6 689.9 L763.1 688.6 L764.5 687 L764.7 684.9 L765.5 683 L765.1 681.2 L766.4 679.9 L765.3 678.7 L763.9 677.7 L762.4 677.7 L760.8 678.3 L759.3 677.7 L758.8 679 L757.7 679.9 L756.4 681.3 L754.9 681.9 L753.1 680.8 L753.8 682.4 L754.6 683.9 L753.9 685.3 L753.1 686.7Z" fill="#efefdb" stroke="#000" stroke-width="4.5" stroke-linejoin="round"/>
<path d="M816.5 602.5 L818.6 604.3 L819.8 600.3 L821.7 600.6 L823.3 599 L825.6 602.3 L827.3 601 L829.4 601.4 L831.3 598 L833.5 601 L835.6 602.4 L837.7 601.8 L839.7 600.3 L841.6 597.5 L843.8 600.7 L845.9 601.7 L847.9 600.7 L850 600.9 L852 600 L854 599.2 L855.9 599.7 L857.8 600.5 L859.7 601.7 L861.7 599.6 L863.6 599.8 L865.6 600.4 L867.5 600.6 L865.6 601.2 L863.3 600.1 L861.8 601.9 L860.3 603.5 L858.2 603.4 L856.7 605.3 L854.3 603.4 L852.8 605.4 L851 606.1 L848.9 605.6 L847.2 607 L843.9 604.9 L842.9 607.9 L841.2 609.3 L838.9 609.2 L836.9 609.8 L835 611.2 L833.4 609.6 L831.4 609.1 L828.7 611 L827.3 608.7 L826.2 606 L823.5 607.3 L821.3 607.2 L820.9 603.2 L818 604.7 L817.6 603.3Z" fill="#efefdb" stroke="#000" stroke-width="4.8" stroke-linejoin="round"/>
<path d="M923.1 599.4 L925 598.6 L926.8 596.3 L928.8 597.4 L931 600.1 L932.7 597.6 L934.7 598.5 L936.6 597.2 L938.6 598.2 L940.6 597.5 L942.7 598.5 L944.9 599.5 L946.8 597.4 L948.8 595.1 L950.9 596.7 L953 596.7 L955.1 598.5 L957.3 600 L959.2 596.7 L961.2 596 L963.3 596.9 L965.4 596.9 L967.4 598.5 L969.5 596.9 L971.5 597.7 L973.6 597.7 L975.6 600 L977.9 595 L979.8 597.1 L981.9 597.9 L980 599 L977.6 598.1 L975.3 597.1 L974 601.6 L971.9 601.7 L969.5 600.3 L967.4 599 L965.4 600 L963.3 601.2 L961.3 602.9 L959.2 599.9 L957.1 598.7 L955.1 601.1 L953.1 602.8 L950.9 600 L948.9 602.1 L946.9 601.6 L944.8 601 L943 598.2 L940.9 600.5 L938.8 601.7 L936.9 599.9 L935 599.3 L933 600.2 L931 600.4 L929 600.7 L927.2 597.9 L925 601.2Z" fill="#efefdb" stroke="#000" stroke-width="4.8" stroke-linejoin="round"/>
<path d="M943.2 627.3 L944.5 628.7 L945.8 629.8 L947.9 629.4 L949.8 630.3 L951.8 627.8 L953.7 628 L955.6 629.7 L957.8 630.3 L960.1 631.9 L961.8 628.8 L960.5 627.8 L960.3 625.7 L960 623.6 L957.1 624.2 L957.7 622.6 L954.4 621.1 L957.1 619.5 L959.2 619.2 L960.2 616.1 L962.8 616.9 L964.9 616.4 L966.9 616.6 L968.6 616 L970.5 615.8 L972.5 615.8 L974 614.1 L975.7 613.3 L977.8 613 L979.7 612.1 L981.4 609.5 L984.1 612.7 L985.8 610.3 L988.1 611.2 L989.9 610.3 L991.8 609 L993.6 607.9 L995.8 610.6 L994.2 612.2 L992.4 613.3 L989.7 612.5 L988.1 614 L986 614.3 L983.6 613.4 L982.2 616.8 L980.2 617.7 L978 617.4 L976 618.2 L973.6 617.2 L971.6 617.7 L969.5 618 L967.3 617.4 L966 618.7 L964.9 620.4 L963.3 621.1 L961.3 621.2 L960.5 625 L957 620.6 L956.6 625.7 L954 624.2 L952 625.3 L949.9 624.3 L947.9 624.2 L946.8 625.9 L944.2 625.4Z" fill="#efefdb" stroke="#000" stroke-width="4.2" stroke-linejoin="round"/>
<path d="M1080.8 604.1 L1082.7 602.6 L1085.1 603.9 L1087.3 604.3 L1089.3 603.5 L1091.3 603 L1093.2 601.6 L1094.9 604.6 L1097.2 603.2 L1099.5 601.5 L1101.4 602.9 L1103.6 601.6 L1105.5 603.1 L1108.4 603.1 L1108.6 605.9 L1106.7 606.9 L1104.7 605 L1102.8 604.6 L1100.8 604.7 L1098.9 604.2 L1097 606.6 L1095.1 606 L1093.2 606.5 L1090.1 608.2 L1090 603.2 L1087.8 603 L1085 603.9 L1083 603.1 L1081.8 600.6 L1078.7 602.3 L1077.7 599.4 L1079.5 597.8 L1081.7 598 L1083.9 597.9 L1081.2 596.3 L1080.9 599.6 L1079.3 600.3 L1077.7 601 L1079.2 601.5 L1079.2 603.6Z" fill="#efefdb" stroke="#000" stroke-width="4.8" stroke-linejoin="round"/>
<path d="M1207.6 614.9 L1209.8 615.8 L1211.9 615.8 L1214 616.4 L1215.9 614.6 L1217.9 613.4 L1219.9 613.3 L1222 612.2 L1223.8 614.1 L1225.6 615.3 L1227.7 613.7 L1229.4 616 L1231.2 617.5 L1233.2 617.4 L1235.4 615.2 L1237.6 613 L1239.6 614.2 L1241.6 615.3 L1243.6 615.7 L1245.6 617 L1247.8 615.8 L1245.6 615.8 L1244.3 619.5 L1241.6 617.4 L1239.5 617.9 L1237.5 614.5 L1235.4 616.8 L1233.3 618.6 L1231.3 617.3 L1229.2 618.1 L1227.2 616.7 L1225.1 617.1 L1223 617.1 L1221 618.2 L1218.9 618.1 L1216.8 617.9 L1214.8 617.2 L1212.7 615.2 L1210.7 617.1 L1210.6 613.8Z" fill="#efefdb" stroke="#000" stroke-width="4.5" stroke-linejoin="round"/>
<path d="M1156.6 791.3 L1158.3 790.9 L1160.1 791.2 L1161.8 791.6 L1162.3 793.7 L1160.4 795.5 L1161.2 797.5 L1160.6 799.1 L1160.5 800.7 L1159.6 802.2 L1161.1 803.5 L1162.7 804.6 L1164.1 805.6 L1165.7 805.8 L1167.4 805.9 L1167.6 807.6 L1167.4 809.3 L1166 808.6 L1164.8 807.4 L1163.4 806.8 L1161.6 806.6 L1159.9 806.4 L1158.1 806.2 L1156.8 804.6 L1155.9 802.8 L1155 801 L1155 799.1 L1155.4 797.1 L1155.4 795.1 L1156.8 793.4Z" fill="#efefdb" stroke="#000" stroke-width="4.2" stroke-linejoin="round"/>
<path d="M1161.2 826.9 L1162.5 825.9 L1163.6 824.7 L1164.7 823.5 L1165.8 822.3 L1167.2 821.1 L1169.2 820.8 L1170.9 820.2 L1172 818.6 L1172.2 820.6 L1173 822.4 L1174.5 823.8 L1174.8 825.7 L1173.2 827.2 L1173.6 829.1 L1172.4 829.9 L1171.4 831 L1170.1 830.1 L1168.6 829.4 L1167.4 828.5 L1167 826.7 L1165.8 825.4 L1164.5 826.7 L1162.8 826.6Z" fill="#efefdb" stroke="#000" stroke-width="4.2" stroke-linejoin="round"/>
<path d="M1161.2 812.1 L1163.1 812.2 L1164.9 813 L1165.3 814.5 L1165.3 816.1 L1165.2 817.6 L1163.8 818.1 L1162.7 819.2 L1162.3 817.5 L1161.2 816.1 L1161.4 814.1Z" fill="#efefdb" stroke="#000" stroke-width="4.8" stroke-linejoin="round"/>
<path d="M1168.3 809.9 L1170.1 810.6 L1172 810.5 L1172.4 812.5 L1172.6 814.5 L1170.9 815.2 L1170.5 817 L1169.9 815.7 L1168.9 814.5 L1167.8 813.1 L1168 811.5Z" fill="#efefdb" stroke="#000" stroke-width="4.8" stroke-linejoin="round"/>
<path d="M1146.4 822.6 L1147.8 821.6 L1149.1 820.4 L1150.4 819.2 L1151.1 817.7 L1152.3 816.6 L1152.7 814.9 L1153.8 813.6 L1153.3 815.2 L1152.5 816.7 L1151.3 818.3 L1149.8 819.6 L1148.8 821.4 L1147.5 821.8Z" fill="#efefdb" stroke="#000" stroke-width="3.9" stroke-linejoin="round"/>
<path d="M1153.5 865.6 L1153.3 863.6 L1152.5 861.5 L1153.5 859.4 L1152.4 858.1 L1153.2 856.1 L1151.9 854.8 L1153.3 853.6 L1153.1 851.7 L1154.7 850.5 L1154.4 848.6 L1156.2 848 L1156.1 845.8 L1157.5 844.9 L1159.2 845 L1160.9 845.1 L1162.6 845.4 L1164.3 845.5 L1166.3 844.6 L1168.4 844.4 L1170.5 843.6 L1170 845.5 L1168.9 847 L1167 847.1 L1165.1 847.3 L1163.1 847.6 L1161.2 847 L1159.7 847.9 L1158 846.6 L1156.6 847.7 L1156.4 849.7 L1155.6 851.7 L1157.6 852 L1159.6 851.7 L1161.5 851.6 L1163.3 851.1 L1165.2 851.1 L1164 852.2 L1162.4 853 L1161.2 854.2 L1160.1 855 L1159.6 856.3 L1160.3 857.8 L1161.5 858.6 L1162.7 859.4 L1163.4 860.9 L1163.8 862.5 L1164.3 864.1 L1162.8 863.5 L1161.2 863.5 L1160.4 861.4 L1158.9 859.9 L1158.1 857.9 L1158 859.4 L1156.6 859.4 L1156 861.5 L1156.3 863.6 L1155.9 865.6 L1154.7 865.2Z" fill="#efefdb" stroke="#000" stroke-width="4.2" stroke-linejoin="round"/>
<path d="M1178.2 842.4 L1179.8 843 L1181.3 844 L1181.1 845.9 L1181.9 847.7 L1180.1 848.9 L1179.7 851.1 L1179.6 849 L1178.8 847 L1179.6 845.4 L1177.8 844Z" fill="#efefdb" stroke="#000" stroke-width="4.2" stroke-linejoin="round"/>
<path d="M1220.9 720.8 L1222.4 722.3 L1221.9 724.6 L1223 726.3 L1221.9 727.8 L1221.1 729.5 L1219.9 731 L1219.4 733 L1219.4 735.1 L1219.3 737.2 L1218.3 738.8 L1216.8 740.3 L1215.2 741.7 L1213.1 741.2 L1211.2 740.6 L1209.4 740.8 L1207.6 741.5 L1206 742.4 L1204.7 743.5 L1203.5 744.9 L1202.8 743 L1201.4 741.5 L1199.4 741.6 L1197.4 741.5 L1195.5 742 L1193.7 742.7 L1192.1 742.5 L1190.6 743.6 L1189 743.3 L1189 741.8 L1191.1 741.6 L1192.7 740.6 L1193.7 738.7 L1195.5 737.9 L1197.5 738.7 L1199.5 738.6 L1201.4 738.1 L1203.4 737.4 L1204.7 735.5 L1206.6 734.7 L1207.7 733.7 L1208.5 732.5 L1210.3 732.9 L1212.2 733.1 L1212.6 731.4 L1213.8 730.2 L1215.3 729.4 L1216 727.9 L1215.8 726.1 L1216.8 724.8 L1216.8 723.1 L1217.8 721.7 L1219.3 721.1Z" fill="#efefdb" stroke="#000" stroke-width="3.9" stroke-linejoin="round"/>
<path d="M1216.8 720.1 L1217.7 718.5 L1219.5 717.8 L1220.6 716.5 L1221.5 714.9 L1221.8 713.3 L1221.2 711.6 L1222.3 710 L1222.1 708.4 L1223.1 709.9 L1225.1 709.7 L1226.7 710.3 L1227.7 711.8 L1229.8 712.2 L1231.4 713.6 L1233.2 714.6 L1231.3 714.9 L1230.3 716.8 L1228.8 717.8 L1227 718.6 L1225.5 717.3 L1223.4 718 L1221.8 717.1 L1219.9 717 L1219.4 718.6 L1218.6 719.8Z" fill="#efefdb" stroke="#000" stroke-width="3.6" stroke-linejoin="round"/>
<path d="M1185.9 744.9 L1187.5 745.1 L1189 744.3 L1190.6 744.3 L1191.7 745.6 L1191.5 747.4 L1190.3 748.6 L1190.3 750.5 L1189 751.7 L1188 752 L1186.9 752 L1185.4 750.2 L1185.9 748 L1186 746.4Z" fill="#efefdb" stroke="#000" stroke-width="4.2" stroke-linejoin="round"/>
<path d="M1193.7 744 L1195.6 743.6 L1197.1 742.1 L1199.2 742.4 L1199.8 744.3 L1198.2 745 L1196.9 746.4 L1195.2 747.1 L1194.5 745.5Z" fill="#efefdb" stroke="#000" stroke-width="4.2" stroke-linejoin="round"/>
<path d="M708.3 645.8 L710.2 645.2 L712.4 645.2 L714.1 643.8 L716 643.1 L717.9 645.9 L720.1 643.8 L722.2 643.2 L724.3 641.6 L726.3 643.2 L728.4 643.7 L730.7 645.2 L732.4 642.5 L734.5 642.7 L735.9 644.1 L738.3 643.9 L739.2 645.8 L741.8 644.4 L742 647.4 L740.5 648.1 L739.1 648.9 L737.6 649.6 L736.5 652.5 L733.6 649 L732.2 651 L730.6 652.1 L727.9 649.3 L726.8 652.3 L724.7 653.1 L722.7 652.2 L720.6 652 L718.8 650.6 L716.5 651.4 L714.4 650.8 L715.8 650.3 L716 648.9 L714 648.2 L712 647.3 L709.8 647.7 L711.2 646.5 L712.9 646.8 L714.4 646.5 L712.2 648 L710.3 645.9Z" fill="#efefdb" stroke="#000" stroke-width="4.2" stroke-linejoin="round"/>
<path d="M600.7 700.9 L601.8 699.1 L602 696.7 L603.5 695.1 L604.2 692.9 L606.2 691.7 L607.7 691 L609.2 690.2 L610.8 689.6 L612.4 689.2 L612.6 691 L611.4 692.3 L610.9 693.8 L613.3 692.6 L614.8 694.8 L616.8 694.9 L618.6 696 L618.9 697.8 L618.5 699.7 L618.2 701.7 L620.1 703.1 L618.2 703.5 L616.3 704.3 L614.3 703.3 L612.4 703.4 L610.6 703.3 L609.3 702 L607.8 701.2 L606 702 L604.2 700.8 L602.4 701.2Z" fill="#efefdb" stroke="#000" stroke-width="4.2" stroke-linejoin="round"/>
<path d="M387.3 691.7 L389.3 692.4 L391.5 691.9 L393.7 691.8 L395.5 693.2 L397.5 693.8 L398.2 695.5 L399.6 696.4 L401.4 697 L402.2 698.5 L400 698.8 L398.2 696.6 L396 697.5 L394.3 696.3 L392.4 695.4 L391 693.8 L389.5 692.2Z" fill="#efefdb" stroke="#000" stroke-width="4.5" stroke-linejoin="round"/>
<path d="M306.3 670.6 L308 668.7 L310.6 670.2 L312.5 669.1 L313.1 670.3 L312.5 671.5 L311.1 672.4 L309.4 672.4 L307.9 672.8 L306.3 672.3Z" fill="#efefdb" stroke="#000" stroke-width="4.5" stroke-linejoin="round"/>
<path d="M552.1 1062.2 L554.2 1063.3 L556.3 1062.3 L558.3 1061.3 L560.4 1062 L562.4 1061.4 L564.5 1062.2 L566 1063 L567.2 1064.1 L567.9 1065.7 L569.1 1066.8 L568.8 1068.6 L567.8 1070.2 L567.6 1072.1 L565.5 1071.6 L563.5 1070.5 L561.4 1072.8 L559.3 1072.2 L557.2 1072.4 L555.2 1071.5 L554 1070.4 L553.3 1068.8 L551.2 1068.6 L550.6 1066.8 L551.2 1065.3 L551.5 1063.7Z" fill="#efefdb" stroke="#000" stroke-width="4.5" stroke-linejoin="round"/>
<path d="M1139.6 874 L1141.6 874.2 L1143.7 874.4 L1145.7 874 L1147.8 874.5 L1149.9 873.7 L1151.9 874.6 L1154 874 L1156 874.9 L1158.1 874.6 L1160.2 875.5 L1162.2 874.3 L1164.3 874.3 L1163.7 875.8 L1161.9 875.5 L1160.2 875.1 L1158.5 875.8 L1156.8 877.1 L1155 876.1 L1153.1 876.1 L1151.3 877 L1149.4 876.5 L1147.6 876.2 L1145.7 876.5 L1143.9 876 L1142.1 875.7 L1140.2 875.8Z" fill="#efefdb" stroke="#000" stroke-width="3.9" stroke-linejoin="round"/>
<path d="M521.2 780.5 L522.7 779.6 L524.1 778.6 L526 778.4 L527.4 777.4 L529.3 777.5 L531.2 776.8 L533.2 777.5 L535.1 777.1 L536.9 777.9 L538.8 778.7 L540.8 779 L542.2 780.7 L544.2 781 L545.9 782 L547.3 783.6 L549.4 783.7 L551 784.8 L553.1 784.8 L554.6 786.1 L552.5 785.8 L550.5 786.2 L548.4 785.9 L546.4 786.8 L544.4 787 L544.2 785.4 L542.9 784.5 L540.7 784.6 L539.1 783.4 L537.5 782 L535.5 781.5 L533.6 781.1 L531.5 780.6 L529.5 780.3 L527.4 779.9 L525.4 780.7 L523.3 780.7Z" fill="#efefdb" stroke="#000" stroke-width="3.9" stroke-linejoin="round"/>
<path d="M554 791.3 L555.4 789.9 L556.7 788.3 L558.3 787 L560.1 787.6 L562 787.3 L563.9 787.1 L565.7 787.1 L567.6 787.3 L569.7 787.9 L570.9 789.8 L572.5 791 L570.8 791 L569.2 791.7 L567.6 791.9 L565.8 792 L564.7 793.7 L562.9 793.8 L561.3 793.2 L559.9 792.3 L557.8 792.7 L556 791.4Z" fill="#efefdb" stroke="#000" stroke-width="3.9" stroke-linejoin="round"/>
<path d="M818 676.2 L819.7 676.3 L821.1 675.3 L822.7 675.2 L820.4 676.4 L822 678.3 L820.4 677.1 L818.6 678Z" fill="#efefdb" stroke="#000" stroke-width="4.5" stroke-linejoin="round"/>
<path d="M594.8 1008 L596.9 1007.7 L599 1006.9 L601.1 1007.2 L603.2 1006 L605.3 1008 L605.2 1010.1 L603.1 1010.5 L601.1 1010.6 L599 1011 L597 1010.2 L597 1007.9Z" fill="#efefdb" stroke="#000" stroke-width="4.2" stroke-linejoin="round"/>
<path d="M1242.5 865.9 L1244.5 866.4 L1245.8 864.2 L1247.8 864.4 L1249 863 L1250.8 862.4 L1252.4 861.6 L1253.6 861.9 L1254.9 861.9 L1253.4 863.5 L1253 865.6 L1251.1 866 L1249.9 867.9 L1247.8 867.8 L1246.2 867.7 L1244.7 867.3 L1243.1 867.2Z" fill="#efefdb" stroke="#000" stroke-width="3.9" stroke-linejoin="round"/>
<path d="M614 1093.1 L615.9 1092.6 L617.7 1091.5 L619.9 1093.2 L621.5 1090.8 L623.5 1090.8 L625.5 1091.1 L627.6 1091.5 L629.4 1090.7 L631.5 1090.4 L633.5 1091.6 L635.6 1091.8 L637.8 1089.9 L639.7 1092.2 L641.8 1091.6 L643.2 1093.1 L644.2 1095.1 L646.4 1095.6 L644.8 1096.7 L643 1097.2 L640.9 1096.3 L639.2 1097.2 L637.3 1097.2 L635.6 1098.1 L633.7 1098 L631.7 1099.2 L629.7 1099.1 L627.9 1097.7 L625.9 1097.4 L624 1097.2 L622.1 1097.2 L620.1 1097.2 L618.1 1097 L616.7 1095.6 L615.3 1094.4Z" fill="#efefdb" stroke="#000" stroke-width="3.3" stroke-linejoin="round"/>
<path d="M363.5 667.5 L365.3 668.6 L366.1 670.7 L368.2 671.3 L370.9 671.3 L371.8 673.3 L372.8 675.2 L374.8 675.9 L375.1 678.7 L377.1 679.3 L379.5 679.5 L380.5 681.4 L382.6 681.9 L381.6 685.3 L384.2 685.2 L386.9 685 L386.7 687.6 L388.5 688.5 L390.3 689.4 L392.4 690.1 L391.7 694.1 L394.5 693.8 L395.9 695.1 L397.8 695.9 L399.6 696.7 L400.6 698.5 L400.6 698.5 L398.2 698.5 L397 696.9 L396.4 694.5 L394.5 693.8 L393 692.5 L391.3 691.5 L389.6 690.4 L388 689.2 L386.7 687.6 L384.6 687.2 L385.3 684.1 L382.6 684.3 L380.6 683.9 L380.5 681.4 L378.4 680.9 L376.4 680.2 L376 677.6 L374.4 676.4 L372.8 675.2" fill="none" stroke="#000" stroke-width="4.6" stroke-linejoin="round" stroke-linecap="round"/>
<path d="M314.1 666.6 L312.4 667.5 L310.3 667.5 L309.5 670.6 L306.6 668.5 L305.2 670.1 L304 672.2 L301.7 671.5 L300.1 672.7 L298.2 673.1 L296 672.7 L294.1 673.1 L293.1 675.6 L291.6 677.1 L289.3 676.5 L287.1 676.1 L285.4 678.4 L283.2 678.4 L280.9 677.9 L279.1 679.5 L277 679.6 L277 679.6 L278.8 678.2 L280.8 677.6 L283.2 678.2 L285.1 677.2 L287.4 677.5 L289.3 676.5 L291.1 675.7 L293.6 676.9 L294.8 674.8 L296.2 673.2 L298 672.5 L299.8 671.9 L301.7 671.5 L303.6 671.3 L304.6 668.4 L306.7 668.7" fill="none" stroke="#000" stroke-width="2.8" stroke-linejoin="round" stroke-linecap="round"/>
<path d="M604.7 614.9 L606.6 615.9 L608.1 617.3 L609.1 619.2 L610.7 620.5 L611.1 622.8 L612.1 624.7 L614 625.7 L614.5 627.6 L616.6 628.4 L618.4 629.5 L617.9 632.1 L618.7 633.7 L620.1 635 L621.5 636.9 L620.8 638.7 L619 640.6 L620.7 642.4 L620.1 644.3 L620.4 646.6 L622.5 647.5 L626 647.2 L627.3 648.7 L626.3 652 L628.4 652.6 L628.7 655.3 L632.2 654 L632.2 657.2 L634.2 657.8 L635.6 659.2 L635.6 659.2 L633.7 658.4 L632.4 657 L630.6 656.1 L629.1 654.9 L628 653.1 L626.3 652 L624.3 651.1 L624.2 648.6 L623.8 646.5 L621.3 645.9 L620.1 644.3 L619.8 642.4 L621.1 640.6 L621.6 638.7 L619.4 636.9 L620.1 635 L619.4 633.3 L617.4 632.4 L614.7 631.9 L616.4 628.6 L612.7 628.8 L614 625.7 L611.3 625.3" fill="none" stroke="#000" stroke-width="5.3" stroke-linejoin="round" stroke-linecap="round"/>
<path d="M722.2 613.3 L721.3 615.1 L722.6 617.6 L719.5 618.6 L717.1 619.9 L719.1 622.6 L716.9 623.4 L717.6 626.5 L714.4 626.5 L715.1 629.6 L712.9 630.4 L711.9 633.4 L708 629.4 L708.2 635.4 L704.6 632.3 L703.6 635.3 L701.4 635.6 L700 637.6 L697.4 636.9 L695.4 636.9 L694.1 639.2 L692.4 640.2 L690.3 640.2 L688 639.6 L686.1 640.1 L684.7 641.8 L682.9 642.7 L680.7 642.3 L678.9 643.1 L676.8 643.6 L674.9 644.7 L672.8 644.9 L670.7 645.4 L669 647.5 L666.5 646.4 L664.4 646.5 L662.7 648.7 L660.3 648 L660.3 648 L662.7 648.5 L664.6 647.5 L666.5 646.4 L668.8 646.8 L671 646.5 L672.7 644.7 L674.8 644.2 L677.2 645.1 L678.9 643.1 L680.9 643 L681.7 639.2 L684.4 641 L686.7 641.8 L688.4 640.7 L690.5 640.7 L691.6 637.8 L693.7 637.9 L695.6 637.6 L697.4 636.9 L699.4 636.2 L700.9 634.3 L703.1 634.2 L705.2 633.7 L707.1 632.8 L708 629.4 L711.2 631.7 L712.9 630.4 L713.8 628.5 L717.5 629 L714.8 624.3 L719 625.1" fill="none" stroke="#000" stroke-width="4.6" stroke-linejoin="round" stroke-linecap="round"/>
<path d="M728.4 599.4 L726.2 600.8 L726.8 603.3 L724.8 604.7 L725.3 607.1 L724.1 608.5 L724.1 610.4 L722.3 611.5 L722.2 613.3 L722.2 613.3 L725 612.8 L723.1 609.9 L726.6 609.8 L725.3 607.1 L727.8 605.9" fill="none" stroke="#000" stroke-width="4.3" stroke-linejoin="round" stroke-linecap="round"/>
<path d="M567.6 610.2 L569.8 609.7 L572 609.8 L573.2 614.2 L575.8 612 L578.1 611.4 L580 612.7 L581.9 615.1 L584.1 613.2 L586.1 613.7 L588.2 611.7 L590.2 613.8 L592.3 613.7 L594.4 613.5 L596.4 614.2 L598.5 613.3 L598.5 613.3 L596.4 615.8 L594.4 613.6 L592.3 613.5 L590.3 612.5 L588.2 614.1 L586.2 611.3 L584.1 612.9 L582 612.8 L580 612.7 L577.9 612.4 L576 611.2 L573.6 612.4" fill="none" stroke="#000" stroke-width="3.1" stroke-linejoin="round" stroke-linecap="round"/>
<path d="M799.5 666 L802.2 664 L799.4 662.1 L798.3 660.2 L799.5 658.2 L800.6 656.5 L801.4 654.4 L803.7 654.2 L805.6 653.6 L807.2 652.4 L808.7 651 L810.9 651 L812.9 650.8 L814.2 649 L815.9 647.9 L818 648 L819.2 646.2 L822.1 646.4 L824 645.5 L825.6 644.2 L825.7 641.2 L827.2 640 L828 637.9 L829.7 637.1 L830.8 635.3 L832.2 634.1 L835 635 L836.9 634.2 L839.3 634.9 L840.6 631.9 L842.6 631.5 L844.2 629.5 L847.1 632.2 L848.9 631 L850.7 629.3 L852.6 628.7 L854.8 630.9 L856.7 630.3 L858.5 628.7 L860.3 627.5 L862.6 630.3 L864.4 628.8 L864.4 628.8 L862.3 627.9 L860.3 628.1 L858.7 630.3 L856.6 629.6 L854.5 628.5 L853.1 632.3 L850.7 629.6 L848.9 631 L846.5 630 L844.7 631.3 L842.6 631.4 L840.6 632 L838.8 633.3 L837.3 635.4 L835 635 L833.3 635.7 L831.9 637 L831.1 639.1 L829.4 640 L828.2 641.5 L825.7 641.2 L823.9 642.2 L822.5 643.7 L821.1 645.3 L821.4 648.7 L818 648 L816.1 648.6 L815.3 651.5 L812.4 649.8 L811.1 651.6 L810 653.8 L807.3 652.5 L805.6 653.6" fill="none" stroke="#000" stroke-width="3.1" stroke-linejoin="round" stroke-linecap="round"/>
<path d="M554.6 984.8 L553.8 986.6 L552.3 988.2 L552.6 990.4 L551.9 992.2 L551.2 994.1 L552.1 995.9 L551.3 997.8 L551.8 999.6 L552.5 1001.5 L551.5 1003.4 L551.1 1005.9 L552.9 1007.2 L553.4 1009.2 L555.2 1010.5 L556.3 1012.4 L558.3 1013.1 L559.4 1015 L561.4 1015.8 L562.5 1018.5 L565.5 1017.2 L567.1 1018.7 L569.1 1019.5 L571 1020.9 L573.1 1018.1 L575.1 1018.3 L576.9 1020.1 L576.9 1020.1 L574.8 1021.7 L573 1020.3 L571 1020.3 L569.1 1019.5 L566.8 1019.4 L565.5 1017.2 L563.8 1015.7 L561.4 1015.8 L559.4 1014.9 L558.3 1013.2 L557.2 1011.3 L555.2 1010.5 L554 1008.9 L553 1007.1 L552.1 1005.3 L551.5 1003.4 L551.6 1001.5 L552.6 999.6 L551.6 997.8" fill="none" stroke="#000" stroke-width="6.2" stroke-linejoin="round" stroke-linecap="round"/>
<path d="M572.2 1011.4 L570.9 1012.5 L569.7 1014 L568.3 1015 L566 1014.2 L564.1 1015 L562.8 1013.5 L561.4 1012.7 L561.4 1012.7 L563.3 1012.2 L564.6 1013.4 L566 1014.2 L568.4 1015.3" fill="none" stroke="#000" stroke-width="3.1" stroke-linejoin="round" stroke-linecap="round"/>
<path d="M549 1072.4 L550.8 1071.4 L552.6 1070.7 L554.2 1069.3 L556.3 1069.1 L557.8 1067.5 L559.6 1066.8 L561.4 1065.9 L563.7 1065.6 L565 1063.6 L566.5 1062 L569.2 1062.3 L569.8 1059.3 L572.2 1059.1 L573.3 1057.4 L574.7 1056.2 L576.5 1055.4 L578.9 1055.7 L579.8 1053.7 L581.5 1052.9 L583.3 1051.9 L585.4 1051.5 L586.5 1048.9 L588.7 1048.7 L590.8 1048.3 L592.5 1047.3 L594.3 1046.3 L596.1 1045.5 L598.1 1045 L600 1044.5 L601.9 1044.2 L603.5 1042.8 L605.3 1042.3 L607.3 1042.7 L609.4 1043 L610.9 1041.4 L610.9 1041.4 L609.2 1042.4 L607.2 1042.3 L605.3 1042.6 L603.8 1044.2 L601.6 1043.1 L600 1044.5 L598.2 1045.2 L596.6 1046.8 L594.3 1046.4 L592.4 1047 L590.8 1048.3 L588.7 1048.8 L586.7 1049.4 L584.7 1050.1 L583.6 1052.4 L581.5 1052.9 L580.3 1054.4 L578.9 1055.7 L577 1056.2 L574.8 1056.2 L574.3 1058.9 L572.2 1059.1 L570 1059.6 L568.5 1061.2 L566.9 1062.6 L565.1 1063.7 L563.2 1064.8 L561.4 1065.9" fill="none" stroke="#000" stroke-width="4.9" stroke-linejoin="round" stroke-linecap="round"/>
<path d="M595.4 1049.8 L596 1051.6 L596.4 1053.5 L596.8 1055.3 L595.9 1057.4 L597 1059.1 L596.8 1060.9 L597.6 1062.8 L596.4 1064.7 L596.8 1066.5 L597 1068.4 L596.9 1070.2 L596.6 1072.1 L596.6 1073.9 L597.4 1075.8 L597 1077.7 L597 1077.7 L596.9 1075.8 L598.3 1073.9 L598.3 1072.1 L597.1 1070.2 L597 1068.4 L596 1066.5 L596.5 1064.7 L597 1062.8 L596.5 1060.9 L597 1059.1 L596.9 1057.2" fill="none" stroke="#000" stroke-width="2.8" stroke-linejoin="round" stroke-linecap="round"/>
<path d="M468.7 1071.5 L470.8 1071.9 L472.9 1071.3 L475 1070.8 L477.1 1072.2 L479.3 1072.7 L481.4 1071.9 L483.5 1071.1 L485.7 1071.8 L485.7 1071.8 L483.5 1070.9 L481.4 1073.1 L479.3 1073 L477.1 1071.9 L475 1071.8 L472.9 1071.9" fill="none" stroke="#000" stroke-width="2.8" stroke-linejoin="round" stroke-linecap="round"/>
<path d="M289.3 1091.6 L291.3 1090.6 L293.4 1090.7 L295.5 1090.6 L297.6 1090.8 L299.6 1090.3 L301.7 1090.7 L303.9 1091.4 L305.8 1089.2 L307.9 1090 L309.8 1088.6 L311.9 1088.1 L314 1088.5 L316.1 1089 L318.2 1088.7 L320.3 1088.5 L322.2 1087.5 L324.2 1086.9 L326.4 1086.8 L328.7 1087.3 L330.5 1085.6 L332.6 1085.4 L332.6 1085.4 L330.5 1085.9 L328.4 1086.2 L326.5 1087.1 L324.5 1088 L322.1 1087.1 L320.3 1088.5 L318.2 1088.8 L316.1 1088.9 L314.1 1089.4 L312 1089.1 L310 1089.6 L307.9 1090 L305.8 1089.3 L303.9 1091.1 L301.7 1089.8 L299.7 1091.3 L297.6 1090.5 L295.4 1089.7" fill="none" stroke="#000" stroke-width="2.8" stroke-linejoin="round" stroke-linecap="round"/>
<path d="M273.9 1094.1 L275.9 1094.1 L278 1093.9 L280 1094.8 L282.1 1095.1 L284.2 1094.8 L286.2 1095 L288.3 1095.9 L290.4 1094.2 L292.4 1094.7 L294.5 1094.6 L296.5 1095.5 L298.6 1095.2 L300.7 1095.1 L302.7 1095.6 L304.8 1095.9 L306.8 1096.6 L308.8 1097.4 L311 1096.2 L313 1095.7 L315.2 1096.4 L317.1 1095.5 L319.3 1095.7 L321.3 1095.2 L323.3 1095 L323.3 1095 L321.2 1094.8 L319.2 1095.3 L317.1 1095.5 L315 1094.5 L313 1096 L311 1096.2 L308.9 1096.1 L306.8 1096.2 L304.8 1095.6 L302.7 1095.6 L300.6 1096.2 L298.6 1095.7 L296.4 1096.4 L294.5 1094.7 L292.4 1094.7 L290.4 1094.9 L288.3 1093.9 L286.2 1094.7 L284.2 1093.3 L282.1 1094.4" fill="none" stroke="#000" stroke-width="3.1" stroke-linejoin="round" stroke-linecap="round"/>
<path d="M273.9 1099.3 L275.8 1099.1 L277.8 1099.4 L279.7 1099.8 L281.6 1100.2 L283.6 1098.7 L285.4 1100.4 L287.4 1100.2 L289.3 1100.3 L289.3 1100.3 L287.4 1099.4 L285.5 1100.3 L283.6 1099.5 L281.6 1099.3 L279.7 1099.3 L277.8 1098.2" fill="none" stroke="#000" stroke-width="2.2" stroke-linejoin="round" stroke-linecap="round"/>
<path d="M243 1104.9 L244.9 1105.8 L246.9 1104.8 L248.8 1106.3 L250.8 1105.9 L252.8 1105.2 L254.6 1107.3 L256.7 1106.7 L258.6 1107.3 L260.6 1107.1 L262.6 1106.9 L264.6 1106.8 L266.7 1105.6 L268.7 1108.3 L270.8 1107.9 L272.8 1107.5 L275 1105.9 L277 1106.7 L279 1107.9 L281.1 1108.1 L283.2 1107 L285.2 1106.8 L287.3 1107.9 L289.3 1107.7 L291.4 1107.8 L293.5 1108.3 L295.5 1106.6 L297.6 1106.8 L299.7 1107.9 L301.8 1107.4 L303.9 1107.8 L305.8 1106.2 L307.9 1106.1 L307.9 1106.1 L305.8 1106.1 L303.8 1106.4 L301.7 1106.8 L299.7 1107.7 L297.5 1106.4 L295.5 1107.3 L293.5 1107.8 L291.4 1107.6 L289.3 1107.7 L287.2 1108.5 L285.2 1107.5 L283.2 1107.5 L281.1 1107.1 L279 1106.8 L277 1106.7 L274.9 1108.5 L272.8 1108.2 L270.8 1106.2 L268.7 1107.6 L266.7 1106.3 L264.6 1106.8 L262.6 1107.2 L260.6 1106.6 L258.8 1105 L256.8 1105.1 L254.8 1105.8 L252.8 1106 L250.7 1106.6" fill="none" stroke="#000" stroke-width="2.5" stroke-linejoin="round" stroke-linecap="round"/>
<path d="M298.6 1103 L300.7 1102.5 L302.7 1103.7 L304.8 1103.9 L306.8 1103.7 L308.9 1103.1 L311 1103.7 L311 1103.7 L308.9 1104 L306.8 1103.6 L304.8 1103.7 L302.7 1103.3" fill="none" stroke="#000" stroke-width="1.9" stroke-linejoin="round" stroke-linecap="round"/>
<path d="M289.3 1091.9 L291.3 1092.3 L293.2 1092.2 L295.1 1092.3 L297.1 1091.5 L299 1091.5 L300.9 1092.3 L302.9 1091.8 L304.8 1092.5 L306.9 1092.6 L308.9 1091.4 L311 1093.6 L313 1092 L315.1 1092 L317.2 1091.9 L317.2 1091.9 L315 1090.6 L313.1 1092.8 L310.9 1091 L308.9 1092.7 L306.8 1092.3 L304.8 1092.5 L302.9 1092.3 L301 1091.4 L299 1092.5 L297.1 1092.4 L295.1 1092.4" fill="none" stroke="#000" stroke-width="2.5" stroke-linejoin="round" stroke-linecap="round"/>
<path d="M320.3 1083.2 L322.3 1083 L324.4 1083.8 L326.4 1082 L328.5 1082.7 L330.5 1082.2 L332.6 1082.5 L334.7 1082.6 L336.7 1082.1 L338.8 1081.6 L340.9 1081.8 L342.9 1081.7 L345 1081.1 L347.1 1082.1 L349.1 1081.6 L351.2 1081.1 L351.2 1081.1 L349.1 1081.5 L347.1 1082.3 L344.9 1080.8 L343 1082.5 L340.8 1081.5 L338.8 1082.2 L336.8 1082.8 L334.8 1083.6 L332.6 1081.7 L330.5 1081.9 L328.4 1082 L326.4 1082.3 L324.4 1083.5" fill="none" stroke="#000" stroke-width="2.5" stroke-linejoin="round" stroke-linecap="round"/>
<path d="M530.5 1091 L532.4 1092.3 L534.8 1090.6 L536.6 1092.3 L538.8 1092 L540.9 1092.1 L542.7 1094 L544.9 1093.3 L547 1093.7 L549 1094.4 L551.1 1093.9 L553.2 1094.6 L555.3 1094.3 L557.3 1095.3 L559.5 1094.8 L561.5 1095 L563.5 1096.1 L565.6 1095.8 L567.6 1096.9 L569.6 1097.5 L571.6 1098.4 L574 1097.6 L575.6 1099.8 L578.2 1098.4 L580.2 1099.2 L581.8 1101.4 L584 1101.3 L586.1 1101.7 L588.4 1101.6 L590.3 1102.5 L592.3 1103.4 L592.3 1103.4 L590.2 1103.1 L588.3 1101.7 L585.9 1102.6 L584.1 1101.1 L581.8 1101.3 L579.8 1100.7 L577.7 1100.1 L575.8 1099 L573.6 1099 L571.9 1097.1 L569.7 1097.4 L567.6 1096.9 L565.3 1097.7 L563.4 1096.4 L561.3 1096.5 L559.3 1095.6 L557.3 1095 L555.2 1095.3 L553.2 1094.1 L551.2 1093.7 L549.2 1093.1 L546.9 1094.3 L544.9 1093.2 L542.9 1092.9 L540.9 1091.7 L538.7 1092.5 L536.6 1092.7" fill="none" stroke="#000" stroke-width="2.8" stroke-linejoin="round" stroke-linecap="round"/>
<path d="M1291 1077.7 L1290.6 1079.4 L1290.5 1081.3 L1287.9 1081.9 L1288 1083.9 L1289.6 1085 L1289.7 1086.8 L1289.5 1088.9 L1291 1090 L1291 1090 L1290.4 1088.4 L1289.6 1086.9 L1287.9 1085.8 L1288 1083.9 L1289.4 1082.7" fill="none" stroke="#000" stroke-width="2.8" stroke-linejoin="round" stroke-linecap="round"/>
<path d="M1297.2 1068.4 L1299.1 1069.7 L1301.6 1068.4 L1303.4 1070.1 L1305.5 1070.3 L1307.3 1072 L1309.6 1071.5 L1309.6 1071.5 L1307.5 1071.1 L1305.5 1070.3 L1303.5 1069.7 L1301.5 1069" fill="none" stroke="#000" stroke-width="2.8" stroke-linejoin="round" stroke-linecap="round"/>
<path d="M1161.2 808.4 L1162.2 809.8 L1163.8 810.7 L1165 812 L1166.4 813.1 L1167.4 814.5 L1168.2 816.1 L1168.6 817.8 L1169.2 819.4 L1170.5 820.7 L1171 822.8 L1169.5 824.9 L1170.5 826.9 L1170.5 826.9 L1170.7 824.9 L1171 822.8 L1170.5 820.7 L1169.7 819.2 L1169.2 817.5 L1168.4 816 L1167.4 814.5 L1165.9 813.6" fill="none" stroke="#000" stroke-width="5.6" stroke-linejoin="round" stroke-linecap="round"/>
<path d="M1156.6 796 L1157.3 797.8 L1157.8 799.8 L1157.8 801.8 L1158.1 803.7 L1158.1 803.7 L1158.5 801.6 L1157.4 799.8" fill="none" stroke="#000" stroke-width="4.3" stroke-linejoin="round" stroke-linecap="round"/>
<path d="M771.6 670.6 L771.6 672.8 L772.4 674.8 L773.2 676.8 L775.7 677.5 L774.3 680.1 L774.2 682.1 L776.3 683 L777.6 684.4 L778.5 686 L779.4 687.6 L779.4 687.6 L777.8 686.5 L777.6 684.3 L776.3 683 L774.2 682.1 L774.2 680.2 L772.2 679.2" fill="none" stroke="#000" stroke-width="5.6" stroke-linejoin="round" stroke-linecap="round"/>
<path d="M759.3 681.4 L760.1 683 L760.4 684.5 L759.3 686.1 L759.3 686.1 L758.5 684.5" fill="none" stroke="#000" stroke-width="3.7" stroke-linejoin="round" stroke-linecap="round"/>
<path d="M521.2 622.6 L523.4 621.5 L525 623.6 L526.9 624.2 L528.5 626.4 L530.9 624.4 L532.9 624.4 L534.6 625.9 L536.7 625.7 L538.5 626.5 L540.1 628.6 L542.9 624.9 L544.5 626.8 L546.2 628.1 L548.4 627.2 L550.3 627.9 L552.1 628.8 L552.1 628.8 L550.2 628.6 L548.3 627.8 L546.3 627.8 L544.3 627.9 L542.2 628 L540.3 627.7 L538.5 626.7 L536.7 625.7 L534.5 626.6 L532.9 624.7 L531.3 622.4 L529.4 622.1 L526.8 625" fill="none" stroke="#000" stroke-width="2.5" stroke-linejoin="round" stroke-linecap="round"/>
<path d="M490.3 617.1 L492.2 614.2 L494.4 617.6 L496.5 616.9 L498.6 617.7 L500.6 617.7 L502.6 614.6 L504.7 616.4 L506.8 616.6 L508.8 614.8 L510.8 613.7 L512.9 614.6 L515 614.7 L517.1 616.9 L519.1 614.1 L521.2 615.8 L523.2 614.7 L525 617.4 L527 617 L529 615.3 L530.8 617.6 L532.8 617.6 L534.7 617.7 L536.7 616.4 L536.7 616.4 L534.7 617.2 L532.8 615.2 L530.9 616 L528.9 616.9 L526.9 617.7 L525 617.5 L523.1 617 L521.2 615.8 L519.2 616.7 L517 613.5 L515 616 L513 617.6 L511 617.4 L508.8 615.7 L506.8 617.3 L504.7 616.4 L502.7 616.8 L500.6 616.3 L498.5 615.5 L496.4 614.6" fill="none" stroke="#000" stroke-width="2.8" stroke-linejoin="round" stroke-linecap="round"/>
<path d="M413 614.9 L415.1 614 L417.1 615.8 L419.2 614 L421.2 617.7 L423.3 615.8 L425.4 612.7 L427.4 615.3 L429.5 614.2 L431.6 616.2 L433.6 613 L435.7 613.7 L437.7 613.2 L439.8 615.4 L441.9 614.2 L443.9 614.9 L446 616.1 L448 614.2 L450.2 617.5 L452.1 613.9 L454.2 613.7 L456.3 615 L458.3 612.5 L460.4 614.5 L462.4 611.8 L464.5 614.9 L466.6 615.2 L468.7 614.3 L470.6 611.3 L472.8 616.3 L474.8 614 L474.8 614 L472.8 613.5 L470.7 613.6 L468.7 615.2 L466.5 612.1 L464.6 617 L462.4 611.7 L460.5 616.6 L458.3 614.1 L456.2 613.2 L454.3 615.6 L452.1 612.3 L450.1 614.6 L448 612.9 L445.9 613 L443.9 614.9 L441.9 613 L439.8 614.7 L437.7 617.3 L435.7 614.3 L433.6 616.8 L431.6 614 L429.5 615.9 L427.4 615.9 L425.4 614.6 L423.3 615.9 L421.2 615.4 L419.2 615.4" fill="none" stroke="#000" stroke-width="3.1" stroke-linejoin="round" stroke-linecap="round"/>
<path d="M428.5 624.2 L430.2 625.3 L431.8 627.7 L434.8 622.6 L436.3 625.4 L438.2 625.9 L440 626.9 L442.2 626 L443.9 627.3 L445.6 629.9 L448.3 626.6 L450.6 625.6 L452 629.6 L454.4 627.9 L456.1 630.5 L458.1 631.4 L460.4 630 L462.5 630.4 L462.5 630.4 L460.6 628.9 L458.5 628.9 L456.3 629.4 L454.3 628.7 L451.9 630.2 L449.9 629.4 L447.9 628.5 L445.9 628 L443.9 627.3 L442.1 626.1 L440.1 626.1 L438.1 626.3 L436.2 625.7 L434.4 624.7" fill="none" stroke="#000" stroke-width="2.5" stroke-linejoin="round" stroke-linecap="round"/>
<path d="M403.7 621.1 L405.6 621.7 L408 620.6 L409.9 621 L411 623.9 L413 624.2 L413 624.2 L411.5 622.4 L409.3 623.1 L406.6 625" fill="none" stroke="#000" stroke-width="2.5" stroke-linejoin="round" stroke-linecap="round"/>
<path d="M474.8 624.2 L476.9 622.4 L479 622.3 L481 623.2 L483.1 625.1 L485.1 624.3 L487.2 623.3 L489.3 623.3 L491.3 623.7 L493.4 624.2 L495.4 623.4 L497.5 621.6 L499.6 623.8 L501.6 623.3 L503.7 621.4 L505.8 624.2 L505.8 624.2 L503.7 622.8 L501.6 625.2 L499.6 624.9 L497.5 625.6 L495.4 624.1 L493.4 624.2 L491.3 622.7 L489.3 622.6 L487.2 623.9 L485.1 623.8 L483.1 623.7 L481 621.7" fill="none" stroke="#000" stroke-width="2.8" stroke-linejoin="round" stroke-linecap="round"/>
<path d="M505.8 601 L507.8 601.2 L509.9 599.4 L511.9 601.6 L514 601.1 L516.1 603.7 L518.1 601 L520.2 602.5 L522.2 601.6 L524.3 600.6 L526.4 602.4 L528.4 601.4 L530.5 601 L532.3 598.2 L534.3 599.2 L536.2 598 L538.3 599.1 L540.4 601.4 L542.3 600.6 L544.3 600 L546.1 598.7 L548 597.6 L550.2 599.8 L552.1 599.4 L552.1 599.4 L550 597.6 L548.3 601.1 L546.3 601.5 L544.5 602.7 L542.3 599.9 L540.3 599.5 L538.3 599.1 L536.3 599.8 L534.4 601 L532.7 603.6 L530.5 601 L528.4 601.9 L526.4 599.9 L524.3 601.8 L522.2 598.2 L520.2 601.4 L518.1 602.8 L516.1 599.9 L514 601.3 L511.9 599.3" fill="none" stroke="#000" stroke-width="3.4" stroke-linejoin="round" stroke-linecap="round"/>
<path d="M511.9 607.1 L514.1 606 L516 608 L518.1 607.1 L520.1 608.6 L522.2 608.9 L524.3 607.8 L526.3 608.6 L528.4 608.3 L530.4 609.4 L532.6 607.8 L534.8 606.1 L536.7 608.7 L536.7 608.7 L534.6 609.2 L532.5 609.1 L530.5 607.9 L528.5 607 L526.4 606.8 L524.4 606.3 L522.2 608.6 L520.2 607.1 L518.2 606.6 L516.1 606.3" fill="none" stroke="#000" stroke-width="3.7" stroke-linejoin="round" stroke-linecap="round"/>
<path d="M558.3 638.1 L560.4 638.3 L561.9 640.1 L564.5 638.4 L565.9 641 L567.5 642.5 L570.2 640.5 L572 641.7 L573.8 642.7 L575.8 643.1 L576.4 645.5 L578.7 645.4 L579.6 647.4 L580.8 649 L583 648.9 L583 648.9 L582 647.2 L579.5 647.5 L578.2 646.2 L575.7 646.6 L574.7 644.7 L573.8 642.7 L572.1 641.5 L569.8 642 L568.3 639.9 L566 640.5 L564.4 638.9" fill="none" stroke="#000" stroke-width="3.7" stroke-linejoin="round" stroke-linecap="round"/>
<path d="M542.9 653.6 L544.7 655.8 L547 653.7 L548.9 655.7 L551 655.7 L553.3 652.5 L555.1 655.9 L557.3 654.3 L559.4 654.1 L561.4 655.1 L561.4 655.1 L559.5 653.6 L557.2 655.2 L555 656.8 L553.2 653.9 L551.2 653 L549 654.3 L547 654.2" fill="none" stroke="#000" stroke-width="2.8" stroke-linejoin="round" stroke-linecap="round"/>
<path d="M833.5 608.7 L833.4 605.3 L836.2 605.9 L838.1 605.2 L839.7 604.1 L841.8 604.1 L843.9 604.5 L845.9 603.6 L847.7 601 L850.2 604.6 L852 602.5 L852 602.5 L849.9 602.2 L848.1 604.8 L845.7 602.2 L843.8 603.6 L841.6 602.5 L839.7 604.1 L838.5 605.7" fill="none" stroke="#000" stroke-width="4.3" stroke-linejoin="round" stroke-linecap="round"/>
<path d="M951 625.7 L952.5 624.5 L953.7 622.7 L955.9 622.4 L957.7 621.5 L958.7 619.5 L960.8 619.5 L962.6 618.8 L963.7 615.7 L966.3 617.3 L968.2 616.6 L969.9 615.4 L971.4 613.7 L974.6 617 L975.7 614 L977.7 614 L979.5 612.8 L981 610.3 L983.5 613.1 L985.5 613.1 L987.3 611.9 L989.2 611.8 L991.1 611.5 L991.1 611.5 L988.8 609 L987.2 611.7 L985.6 613.7 L983.7 614.3 L981.2 611.3 L979.8 615 L977.5 612.7 L975.7 614 L973.9 615 L972.8 617.8 L970.3 616.8 L967.3 614 L966.1 616.5 L964.7 618.6 L963.3 620.9 L960.4 618.4 L958.7 619.5 L957.4 621.1" fill="none" stroke="#000" stroke-width="3.1" stroke-linejoin="round" stroke-linecap="round"/>
<path d="M1210.7 741.8 L1208.8 742.2 L1206.9 742 L1205.1 742.5 L1203.3 742.7 L1201.4 742.7 L1199.5 743 L1197.5 742.3 L1195.9 744.2 L1194 743.7 L1192.1 744 L1190.2 744.9 L1188.6 746.2 L1187.5 748 L1187.5 748 L1189.4 747.1 L1190.5 745.3 L1192.1 744 L1194 743.6 L1195.8 743.4 L1197.6 742.6 L1199.6 743.6 L1201.4 742.7 L1203.2 741.8" fill="none" stroke="#000" stroke-width="3.4" stroke-linejoin="round" stroke-linecap="round"/>
<path d="M1179.7 858.8 L1181.7 858.5 L1183.6 859.4 L1185.5 858.8 L1187.5 858.8 L1187.5 858.8 L1185.5 858.7 L1183.6 858.3" fill="none" stroke="#000" stroke-width="2.5" stroke-linejoin="round" stroke-linecap="round"/>
<path d="M1155 851.7 L1156.2 852.8 L1157.5 853.8 L1158.3 855.3 L1159.6 856.3 L1160.6 857.8 L1161 859.5 L1162.1 860.9 L1162.7 862.5 L1162.7 862.5 L1162.5 860.7 L1161.3 859.4 L1160.9 857.6 L1159.6 856.3 L1158 855.7" fill="none" stroke="#000" stroke-width="3.1" stroke-linejoin="round" stroke-linecap="round"/>
<path d="M935.5 706.2 L941.7 703.1 L947.9 703.7 L947.9 708.4 L942.6 710.8 L939.5 711.5 L943.2 714.9 L946.9 717 L946.9 720.1 L950.3 722.3 L947.9 726.9 L950.3 733.1 L944.8 734.7 L939.5 733.1 L935.5 731.6 L935.5 726.9 L937 723.8 L939.2 723.5 L936.1 720.1 L932.4 717 L930.2 713.9 L929.3 709.9 L932.4 707.1Z" fill="#78abd1" stroke="#000" stroke-width="3.0" stroke-linejoin="round"/>
<path d="M320.3 903.1a1.5 1.5 0 1 0 3.1 0a1.5 1.5 0 1 0 -3.1 0ZM314.3 900.3a1.3 1.3 0 1 0 2.6 0a1.3 1.3 0 1 0 -2.6 0ZM349.9 876.5a1.3 1.3 0 1 0 2.6 0a1.3 1.3 0 1 0 -2.6 0ZM353 878.9a1.3 1.3 0 1 0 2.6 0a1.3 1.3 0 1 0 -2.6 0ZM334.4 898.1a1.3 1.3 0 1 0 2.6 0a1.3 1.3 0 1 0 -2.6 0ZM340.6 901.2a1.3 1.3 0 1 0 2.6 0a1.3 1.3 0 1 0 -2.6 0ZM346.8 905.9a1.3 1.3 0 1 0 2.6 0a1.3 1.3 0 1 0 -2.6 0ZM354.5 910.5a1.3 1.3 0 1 0 2.6 0a1.3 1.3 0 1 0 -2.6 0ZM362.2 915.1a1.3 1.3 0 1 0 2.6 0a1.3 1.3 0 1 0 -2.6 0ZM365.3 919.8a1.3 1.3 0 1 0 2.6 0a1.3 1.3 0 1 0 -2.6 0ZM328.2 895.6a1.3 1.3 0 1 0 2.6 0a1.3 1.3 0 1 0 -2.6 0ZM331.3 893.5a1.3 1.3 0 1 0 2.6 0a1.3 1.3 0 1 0 -2.6 0ZM325.1 896.6a1.3 1.3 0 1 0 2.6 0a1.3 1.3 0 1 0 -2.6 0ZM336 896.6a1.3 1.3 0 1 0 2.6 0a1.3 1.3 0 1 0 -2.6 0ZM343.7 899.7a1.3 1.3 0 1 0 2.6 0a1.3 1.3 0 1 0 -2.6 0ZM348.3 902.8a1.3 1.3 0 1 0 2.6 0a1.3 1.3 0 1 0 -2.6 0ZM250.7 891.3a1.5 1.5 0 1 0 3.1 0a1.5 1.5 0 1 0 -3.1 0ZM254 892.6a1.3 1.3 0 1 0 2.6 0a1.3 1.3 0 1 0 -2.6 0ZM241.7 913.6a1.3 1.3 0 1 0 2.6 0a1.3 1.3 0 1 0 -2.6 0ZM244.8 906.5a1.3 1.3 0 1 0 2.6 0a1.3 1.3 0 1 0 -2.6 0ZM1336 899.7a1.4 1.4 0 1 0 2.8 0a1.4 1.4 0 1 0 -2.8 0ZM230.8 904.3a1.3 1.3 0 1 0 2.6 0a1.3 1.3 0 1 0 -2.6 0ZM501 850.5a1.7 1.7 0 1 0 3.4 0a1.7 1.7 0 1 0 -3.4 0ZM504.5 851.4a1.3 1.3 0 1 0 2.6 0a1.3 1.3 0 1 0 -2.6 0ZM506 849.5a1.3 1.3 0 1 0 2.6 0a1.3 1.3 0 1 0 -2.6 0ZM288 913.6a1.3 1.3 0 1 0 2.6 0a1.3 1.3 0 1 0 -2.6 0ZM295.8 842.4a1.3 1.3 0 1 0 2.6 0a1.3 1.3 0 1 0 -2.6 0ZM289.6 907.4a1.3 1.3 0 1 0 2.6 0a1.3 1.3 0 1 0 -2.6 0ZM294.5 782.4a1.3 1.3 0 1 0 2.6 0a1.3 1.3 0 1 0 -2.6 0ZM298.9 784.2a1.3 1.3 0 1 0 2.6 0a1.3 1.3 0 1 0 -2.6 0ZM289.6 780.5a1.3 1.3 0 1 0 2.6 0a1.3 1.3 0 1 0 -2.6 0ZM284.9 777.4a1.3 1.3 0 1 0 2.6 0a1.3 1.3 0 1 0 -2.6 0ZM275.7 775.9a1.3 1.3 0 1 0 2.6 0a1.3 1.3 0 1 0 -2.6 0ZM263.3 771.2a1.3 1.3 0 1 0 2.6 0a1.3 1.3 0 1 0 -2.6 0ZM250.9 768.7a1.3 1.3 0 1 0 2.6 0a1.3 1.3 0 1 0 -2.6 0ZM238.6 763.5a1.3 1.3 0 1 0 2.6 0a1.3 1.3 0 1 0 -2.6 0ZM232.4 761a1.3 1.3 0 1 0 2.6 0a1.3 1.3 0 1 0 -2.6 0ZM1233.2 801.9a1.3 1.3 0 1 0 2.6 0a1.3 1.3 0 1 0 -2.6 0ZM1230.4 807.1a1.3 1.3 0 1 0 2.6 0a1.3 1.3 0 1 0 -2.6 0ZM1233.5 796a1.3 1.3 0 1 0 2.6 0a1.3 1.3 0 1 0 -2.6 0ZM1233.5 791.3a1.3 1.3 0 1 0 2.6 0a1.3 1.3 0 1 0 -2.6 0ZM1222.3 765a1.3 1.3 0 1 0 2.6 0a1.3 1.3 0 1 0 -2.6 0ZM1219.6 771.8a1.3 1.3 0 1 0 2.6 0a1.3 1.3 0 1 0 -2.6 0ZM1198.5 825.7a1.3 1.3 0 1 0 2.6 0a1.3 1.3 0 1 0 -2.6 0ZM1209.7 819.2a1.3 1.3 0 1 0 2.6 0a1.3 1.3 0 1 0 -2.6 0ZM1252 825.7a1.3 1.3 0 1 0 2.6 0a1.3 1.3 0 1 0 -2.6 0ZM1271.8 827.2a1.3 1.3 0 1 0 2.6 0a1.3 1.3 0 1 0 -2.6 0ZM1286.7 832.2a1.3 1.3 0 1 0 2.6 0a1.3 1.3 0 1 0 -2.6 0ZM1300.6 820.7a1.3 1.3 0 1 0 2.6 0a1.3 1.3 0 1 0 -2.6 0ZM1311.4 826.6a1.3 1.3 0 1 0 2.6 0a1.3 1.3 0 1 0 -2.6 0ZM1306.7 814.5a1.3 1.3 0 1 0 2.6 0a1.3 1.3 0 1 0 -2.6 0ZM1317.6 844.3a1.3 1.3 0 1 0 2.6 0a1.3 1.3 0 1 0 -2.6 0ZM1322.2 850.1a1.3 1.3 0 1 0 2.6 0a1.3 1.3 0 1 0 -2.6 0ZM1298.7 850.1a1.3 1.3 0 1 0 2.6 0a1.3 1.3 0 1 0 -2.6 0ZM1336.7 874.9a1.3 1.3 0 1 0 2.6 0a1.3 1.3 0 1 0 -2.6 0ZM1329.9 887.3a1.3 1.3 0 1 0 2.6 0a1.3 1.3 0 1 0 -2.6 0ZM1303 903.4a1.3 1.3 0 1 0 2.6 0a1.3 1.3 0 1 0 -2.6 0ZM1306.1 907.4a1.3 1.3 0 1 0 2.6 0a1.3 1.3 0 1 0 -2.6 0ZM1299 891.9a1.3 1.3 0 1 0 2.6 0a1.3 1.3 0 1 0 -2.6 0ZM1295.9 881.7a1.3 1.3 0 1 0 2.6 0a1.3 1.3 0 1 0 -2.6 0ZM1283.2 881.1a1.4 1.4 0 1 0 2.8 0a1.4 1.4 0 1 0 -2.8 0ZM1277.4 884.5a1.3 1.3 0 1 0 2.6 0a1.3 1.3 0 1 0 -2.6 0ZM1274.3 864.1a1.3 1.3 0 1 0 2.6 0a1.3 1.3 0 1 0 -2.6 0ZM960.7 911.1a1.4 1.4 0 1 0 2.8 0a1.4 1.4 0 1 0 -2.8 0ZM954.2 913.9a1.4 1.4 0 1 0 2.8 0a1.4 1.4 0 1 0 -2.8 0ZM954.3 862.8a1.3 1.3 0 1 0 2.6 0a1.3 1.3 0 1 0 -2.6 0ZM925.9 877.7a1.3 1.3 0 1 0 2.6 0a1.3 1.3 0 1 0 -2.6 0ZM916.6 884.8a1.3 1.3 0 1 0 2.6 0a1.3 1.3 0 1 0 -2.6 0ZM920 886.4a1.3 1.3 0 1 0 2.6 0a1.3 1.3 0 1 0 -2.6 0ZM922.5 888.2a1.3 1.3 0 1 0 2.6 0a1.3 1.3 0 1 0 -2.6 0ZM978.7 909.6a1.3 1.3 0 1 0 2.6 0a1.3 1.3 0 1 0 -2.6 0ZM1008.4 836.2a1.3 1.3 0 1 0 2.6 0a1.3 1.3 0 1 0 -2.6 0ZM1009 842.7a1.3 1.3 0 1 0 2.6 0a1.3 1.3 0 1 0 -2.6 0ZM1008.7 850.5a1.3 1.3 0 1 0 2.6 0a1.3 1.3 0 1 0 -2.6 0ZM1006.5 871.2a1.3 1.3 0 1 0 2.6 0a1.3 1.3 0 1 0 -2.6 0ZM1069.1 810.5a1.9 1.9 0 1 0 3.7 0a1.9 1.9 0 1 0 -3.7 0ZM1069.9 815.5a1.3 1.3 0 1 0 2.6 0a1.3 1.3 0 1 0 -2.6 0ZM1072.7 826.9a1.3 1.3 0 1 0 2.6 0a1.3 1.3 0 1 0 -2.6 0ZM1082.3 886.1a1.3 1.3 0 1 0 2.6 0a1.3 1.3 0 1 0 -2.6 0ZM1109.2 881.1a1.3 1.3 0 1 0 2.6 0a1.3 1.3 0 1 0 -2.6 0ZM731.4 761a1.5 1.5 0 1 0 3.1 0a1.5 1.5 0 1 0 -3.1 0ZM734.8 761.9a1.3 1.3 0 1 0 2.6 0a1.3 1.3 0 1 0 -2.6 0ZM739.3 760.4a1.4 1.4 0 1 0 2.8 0a1.4 1.4 0 1 0 -2.8 0ZM727.4 759.8a1.3 1.3 0 1 0 2.6 0a1.3 1.3 0 1 0 -2.6 0ZM740.7 758.8a1.3 1.3 0 1 0 2.6 0a1.3 1.3 0 1 0 -2.6 0ZM695.2 729.1a1.3 1.3 0 1 0 2.6 0a1.3 1.3 0 1 0 -2.6 0ZM698.6 728.8a1.3 1.3 0 1 0 2.6 0a1.3 1.3 0 1 0 -2.6 0ZM703.9 731.6a1.3 1.3 0 1 0 2.6 0a1.3 1.3 0 1 0 -2.6 0ZM686.6 726.3a1.3 1.3 0 1 0 2.6 0a1.3 1.3 0 1 0 -2.6 0ZM708.5 799.1a1.3 1.3 0 1 0 2.6 0a1.3 1.3 0 1 0 -2.6 0ZM709.7 802.2a1.3 1.3 0 1 0 2.6 0a1.3 1.3 0 1 0 -2.6 0ZM705.4 796a1.3 1.3 0 1 0 2.6 0a1.3 1.3 0 1 0 -2.6 0ZM711.9 798.4a1.3 1.3 0 1 0 2.6 0a1.3 1.3 0 1 0 -2.6 0ZM730.1 747.4a1.3 1.3 0 1 0 2.6 0a1.3 1.3 0 1 0 -2.6 0ZM582.7 748.6a1.3 1.3 0 1 0 2.6 0a1.3 1.3 0 1 0 -2.6 0ZM592.6 798.4a1.3 1.3 0 1 0 2.6 0a1.3 1.3 0 1 0 -2.6 0ZM594.1 803.4a1.3 1.3 0 1 0 2.6 0a1.3 1.3 0 1 0 -2.6 0ZM593.2 800.9a1.3 1.3 0 1 0 2.6 0a1.3 1.3 0 1 0 -2.6 0ZM594.1 805.9a1.3 1.3 0 1 0 2.6 0a1.3 1.3 0 1 0 -2.6 0ZM593.5 807.7a1.3 1.3 0 1 0 2.6 0a1.3 1.3 0 1 0 -2.6 0ZM591.9 811.1a1.3 1.3 0 1 0 2.6 0a1.3 1.3 0 1 0 -2.6 0ZM598.7 807.7a1.3 1.3 0 1 0 2.6 0a1.3 1.3 0 1 0 -2.6 0ZM588.5 795a1.3 1.3 0 1 0 2.6 0a1.3 1.3 0 1 0 -2.6 0ZM591.6 795.7a1.3 1.3 0 1 0 2.6 0a1.3 1.3 0 1 0 -2.6 0ZM582.4 793.8a1.3 1.3 0 1 0 2.6 0a1.3 1.3 0 1 0 -2.6 0ZM543.1 771.2a1.3 1.3 0 1 0 2.6 0a1.3 1.3 0 1 0 -2.6 0ZM541.3 773.4a1.5 1.5 0 1 0 3.1 0a1.5 1.5 0 1 0 -3.1 0ZM547.1 773.4a1.3 1.3 0 1 0 2.6 0a1.3 1.3 0 1 0 -2.6 0ZM549.3 775.9a1.3 1.3 0 1 0 2.6 0a1.3 1.3 0 1 0 -2.6 0ZM553.9 778.9a1.3 1.3 0 1 0 2.6 0a1.3 1.3 0 1 0 -2.6 0ZM556.1 783.6a1.3 1.3 0 1 0 2.6 0a1.3 1.3 0 1 0 -2.6 0ZM543.7 766.6a1.3 1.3 0 1 0 2.6 0a1.3 1.3 0 1 0 -2.6 0ZM540 766.3a1.3 1.3 0 1 0 2.6 0a1.3 1.3 0 1 0 -2.6 0ZM526.7 781.7a1.3 1.3 0 1 0 2.6 0a1.3 1.3 0 1 0 -2.6 0ZM942.5 992.2a1.3 1.3 0 1 0 2.6 0a1.3 1.3 0 1 0 -2.6 0ZM899.6 993.8a1.3 1.3 0 1 0 2.6 0a1.3 1.3 0 1 0 -2.6 0ZM1009.9 1013a1.3 1.3 0 1 0 2.6 0a1.3 1.3 0 1 0 -2.6 0ZM1022.3 965.6a1.3 1.3 0 1 0 2.6 0a1.3 1.3 0 1 0 -2.6 0ZM1274 1017.6a1.3 1.3 0 1 0 2.6 0a1.3 1.3 0 1 0 -2.6 0ZM1296.2 1005.5a1.3 1.3 0 1 0 2.6 0a1.3 1.3 0 1 0 -2.6 0ZM1305.8 1011.1a1.3 1.3 0 1 0 2.6 0a1.3 1.3 0 1 0 -2.6 0ZM236.9 984.8a1.4 1.4 0 1 0 2.8 0a1.4 1.4 0 1 0 -2.8 0ZM1286.7 1055.4a1.3 1.3 0 1 0 2.6 0a1.3 1.3 0 1 0 -2.6 0ZM1285.1 1057.5a1.3 1.3 0 1 0 2.6 0a1.3 1.3 0 1 0 -2.6 0ZM226.5 1057.2a1.3 1.3 0 1 0 2.6 0a1.3 1.3 0 1 0 -2.6 0ZM641.8 1036.5a1.5 1.5 0 1 0 3.1 0a1.5 1.5 0 1 0 -3.1 0ZM644.5 1036.5a1.3 1.3 0 1 0 2.6 0a1.3 1.3 0 1 0 -2.6 0ZM700.8 1027.5a1.3 1.3 0 1 0 2.6 0a1.3 1.3 0 1 0 -2.6 0ZM701.1 1029.7a1.3 1.3 0 1 0 2.6 0a1.3 1.3 0 1 0 -2.6 0ZM700.5 1032.5a1.3 1.3 0 1 0 2.6 0a1.3 1.3 0 1 0 -2.6 0ZM698.3 1022.9a1.3 1.3 0 1 0 2.6 0a1.3 1.3 0 1 0 -2.6 0ZM793.2 1017a1.3 1.3 0 1 0 2.6 0a1.3 1.3 0 1 0 -2.6 0ZM744.7 963.4a1.3 1.3 0 1 0 2.6 0a1.3 1.3 0 1 0 -2.6 0ZM751.8 973.3a1.3 1.3 0 1 0 2.6 0a1.3 1.3 0 1 0 -2.6 0ZM765.1 898.1a1.3 1.3 0 1 0 2.6 0a1.3 1.3 0 1 0 -2.6 0ZM738.2 873a1.3 1.3 0 1 0 2.6 0a1.3 1.3 0 1 0 -2.6 0ZM756.3 628.8a1.4 1.4 0 1 0 2.8 0a1.4 1.4 0 1 0 -2.8 0ZM841.4 618.3a1.3 1.3 0 1 0 2.6 0a1.3 1.3 0 1 0 -2.6 0ZM760.7 656.7a1.7 1.7 0 1 0 3.4 0a1.7 1.7 0 1 0 -3.4 0ZM762.3 658.2a1.3 1.3 0 1 0 2.6 0a1.3 1.3 0 1 0 -2.6 0ZM778.3 661.9a1.7 1.7 0 1 0 3.4 0a1.7 1.7 0 1 0 -3.4 0ZM773.3 666a1.4 1.4 0 1 0 2.8 0a1.4 1.4 0 1 0 -2.8 0ZM760.8 670.6a1.5 1.5 0 1 0 3.1 0a1.5 1.5 0 1 0 -3.1 0ZM763.4 668.4a1.4 1.4 0 1 0 2.8 0a1.4 1.4 0 1 0 -2.8 0ZM763.2 673.7a1.3 1.3 0 1 0 2.6 0a1.3 1.3 0 1 0 -2.6 0ZM597.2 1042.1a1.3 1.3 0 1 0 2.6 0a1.3 1.3 0 1 0 -2.6 0ZM601.8 1040.5a1.3 1.3 0 1 0 2.6 0a1.3 1.3 0 1 0 -2.6 0ZM594.1 1043a1.3 1.3 0 1 0 2.6 0a1.3 1.3 0 1 0 -2.6 0ZM611.1 1038a1.3 1.3 0 1 0 2.6 0a1.3 1.3 0 1 0 -2.6 0ZM502.9 1061.6a1.3 1.3 0 1 0 2.6 0a1.3 1.3 0 1 0 -2.6 0ZM1299 938.4a1.3 1.3 0 1 0 2.6 0a1.3 1.3 0 1 0 -2.6 0ZM1274.6 946.1a1.3 1.3 0 1 0 2.6 0a1.3 1.3 0 1 0 -2.6 0ZM444.5 932.5a1.3 1.3 0 1 0 2.6 0a1.3 1.3 0 1 0 -2.6 0ZM535.4 952.9a1.3 1.3 0 1 0 2.6 0a1.3 1.3 0 1 0 -2.6 0ZM539.1 952.6a1.3 1.3 0 1 0 2.6 0a1.3 1.3 0 1 0 -2.6 0ZM535.1 930a1.3 1.3 0 1 0 2.6 0a1.3 1.3 0 1 0 -2.6 0ZM439.8 790.4a1.3 1.3 0 1 0 2.6 0a1.3 1.3 0 1 0 -2.6 0ZM428.1 791.9a1.3 1.3 0 1 0 2.6 0a1.3 1.3 0 1 0 -2.6 0ZM417 758.8a1.3 1.3 0 1 0 2.6 0a1.3 1.3 0 1 0 -2.6 0ZM453.4 782a1.3 1.3 0 1 0 2.6 0a1.3 1.3 0 1 0 -2.6 0ZM513.7 831.6a1.3 1.3 0 1 0 2.6 0a1.3 1.3 0 1 0 -2.6 0ZM530.4 836.2a1.3 1.3 0 1 0 2.6 0a1.3 1.3 0 1 0 -2.6 0ZM1159.9 785.1a1.3 1.3 0 1 0 2.6 0a1.3 1.3 0 1 0 -2.6 0ZM1159.6 789.8a1.3 1.3 0 1 0 2.6 0a1.3 1.3 0 1 0 -2.6 0ZM1165.5 773.1a1.3 1.3 0 1 0 2.6 0a1.3 1.3 0 1 0 -2.6 0ZM1166.7 773.1a1.3 1.3 0 1 0 2.6 0a1.3 1.3 0 1 0 -2.6 0ZM1170.1 771.8a1.3 1.3 0 1 0 2.6 0a1.3 1.3 0 1 0 -2.6 0ZM1181.2 762.5a1.3 1.3 0 1 0 2.6 0a1.3 1.3 0 1 0 -2.6 0ZM1186.2 754.5a1.3 1.3 0 1 0 2.6 0a1.3 1.3 0 1 0 -2.6 0ZM1187.7 754.2a1.3 1.3 0 1 0 2.6 0a1.3 1.3 0 1 0 -2.6 0ZM1183.1 742.4a1.3 1.3 0 1 0 2.6 0a1.3 1.3 0 1 0 -2.6 0ZM1180.6 747.4a1.3 1.3 0 1 0 2.6 0a1.3 1.3 0 1 0 -2.6 0ZM1173.6 745.2a1.5 1.5 0 1 0 3.1 0a1.5 1.5 0 1 0 -3.1 0ZM1213.7 741.2a1.3 1.3 0 1 0 2.6 0a1.3 1.3 0 1 0 -2.6 0ZM1214 743.7a1.3 1.3 0 1 0 2.6 0a1.3 1.3 0 1 0 -2.6 0ZM1214.9 746.1a1.3 1.3 0 1 0 2.6 0a1.3 1.3 0 1 0 -2.6 0ZM1218.6 708.7a1.3 1.3 0 1 0 2.6 0a1.3 1.3 0 1 0 -2.6 0ZM1196.7 867.8a1.5 1.5 0 1 0 3.1 0a1.5 1.5 0 1 0 -3.1 0ZM1198.5 865.6a1.3 1.3 0 1 0 2.6 0a1.3 1.3 0 1 0 -2.6 0ZM1187.6 873.4a1.4 1.4 0 1 0 2.8 0a1.4 1.4 0 1 0 -2.8 0ZM1189.6 871.2a1.3 1.3 0 1 0 2.6 0a1.3 1.3 0 1 0 -2.6 0ZM1184 873.4a1.3 1.3 0 1 0 2.6 0a1.3 1.3 0 1 0 -2.6 0ZM1173.8 872.4a1.3 1.3 0 1 0 2.6 0a1.3 1.3 0 1 0 -2.6 0ZM1176 874a1.3 1.3 0 1 0 2.6 0a1.3 1.3 0 1 0 -2.6 0ZM1172.3 837.8a1.3 1.3 0 1 0 2.6 0a1.3 1.3 0 1 0 -2.6 0ZM1170.7 840.2a1.3 1.3 0 1 0 2.6 0a1.3 1.3 0 1 0 -2.6 0ZM1170.4 836.2a1.3 1.3 0 1 0 2.6 0a1.3 1.3 0 1 0 -2.6 0ZM1153.7 831.6a1.3 1.3 0 1 0 2.6 0a1.3 1.3 0 1 0 -2.6 0ZM1156.8 830a1.3 1.3 0 1 0 2.6 0a1.3 1.3 0 1 0 -2.6 0ZM1153.1 833.1a1.3 1.3 0 1 0 2.6 0a1.3 1.3 0 1 0 -2.6 0ZM1117.2 836.5a1.3 1.3 0 1 0 2.6 0a1.3 1.3 0 1 0 -2.6 0ZM1111.4 839.3a1.3 1.3 0 1 0 2.6 0a1.3 1.3 0 1 0 -2.6 0ZM1115.4 857.3a1.5 1.5 0 1 0 3.1 0a1.5 1.5 0 1 0 -3.1 0ZM1109.6 855.4a2.5 2.5 0 1 0 4.9 0a2.5 2.5 0 1 0 -4.9 0ZM1105.8 845.8a1.3 1.3 0 1 0 2.6 0a1.3 1.3 0 1 0 -2.6 0ZM1104.9 849.5a1.3 1.3 0 1 0 2.6 0a1.3 1.3 0 1 0 -2.6 0ZM1088.2 851.7a1.5 1.5 0 1 0 3.1 0a1.5 1.5 0 1 0 -3.1 0ZM1090.7 855.4a1.5 1.5 0 1 0 3.1 0a1.5 1.5 0 1 0 -3.1 0ZM1092.8 857.9a1.3 1.3 0 1 0 2.6 0a1.3 1.3 0 1 0 -2.6 0ZM1083.6 845.2a1.9 1.9 0 1 0 3.7 0a1.9 1.9 0 1 0 -3.7 0ZM1079.5 840.5a1.3 1.3 0 1 0 2.6 0a1.3 1.3 0 1 0 -2.6 0ZM1099 865.3a1.3 1.3 0 1 0 2.6 0a1.3 1.3 0 1 0 -2.6 0ZM1146 874.9a1.3 1.3 0 1 0 2.6 0a1.3 1.3 0 1 0 -2.6 0ZM1236.9 854.8a1.5 1.5 0 1 0 3.1 0a1.5 1.5 0 1 0 -3.1 0ZM1245.5 853.2a1.3 1.3 0 1 0 2.6 0a1.3 1.3 0 1 0 -2.6 0ZM1248.9 878a1.3 1.3 0 1 0 2.6 0a1.3 1.3 0 1 0 -2.6 0ZM1249.6 879.5a1.3 1.3 0 1 0 2.6 0a1.3 1.3 0 1 0 -2.6 0ZM1254.8 876.8a1.3 1.3 0 1 0 2.6 0a1.3 1.3 0 1 0 -2.6 0ZM1257.6 883.9a1.3 1.3 0 1 0 2.6 0a1.3 1.3 0 1 0 -2.6 0ZM1259.4 883.6a1.3 1.3 0 1 0 2.6 0a1.3 1.3 0 1 0 -2.6 0ZM1276.8 877.7a1.5 1.5 0 1 0 3.1 0a1.5 1.5 0 1 0 -3.1 0ZM1271.2 870.3a1.3 1.3 0 1 0 2.6 0a1.3 1.3 0 1 0 -2.6 0Z" fill="#000"/>
<path d="M274.5 679.6 L267.7 682.4 L261.5 684.8 L252.2 686.7 L243 687.9 L233.7 688.9 L227.5 688.9" fill="none" stroke="#000" stroke-width="3.0" stroke-dasharray="5 3" stroke-linecap="round"/>
<path d="M1340.5 688.6 L1331.2 687.6 L1322 685.8 L1317.3 684.5" fill="none" stroke="#000" stroke-width="3.0" stroke-dasharray="5 3" stroke-linecap="round"/>
<path d="M1233.8 713 L1241.6 708.4 L1249.3 704.7 L1257 699.1 L1264.8 692.9" fill="none" stroke="#000" stroke-width="3.0" stroke-dasharray="5 3" stroke-linecap="round"/>
<path d="M1184.4 761 L1179.7 766.3 L1178.8 767.8" fill="none" stroke="#000" stroke-width="3.0" stroke-dasharray="5 3" stroke-linecap="round"/>
<rect x="217.5" y="987.9" width="79.6" height="149.3" fill="none" stroke="#000" stroke-width="3.6"/>
<rect x="1270.9" y="987.9" width="79.6" height="149.3" fill="none" stroke="#000" stroke-width="3.6"/>
<line x1="1337.6" y1="1032.7" x2="1337.6" y2="1092.4" stroke="#0000ff" stroke-width="3.4"/>
<line x1="412.2" y1="570" x2="412.2" y2="1127.2" stroke="#b0b0b0" stroke-width="2.2"/>
<line x1="597.7" y1="570" x2="597.7" y2="1127.2" stroke="#b0b0b0" stroke-width="2.2"/>
<line x1="783.2" y1="570" x2="783.2" y2="1127.2" stroke="#b0b0b0" stroke-width="2.2"/>
<line x1="968.7" y1="570" x2="968.7" y2="1127.2" stroke="#b0b0b0" stroke-width="2.2"/>
<line x1="1154.2" y1="570" x2="1154.2" y2="1127.2" stroke="#b0b0b0" stroke-width="2.2"/>
<line x1="227.5" y1="1096.2" x2="1340.5" y2="1096.2" stroke="#b0b0b0" stroke-width="2.2"/>
<line x1="227.5" y1="1034.3" x2="1340.5" y2="1034.3" stroke="#b0b0b0" stroke-width="2.2"/>
<line x1="227.5" y1="972.4" x2="1340.5" y2="972.4" stroke="#b0b0b0" stroke-width="2.2"/>
<line x1="227.5" y1="910.5" x2="1340.5" y2="910.5" stroke="#b0b0b0" stroke-width="2.2"/>
<line x1="227.5" y1="848.6" x2="1340.5" y2="848.6" stroke="#b0b0b0" stroke-width="2.2"/>
<line x1="227.5" y1="786.7" x2="1340.5" y2="786.7" stroke="#b0b0b0" stroke-width="2.2"/>
<line x1="227.5" y1="724.8" x2="1340.5" y2="724.8" stroke="#b0b0b0" stroke-width="2.2"/>
<line x1="227.5" y1="662.9" x2="1340.5" y2="662.9" stroke="#b0b0b0" stroke-width="2.2"/>
<line x1="227.5" y1="601" x2="1340.5" y2="601" stroke="#b0b0b0" stroke-width="2.2"/>
</g>
<rect x="227.5" y="570" width="1113" height="557.2" fill="none" stroke="#000" stroke-width="2.8"/>
<text x="227.5" y="550.8" font-size="27.78" text-anchor="middle">−180</text>
<text x="227.5" y="1163" font-size="27.78" text-anchor="middle">−180</text>
<text x="413" y="550.8" font-size="27.78" text-anchor="middle">−120</text>
<text x="413" y="1163" font-size="27.78" text-anchor="middle">−120</text>
<text x="598.5" y="550.8" font-size="27.78" text-anchor="middle">−60</text>
<text x="598.5" y="1163" font-size="27.78" text-anchor="middle">−60</text>
<text x="784" y="550.8" font-size="27.78" text-anchor="middle">0</text>
<text x="784" y="1163" font-size="27.78" text-anchor="middle">0</text>
<text x="969.5" y="550.8" font-size="27.78" text-anchor="middle">60</text>
<text x="969.5" y="1163" font-size="27.78" text-anchor="middle">60</text>
<text x="1155" y="550.8" font-size="27.78" text-anchor="middle">120</text>
<text x="1155" y="1163" font-size="27.78" text-anchor="middle">120</text>
<text x="1340.5" y="550.8" font-size="27.78" text-anchor="middle">180</text>
<text x="1340.5" y="1163" font-size="27.78" text-anchor="middle">180</text>
<text x="213.5" y="1106.6" font-size="27.78" text-anchor="end">−80</text>
<text x="1354.2" y="1106.6" font-size="27.78" text-anchor="start">−80</text>
<text x="213.5" y="1044.7" font-size="27.78" text-anchor="end">−60</text>
<text x="1354.2" y="1044.7" font-size="27.78" text-anchor="start">−60</text>
<text x="213.5" y="982.8" font-size="27.78" text-anchor="end">−40</text>
<text x="1354.2" y="982.8" font-size="27.78" text-anchor="start">−40</text>
<text x="213.5" y="920.9" font-size="27.78" text-anchor="end">−20</text>
<text x="1354.2" y="920.9" font-size="27.78" text-anchor="start">−20</text>
<text x="213.5" y="859" font-size="27.78" text-anchor="end">0</text>
<text x="1354.2" y="859" font-size="27.78" text-anchor="start">0</text>
<text x="213.5" y="797.1" font-size="27.78" text-anchor="end">20</text>
<text x="1354.2" y="797.1" font-size="27.78" text-anchor="start">20</text>
<text x="213.5" y="735.2" font-size="27.78" text-anchor="end">40</text>
<text x="1354.2" y="735.2" font-size="27.78" text-anchor="start">40</text>
<text x="213.5" y="673.3" font-size="27.78" text-anchor="end">60</text>
<text x="1354.2" y="673.3" font-size="27.78" text-anchor="start">60</text>
<text x="213.5" y="611.4" font-size="27.78" text-anchor="end">80</text>
<text x="1354.2" y="611.4" font-size="27.78" text-anchor="start">80</text>
<g clip-path="url(#mclip2)">
<rect x="93.5" y="1778.4" width="1381.2" height="172.6" fill="url(#ocean)"/>
<path d="M93.5 1904.2 L131.9 1905.7 L170.2 1905 L185.6 1903 L223.9 1904.2 L216.3 1912.6 L208.6 1918.4 L200.9 1924.1 L189.4 1929.5 L151.1 1932.6 L93.5 1929.5Z" fill="#e6eef9"/>
<path d="M1474.7 1904.2 L1444 1904.2 L1421 1904.2 L1409.5 1906.9 L1398 1914.5 L1405.7 1920.3 L1428.7 1926 L1474.7 1929.5Z" fill="#e6eef9"/>
<path d="M550.1 1890.8 L573.1 1898.4 L596.1 1904.2 L619.1 1905 L638.3 1904.2 L649.8 1905 L657.5 1908.8 L630.6 1914.5 L615.3 1918.4 L573.1 1922.2 L553.9 1924.9 L515.5 1914.5 L461.8 1905.7 L488.7 1901.1 L530.9 1897.3 L546.2 1893.5Z" fill="#e6eef9"/>
<path d="M550.1 1855.1 L553.9 1858.9 L553.1 1866.6 L552.8 1874.3 L553.9 1881.9 L552 1889.6 L550.1 1883.9 L548.1 1878.1 L542.4 1872.4 L536.6 1868.5 L544.3 1862.8 L546.2 1858.9Z" fill="#e6eef9"/>
<path d="M1048.8 1872.4 L1064.2 1871.6 L1060.3 1876.2 L1048.8 1883.1 L1043.1 1881.9 L1043.1 1877.3Z" fill="#e6eef9"/>
<path d="M707.4 1887.7 L726.6 1881.9 L745.7 1876.6 L764.9 1874.3 L784.1 1872.4 L803.3 1873.5 L822.5 1873.1 L822.5 1874.7 L784.1 1875 L753.4 1877.3 L730.4 1881.9 L707.4 1890.4Z" fill="#e6eef9"/>
<path d="M1148.6 1857 L1171.6 1857 L1167.8 1858.9 L1148.6 1860.9Z" fill="#e6eef9"/>
<path d="M1098.7 1860.9 L1121.7 1860.1 L1121.7 1862 L1098.7 1863.9Z" fill="#e6eef9"/>
<path d="M139.5 1354.2 L142.2 1353 L142.4 1350.4 L142.6 1347.8 L145.2 1346.6 L145.3 1343.9 L147.4 1342.8 L150 1344.1 L152.4 1344.5 L154 1340.8 L155.9 1338.6 L158.7 1341.2 L161.1 1340.1 L161.3 1336.4 L164.5 1336.2 L166.8 1335.6 L169.4 1336.1 L171.8 1335.3 L174.5 1336.5 L177 1336.6 L179.2 1335.1 L181.4 1333.5 L183.7 1332.4 L186.2 1332.5 L189 1329.6 L190.9 1334.9 L193.6 1332.9 L196.2 1332.3 L198.3 1335.7 L200.9 1334.3 L203.5 1334.1 L205.8 1336.9 L208.8 1333.1 L211.4 1332.7 L213.8 1334.8 L216.3 1335.8 L218.7 1335.8 L221.1 1335.4 L223.6 1334.8 L225.9 1336 L228.2 1338 L230.6 1337 L233 1337.2 L235.5 1337 L237.5 1339.7 L241.1 1336.2 L243.1 1338.9 L245.7 1339.1 L248.1 1340.6 L250.7 1340.7 L253.4 1340.3 L255.7 1342.5 L258.5 1341.2 L261.5 1344.1 L263.3 1338.3 L266.2 1340.1 L268.8 1341 L271.4 1341.1 L273.8 1339.3 L276 1336 L278.7 1337 L281.4 1337.6 L284 1337.2 L286.6 1337 L289.2 1337 L290.6 1335 L293 1335.5 L295.3 1336.3 L297.2 1338.1 L299.5 1339 L303.3 1335.3 L304.5 1339.3 L307.3 1340.4 L310.1 1341.5 L312.2 1338.1 L314.7 1338.1 L317.3 1338.9 L319.9 1338.1 L322.4 1338.8 L324.5 1341.6 L327.4 1340.5 L330.1 1340.3 L332.9 1339.4 L335.2 1341.2 L337.3 1341.7 L338.9 1343.2 L340.8 1343.8 L342.9 1344.3 L344.8 1344.8 L346.7 1345.4 L348.6 1345.8 L351 1349.2 L353.1 1344.2 L355.3 1343.8 L357.6 1344.1 L359.8 1345 L362.1 1345.4 L365 1344 L366.8 1348.5 L369.7 1347 L369.6 1344.9 L369.7 1342.7 L372.2 1341.2 L374.8 1342 L377.4 1342 L379.4 1344.8 L382.6 1343 L385.1 1344 L387.9 1343.4 L390.6 1343.7 L392.8 1345.8 L395 1346.3 L397.2 1347.8 L399.5 1345.6 L401.7 1346.4 L404 1343.4 L406.2 1345.8 L407.2 1343.1 L410 1343.1 L411.6 1345.3 L413.5 1345.8 L415.8 1344.3 L417.3 1345.9 L417.7 1348.1 L418.4 1345.5 L417.2 1341.8 L421.5 1341.2 L419.1 1340.8 L418.2 1338.8 L417.4 1336.7 L415.8 1335.5 L417.9 1334.3 L419 1332.3 L419.6 1330.1 L421.5 1330.3 L423.3 1332 L425.4 1330.9 L424.2 1334.5 L428.8 1334.7 L429.2 1337.4 L431.4 1337.8 L433 1339.3 L434.6 1340.3 L434.6 1342.9 L436.9 1343.1 L438.2 1341 L439.9 1339.6 L442.6 1340.4 L444 1341.6 L444.9 1343.3 L446.5 1344.3 L448.7 1344.6 L450.1 1346.6 L452.2 1347 L452.3 1344.6 L456.9 1344.5 L453.7 1340.5 L456.1 1339.3 L458.4 1340.1 L460.5 1338.7 L462.9 1340.4 L465.1 1339.9 L467.2 1336.9 L469.5 1338.5 L472.7 1339.8 L472.2 1343.1 L471.4 1345.3 L470.5 1347.4 L468.1 1348.5 L467.6 1350.8 L464.9 1347.8 L462.8 1351 L460.5 1353.1 L458 1351.6 L455.7 1348.9 L453.4 1348.1 L451.1 1351.6 L452.6 1352.6 L454.1 1353.5 L452.2 1355.1 L451.3 1357.9 L448.4 1358.5 L446.2 1359.7 L443.3 1358.8 L440.7 1358.7 L438.8 1361.2 L436.3 1361 L434.2 1361.7 L432.8 1363.7 L431.7 1366.2 L429.2 1366.1 L428.8 1368.6 L426.1 1368.8 L424.8 1370.3 L423.5 1371.9 L424.3 1374.3 L422.4 1375.8 L420.9 1377.4 L420.8 1379.6 L422.8 1380.8 L424.5 1383.6 L427.3 1380.7 L427.7 1382.9 L426.2 1385.7 L429.2 1387.2 L431.6 1385.3 L434 1388.8 L436.4 1388.5 L438.8 1387.2 L440.5 1388.7 L442.5 1388.8 L444.5 1389.5 L446.5 1389.9 L448.8 1390.7 L451.2 1391.2 L453.3 1392.5 L455.7 1393.1 L458 1393.7 L460.7 1392.6 L463.1 1394.6 L465.9 1391.9 L468.3 1394.5 L468.4 1396.6 L469.6 1398.5 L468.3 1400.7 L469.5 1402.6 L470.9 1404.1 L472.4 1405.7 L473.3 1407.6 L476.5 1406 L478.3 1409.1 L478.6 1406.7 L479.8 1405.2 L482.2 1404.5 L480 1402.2 L480.9 1399.4 L481 1396.8 L483.7 1396.5 L484.9 1394 L486.2 1391.8 L488.7 1391.1 L490 1389.3 L488.5 1387 L489.8 1385.3 L486.1 1386.9 L486.6 1382.5 L484.5 1381.7 L482.9 1380.3 L484.9 1379.4 L484.6 1376.6 L486.8 1375.7 L486.1 1373.6 L487.6 1370.9 L483.2 1369.6 L484.8 1366.9 L487.4 1366.5 L490 1368.5 L492.5 1370.4 L495.1 1364.2 L497.6 1367.6 L500.2 1366.9 L502.9 1367.3 L504.7 1369.6 L507.5 1369.8 L509.8 1371.1 L511.6 1372.2 L513.4 1373.5 L515.5 1371.9 L516.8 1374.3 L515.6 1377.3 L517.5 1379.6 L519.5 1380.1 L520.7 1382.7 L523.2 1382.2 L525 1378.7 L528.4 1381.3 L530.9 1380.3 L532.7 1379.2 L533.2 1376.9 L535.9 1376.7 L536.6 1374.6 L538 1376.5 L542.4 1375.9 L538.9 1382.2 L542.7 1382 L544.3 1383.8 L546.2 1385.3 L547.2 1387.5 L549.9 1388.4 L550.1 1391.1 L552.1 1392.8 L555.1 1392.6 L557.6 1393.3 L560.1 1394.1 L561.6 1396.8 L562.8 1398.7 L565.5 1399 L566.3 1401.3 L569.5 1401.2 L569.3 1404.5 L567.4 1406.4 L569.3 1408.3 L567 1411 L564.4 1407.9 L562.1 1409.5 L559.7 1409.1 L557.3 1409.9 L555 1410.8 L553.9 1413.3 L551.3 1414.6 L548.8 1413.5 L546.2 1413.3 L543.6 1414.6 L541.1 1412.4 L538.6 1412.9 L536.2 1414.2 L533.8 1413.2 L531.4 1412.9 L529 1413.3 L527.3 1415 L525.5 1416.4 L523.4 1417.5 L520.8 1417.9 L519.4 1419.8 L517.2 1420.9 L515.3 1422.4 L513.3 1423.7 L511.7 1425.6 L513.9 1425.6 L515.5 1423.9 L517.8 1424.1 L519.4 1422.5 L521.5 1420.7 L524.5 1420.8 L526.8 1419.6 L529 1417.9 L531.5 1419.3 L534.1 1419.6 L536.6 1417.9 L536.3 1420.3 L535.5 1422.5 L535.5 1424.1 L534.7 1425.6 L535.7 1427.1 L536.6 1428.6 L539 1429.3 L541.6 1428.2 L543.8 1429.9 L546.2 1430.2 L547.9 1431.7 L550.1 1432.1 L547.6 1432.6 L545.2 1433.3 L542.8 1434.2 L540.5 1435.2 L538.7 1436.4 L536.9 1437.5 L535 1438.6 L532.8 1439 L531.9 1437 L530.9 1435.2 L533.1 1434.3 L535 1433.1 L536.6 1431.3 L534.3 1432.3 L531.7 1431.6 L529.6 1433.4 L527 1433.2 L525.1 1434.2 L523.8 1436.3 L521.2 1435.9 L519.4 1437.1 L517.9 1438.8 L515 1438 L513.6 1440.2 L512.1 1442.2 L512.5 1444.8 L514.1 1445.2 L515.5 1445.9 L513.7 1446.5 L511.6 1446.4 L509.8 1447.1 L507.3 1446.4 L505.5 1448.7 L503.4 1449.6 L501 1449.4 L500.3 1451.2 L500.2 1453.2 L498.6 1454.5 L496.9 1455.8 L495.2 1457 L494.2 1459.5 L493.3 1462 L493.1 1463.7 L491.7 1464.7 L493.4 1466.9 L493.7 1469.7 L492.8 1471.9 L489.8 1471.6 L488.7 1473.5 L486.8 1474.6 L485.1 1476 L482.9 1476.2 L481 1477.7 L478.9 1479 L477 1480.6 L475.3 1482.3 L474.3 1484.2 L473.1 1485.9 L472.2 1487.7 L472.1 1490.2 L474.3 1491.9 L474.1 1494.5 L475.3 1496.5 L475.9 1499.1 L476.2 1501.7 L477.2 1504.2 L476.4 1506.8 L475.3 1509.2 L473.7 1507.5 L471.4 1506.9 L470.1 1505 L468.9 1503.1 L467.2 1501.6 L466.8 1499.2 L466.4 1497.4 L466.7 1495.6 L466.4 1493.8 L465.5 1491.9 L463.9 1491 L461.8 1490.8 L459.9 1490.6 L458.1 1491.8 L456.1 1491.5 L453.5 1490.8 L451 1489.7 L448.4 1489.2 L446.6 1490.1 L444.6 1489.8 L442.6 1490 L441.3 1491.8 L440.7 1493.8 L438.8 1493.2 L436.8 1494.7 L435 1493.5 L432.5 1493.4 L430.1 1493.2 L427.8 1492.3 L425.4 1491.9 L423.4 1492.3 L421.6 1493.5 L419.6 1493.8 L417.8 1495.3 L416.4 1497.5 L414.1 1498.2 L411.9 1499.2 L411.8 1501.9 L410.3 1504.2 L410 1506.9 L410 1509.4 L409.1 1511.9 L410 1514.5 L409.5 1517 L408.9 1519.5 L409.4 1521.6 L410 1523.5 L411.1 1525.3 L411.9 1527.2 L412.8 1529.4 L414.7 1530.9 L415.8 1533 L418 1533.4 L419.5 1535.3 L421.5 1536 L423.8 1534.6 L426.2 1534.2 L428.7 1534.5 L431.1 1534.5 L432.8 1533 L435 1533 L434.6 1530.4 L436.3 1528.4 L436.9 1526.1 L439.4 1525.7 L441.6 1524.6 L444.4 1525.2 L446.5 1523.4 L448.4 1523.6 L450.3 1524.1 L450.6 1526.7 L448.4 1528.6 L448.4 1531 L447.6 1533.1 L446.7 1535.1 L445.3 1536.8 L444.7 1539.4 L444.4 1542 L443.4 1544.5 L445.5 1545.1 L447.6 1545.9 L449.8 1545.3 L452 1545.7 L454.1 1545.2 L456.6 1546.2 L459.3 1545.8 L461.8 1546.4 L462.7 1548.2 L464.5 1549.1 L463.9 1551.6 L465 1554.3 L464.3 1556.7 L463 1559.2 L463 1561.7 L464.5 1563.4 L465.1 1565.4 L465.7 1567.5 L466.4 1569.3 L467.9 1570.3 L469.5 1571.3 L472.1 1571.4 L474.7 1572 L477.2 1570.5 L479.2 1570.2 L481 1569.4 L482.2 1571.7 L485.1 1571.5 L486.8 1573.2 L488 1571.3 L490.1 1570.1 L490.7 1567.6 L492.2 1565.9 L494.4 1564.8 L496 1563 L498.3 1563.6 L500.6 1562.4 L502.7 1560.9 L505.3 1560.4 L507.9 1559.8 L507.7 1562.3 L509.8 1563.6 L512 1562.8 L514.1 1561.8 L515.5 1559.8 L517.5 1561 L518.7 1563.3 L521 1564 L523.2 1564.8 L525.7 1565.4 L528.4 1564.3 L530.9 1565 L533.5 1564.5 L536 1565.6 L538.6 1565.6 L541.1 1564.9 L543.6 1564.7 L546.2 1564.8 L547.2 1566.6 L548.5 1568.1 L550.1 1569.4 L551.2 1570.8 L551.8 1572.8 L553.9 1573.2 L555.7 1574.9 L557.6 1576.4 L559.6 1577.9 L561.9 1578.9 L563.5 1580.9 L565.8 1580.9 L568 1581.6 L570.2 1582.4 L572.6 1582.1 L574.8 1582.7 L576.9 1583.6 L578.8 1584.9 L581.2 1585.4 L582.7 1587.2 L584.6 1588.6 L585.7 1590.6 L587.5 1592.2 L588.4 1594.3 L588.6 1596.7 L591 1597.8 L591.5 1600 L592.3 1602 L593.1 1603.9 L592.3 1605.8 L594.6 1606.8 L596.3 1608.7 L598 1610.4 L600.3 1610.5 L602.5 1611 L604.8 1611.2 L606.9 1612.3 L609.1 1613 L611.5 1612.7 L613.4 1614.4 L615.3 1616.2 L617.9 1615.7 L620.4 1617.1 L623 1616.1 L625.5 1616 L628.1 1617.5 L630.6 1616.6 L632.5 1617.9 L634.6 1619 L636.7 1620.1 L638 1622.2 L640.2 1623.1 L642.3 1624.3 L644.7 1624.9 L647.2 1625.1 L649.1 1626.9 L649.8 1629.4 L650.3 1632 L650.6 1634.6 L650.2 1636.6 L649.6 1638.6 L647.8 1640.1 L647.9 1642.3 L645.7 1643.6 L644.5 1645.7 L642.8 1647.4 L642.1 1649.9 L640.5 1651.1 L639.4 1653 L638.3 1654.7 L636.4 1655.7 L636.2 1658.4 L635.2 1660.8 L634.5 1663.4 L635.2 1665.7 L634.8 1668 L633.7 1670.3 L634.9 1672.6 L634.5 1674.9 L633.1 1676.6 L631.9 1678.5 L631.4 1680.8 L629.8 1682.5 L628.7 1684.4 L628.5 1686.5 L627.4 1688.3 L626.8 1690.2 L625 1691.5 L623.1 1692.3 L621.3 1693.6 L619.1 1694 L617.2 1694.6 L614.9 1694.3 L613.7 1696.9 L611.5 1696.7 L609.4 1697.4 L607.3 1698 L605.7 1699.6 L603.8 1700.5 L602.1 1702.5 L599.5 1703.4 L598 1705.5 L597.6 1707.9 L597.5 1710.3 L597.5 1712.7 L597.3 1715.1 L596.4 1717.4 L595.3 1719.5 L592.9 1720.7 L591.8 1722.8 L590.4 1724.7 L588 1725.3 L586.6 1726.7 L586.3 1729.3 L584.6 1730.5 L583.5 1732.2 L582.6 1734.2 L580.5 1735 L578.8 1736.2 L577.2 1737.8 L575.3 1738.9 L573.1 1739.3 L570.7 1737.9 L567.8 1739.7 L565.4 1738.1 L563.6 1737.4 L561.9 1736.8 L560 1736.2 L560.3 1738.6 L562.3 1740.1 L562.7 1742.4 L564.6 1743.9 L563.4 1746.3 L563.8 1749.1 L562.7 1751.6 L560.6 1752.9 L558.3 1754 L555.8 1754.6 L553.4 1755.1 L551.1 1755.5 L548.7 1756.1 L546.2 1755.4 L545.7 1757.7 L545.3 1760 L545.1 1762.3 L542.5 1763 L539.9 1762.3 L537.3 1762.9 L534.7 1763.1 L536.3 1764.9 L537.3 1767.3 L539.3 1768.8 L536.8 1769.3 L534.8 1770.3 L533.6 1772.6 L533.3 1774.6 L533.3 1776.5 L532.8 1778.4 L531.2 1780 L529.1 1780.6 L527.2 1781.6 L525.1 1782.2 L526.8 1783.5 L528.4 1784.7 L529.1 1786.8 L530.9 1788 L531.4 1791.4 L528.2 1792 L527.3 1794.3 L525.1 1795.7 L523.5 1797.4 L521.6 1798.7 L519.4 1799.5 L520.3 1801.7 L522.7 1803.5 L521.3 1806.4 L520.2 1808.2 L522.1 1809.1 L524.4 1810.1 L525 1812.7 L527 1814.1 L529.2 1815.3 L531.6 1815.3 L534 1815.6 L531.5 1816.7 L529 1817.5 L526.5 1817.4 L524.1 1817.2 L521.7 1818.2 L519.4 1818.7 L516.1 1820 L515 1815.8 L512.2 1815.8 L509.8 1814.8 L507 1814.4 L506 1811.7 L504 1810.2 L501.4 1809.4 L501 1806 L498.3 1805.2 L497.6 1803.2 L496.2 1801.5 L495.7 1799.4 L494.4 1797.6 L494.8 1795 L492.9 1792.5 L494.4 1789.9 L495.7 1788.1 L496.6 1786.2 L497 1784 L498.3 1782.2 L499.1 1780.3 L500.9 1778.8 L501.1 1776.5 L502.1 1774.6 L500.8 1772.2 L500.6 1769.5 L500.2 1766.9 L501.2 1764.6 L500.5 1762.1 L501 1759.7 L501.3 1757.3 L501.1 1755.1 L501.8 1752.9 L502.6 1750.8 L502.1 1748.5 L502.5 1746 L504.7 1744.4 L505.2 1742 L506.8 1739.8 L507.8 1737.3 L509.3 1735.1 L509.8 1732.4 L509.9 1730.1 L509.4 1727.8 L509.6 1725.5 L509.4 1723.2 L509.8 1720.9 L511.2 1718.7 L511.7 1716.5 L510.4 1713.9 L510.8 1711.6 L511.7 1709.4 L512.3 1707.1 L512.6 1704.8 L512.9 1702.5 L513.3 1700.2 L513.6 1697.9 L513.8 1695.6 L513.8 1693.2 L514.6 1691 L515.8 1688.8 L514.8 1686.4 L515.5 1683.7 L514.3 1681.2 L514.5 1678.6 L514.4 1676 L512.2 1675.5 L510.7 1674.1 L509.9 1671.7 L507.9 1671 L505.5 1669.9 L503.6 1667.9 L501.1 1666.8 L498.1 1666.8 L496.4 1664.5 L494.4 1662.9 L492.7 1660.9 L491.4 1658.7 L489.8 1656.7 L489.6 1653.9 L487.9 1651.8 L486.9 1649.9 L485.9 1648 L484.6 1646.3 L484.2 1644 L482.9 1642.3 L481.4 1640.2 L480.7 1637.7 L479.4 1635.5 L477.9 1633.4 L475.7 1632.4 L475 1629.7 L472.6 1628.8 L472.9 1626.6 L471.3 1624.5 L472.2 1622.3 L474.3 1621.9 L475.2 1620.2 L476 1618.5 L477.7 1617.4 L477.2 1615.4 L476.4 1613.2 L473.6 1612.3 L473.3 1609.7 L475.3 1608.1 L476.4 1605.8 L476.8 1603.9 L477.2 1602 L479.4 1600.8 L481.8 1600.1 L482.5 1598 L483.4 1596.1 L484.9 1594.4 L485.3 1592.2 L486.8 1590.5 L486.8 1588.1 L487 1585.7 L486.4 1583.2 L487.5 1580.9 L485.9 1579.5 L485.4 1577.3 L483.7 1575.9 L482.3 1574.4 L479.9 1574.3 L479.1 1572.1 L477.7 1573.5 L476 1574.4 L475.6 1576.1 L475.3 1577.8 L473.5 1576.6 L471.4 1576.3 L469.7 1575 L467.6 1574.8 L465.7 1574 L464.6 1572.4 L463 1571.3 L461 1570.4 L459.6 1568.8 L458 1567.5 L456.8 1565.2 L454.9 1563.6 L452.5 1562.4 L450.9 1560.4 L450.3 1557.7 L448.4 1556 L446.7 1554.4 L444.6 1555.2 L442.4 1555.4 L440.8 1553.8 L438.8 1553.3 L437 1552.1 L434.8 1553.5 L433 1552.1 L431.2 1551.1 L429.9 1549.6 L429 1547.5 L427.3 1546.4 L425.5 1545.3 L423.7 1544.1 L421.5 1543.7 L419.7 1544.6 L417.8 1545.3 L415.8 1545.6 L413.1 1545.4 L410.6 1544.5 L408.1 1543.7 L406.3 1542.7 L404.3 1542 L402.1 1542.1 L400.4 1540.6 L398.6 1539.4 L396.8 1538.4 L394.5 1538.1 L392.8 1536.8 L390.6 1536.4 L389.3 1534.1 L386.7 1534.6 L385.1 1533 L383.4 1531.1 L381.4 1529.7 L379.3 1528.4 L380.9 1526 L380.1 1523.4 L378.3 1521.9 L378.6 1519.4 L377.4 1517.6 L376.2 1515.8 L374.8 1514.1 L372.6 1513.2 L370.4 1512.4 L369.7 1510 L368.4 1508.4 L366.4 1507.5 L364.8 1506.3 L364 1504.2 L363.1 1502.5 L362 1501.1 L360.2 1500.4 L358.4 1499.3 L357.6 1497.2 L355.6 1496.3 L354.4 1494.6 L352.8 1493 L352.6 1490.7 L352.4 1488.4 L350.6 1486.9 L348.5 1485.7 L346.3 1485 L344 1484.3 L344 1486.5 L343.8 1488.7 L344.8 1490.8 L346.6 1491.9 L347.5 1493.8 L349.3 1495 L350.6 1496.5 L351.4 1498.7 L353.1 1500.4 L354.4 1502.3 L356.4 1503.7 L357.1 1506 L358.2 1508 L360.2 1509.9 L360.2 1512.6 L361.1 1514.3 L361.8 1516.3 L364 1516.9 L362.1 1518 L360.1 1517 L358.3 1515.8 L358 1513.2 L356.3 1511.9 L354.9 1510.2 L355 1507.8 L353.6 1506.1 L352 1504.8 L349.5 1504.8 L348.7 1502.2 L346.7 1501.5 L344.6 1499.5 L344.8 1496.5 L343.1 1495.3 L341.8 1493.8 L341 1491.9 L339.6 1489.7 L338.9 1487 L337.1 1485 L334.7 1483.3 L334.4 1480.4 L331.9 1479.6 L331.5 1476.7 L329.5 1475.4 L326.9 1474.8 L324.4 1473.9 L321.8 1473.5 L320.1 1471.8 L318.2 1470.4 L317.9 1467.8 L316.8 1465.8 L316.4 1463.2 L314.1 1462 L312.7 1460 L311.9 1457.5 L309.5 1456.3 L309.2 1454.1 L308.3 1452.3 L307.2 1450.5 L306.8 1448.6 L307.2 1446.7 L307.6 1444.8 L307.7 1442.8 L307.6 1440.9 L307.2 1439 L307.9 1436.7 L308.1 1434.3 L307.8 1431.8 L308.4 1429.4 L307.9 1427.2 L307.5 1424.9 L305.5 1423.1 L305.7 1420.6 L308 1421.8 L310 1420 L312.2 1419.8 L314.4 1421.1 L314.1 1423.7 L313.2 1421.8 L314.6 1419.6 L313 1417.9 L309.9 1418.1 L309.9 1413.2 L306.4 1414.1 L304.3 1412.4 L300.8 1414.3 L299.7 1410.1 L296.8 1410.2 L294.7 1408.9 L295.9 1405.3 L293 1404.5 L292.6 1401.8 L289.9 1401.4 L288.1 1400.1 L286.4 1398.8 L285.3 1396.8 L284.5 1393.9 L281.3 1393.8 L279.6 1391.8 L276.9 1391.1 L277.3 1386.7 L273 1388 L271.9 1385.3 L268.9 1385.7 L267.5 1383.7 L265.3 1382.8 L264.2 1380.3 L261.7 1379.8 L259.1 1379.8 L256.6 1380.3 L255.6 1377.4 L253.2 1377.5 L250.9 1377.2 L248.9 1376.5 L246.5 1375.9 L243.9 1377.9 L241.7 1376.3 L239.3 1375.7 L236.7 1378.3 L234.8 1371.9 L232.2 1373.7 L229.7 1375 L226.8 1376.6 L225.8 1373.6 L224.2 1371.9 L222 1371.9 L219.7 1371.4 L218.3 1373.5 L216.8 1375.5 L214.4 1374.6 L214 1378.6 L210.5 1376.5 L207.9 1376.9 L205.6 1378.5 L202.8 1378.4 L204.8 1376.5 L202 1374.6 L202.8 1372.7 L204.1 1370 L205.9 1368.9 L208.6 1370.7 L206.1 1370.8 L203.6 1370.7 L201.3 1371.6 L199 1372.7 L199.3 1375.8 L195.8 1375.2 L193.5 1375.8 L193.3 1378.4 L192 1379.9 L193.3 1381.5 L190.8 1382.5 L189 1384.8 L186.7 1386.2 L183.7 1386.1 L181.8 1387.2 L179.9 1388.4 L178.2 1389.8 L176 1390.3 L173.3 1390.5 L170.6 1390.3 L168.4 1391.7 L166.4 1393.7 L164 1394.3 L161.8 1395.6 L159.3 1395.9 L156.8 1396.1 L154.4 1396.8 L151.8 1396.4 L153.9 1394.9 L157.1 1396.3 L158.7 1393.7 L159.6 1390.6 L162.5 1391.9 L164.5 1391.1 L167.4 1391.6 L168.8 1389.6 L169.5 1386.4 L172.7 1387.3 L174.1 1385.3 L176.9 1384.9 L178.4 1382.9 L179.8 1380.7 L177.9 1381.8 L176 1381.6 L174.1 1380.7 L172.2 1379.3 L170.1 1382.8 L168.3 1380.3 L166.4 1380.4 L164.5 1381 L162.6 1380.7 L164.1 1378.6 L162.6 1376.5 L160 1376.3 L157.6 1375.8 L154.8 1376.5 L153 1373.8 L152.1 1372.1 L148.7 1373 L149.1 1370 L148.5 1367 L151.1 1365.4 L153.3 1363.5 L155.8 1362.4 L158.7 1363.5 L162.1 1366.2 L163.8 1362 L166.4 1361.5 L166.1 1360 L166.4 1358.5 L163.8 1358.1 L161.3 1357.1 L158.7 1358.5 L156.4 1357.5 L154.1 1358.9 L151.8 1360.9 L149.5 1356.8 L147.2 1358.5 L144.6 1358.6 L143.1 1356.9 L140.9 1356.4ZM1446.7 1761.1 L1448.4 1762.4 L1450.8 1762.5 L1452.5 1763.8 L1451.5 1765.2 L1451.7 1766.9 L1450.3 1768.9 L1448.4 1770.5 L1447.1 1772.6 L1445.2 1773.7 L1443.3 1774.7 L1441.3 1775.7 L1439.9 1777.5 L1439.9 1779.7 L1439.4 1781.9 L1436.9 1782.3 L1435.2 1784.6 L1432.5 1784.5 L1430.4 1784.6 L1428.6 1783.6 L1426.8 1783 L1424.4 1783.3 L1422.9 1781.5 L1424.2 1779.3 L1426.9 1778.6 L1429 1777.2 L1429.8 1774.6 L1432.2 1774 L1433.7 1771.7 L1436.4 1771.8 L1438.3 1770.3 L1440.4 1768.7 L1442 1766.6 L1444 1765 L1444.6 1762.6ZM549.3 1803.3 L551.9 1803 L554.5 1802 L557.1 1802.3 L559.7 1800.9 L562.3 1803.3 L562.3 1806 L559.7 1806.4 L557.1 1806.5 L554.5 1807 L552 1806 L552.1 1803.2ZM638.3 1812.9 L640.9 1812.9 L643.4 1813.7 L646 1814.1 L646.8 1816 L645 1813.9 L643 1812.6 L640.2 1814.4ZM1047.7 1792.6 L1050 1793 L1052.6 1791.6 L1054.6 1793.7 L1053.5 1794.8 L1053.4 1796.4 L1051.6 1796.5 L1049.8 1797.1 L1048.1 1796 L1045.4 1794.6ZM93.5 1929.5 L95.9 1930.1 L98.3 1928.6 L100.7 1930.5 L103.1 1929.6 L105.5 1929.2 L107.8 1931.6 L110.3 1929.5 L112.7 1930.3 L115.2 1929.2 L117.5 1930.3 L119.8 1931.6 L122.4 1930 L124.6 1931.6 L127.1 1931.1 L129.5 1931.4 L131.9 1931.8 L134.3 1931 L136.7 1932.2 L139 1933.4 L141.5 1931.7 L143.9 1932 L146.2 1933.1 L148.7 1932.2 L151.1 1932.6 L153.5 1933 L155.9 1933.3 L158.3 1932.6 L160.7 1933.9 L163 1931.9 L165.4 1932.1 L167.8 1930.4 L170.2 1931.8 L172.4 1929.8 L175 1931.2 L177.6 1932.6 L179.7 1929.9 L182.1 1929.4 L184.6 1929.7 L187.2 1930.9 L189.4 1929.5 L192.1 1929.2 L193.7 1926.7 L196.3 1926.3 L198.4 1924.6 L200.9 1924.1 L203.4 1923.5 L205.1 1921.7 L206.3 1919.3 L208.6 1918.4 L211.4 1918.1 L212.8 1915.9 L215.2 1915.2 L216.3 1912.6 L217.7 1911 L219.2 1909.4 L219.9 1907.1 L222 1906.1 L219.7 1906.3 L217.6 1905 L215.1 1905.9 L213 1904.8 L210.5 1905.5 L208.6 1903.4 L206 1903 L203.5 1904.7 L200.9 1904 L198.4 1902.2 L195.8 1902.6 L193.3 1903.3 L190.7 1903.2 L188.1 1902.9 L185.6 1903.8 L183 1901.7 L180.5 1903.8 L177.9 1903.4 L180.5 1903.8 L183.1 1903.4 L185.5 1902.3 L188 1901 L190.6 1901.6 L193.3 1901.9 L195.9 1903.4 L198.3 1900.7 L200.9 1901 L203.5 1901.7 L206 1901.3 L208.6 1901.1 L210.5 1900.3 L212.5 1899.6 L214.7 1899.7 L216.3 1898.1 L218.4 1896.7 L220.9 1897.7 L223.1 1896.5 L225.5 1896.9 L227.8 1896.1 L230.3 1896.5 L232.6 1895.6 L234.9 1894.9 L237.3 1894.3 L239.6 1893.4 L242.4 1895.8 L244.6 1894 L247 1893.5 L249.3 1892.8 L251.6 1891.6 L254 1891.2 L256.7 1893.5 L258.8 1891 L261.4 1892.7 L263.6 1890.1 L266.2 1891.5 L268.5 1891.3 L271 1891.6 L273.4 1892.8 L275.8 1891.1 L278.2 1891.4 L280.6 1891.3 L282.9 1890.5 L285.3 1890.4 L287.8 1890.5 L289.9 1889.3 L292.3 1888.8 L294.5 1888.2 L296.8 1887.7 L299.4 1887.3 L301.8 1889.7 L304.5 1887.9 L307.2 1886.8 L309.7 1887.4 L312.2 1888.8 L314.5 1889.2 L316.7 1890.6 L319.1 1889.3 L321.5 1888.6 L323.7 1889.6 L326.1 1888.3 L328.5 1889.2 L330.9 1888 L333.3 1889.1 L335.7 1889.9 L338.1 1889.7 L340.5 1889.9 L342.9 1889.6 L345.1 1891.6 L347.6 1891.2 L350.2 1889.5 L352.6 1890 L355 1890.3 L357.2 1891.7 L359.6 1892.6 L362.1 1891.9 L364.5 1892.2 L366.9 1890.9 L369.2 1892.9 L371.6 1892.6 L374 1892.9 L376.4 1892.7 L378.8 1892.9 L381.3 1892.7 L383.4 1894.5 L385.9 1891.9 L388.2 1892.8 L390.4 1894.3 L392.8 1893.5 L395.4 1893.6 L395.8 1889.8 L398.1 1889.3 L400.4 1888.8 L403.2 1889.9 L405 1887.4 L407.3 1886.9 L409.6 1886.1 L411.9 1885.8 L414.5 1884.8 L417.1 1885.9 L419.6 1885.1 L422.2 1885.1 L424.7 1885.2 L427.3 1885.8 L429.6 1885.8 L431.9 1884.8 L434.1 1883.8 L436.5 1885.2 L438.8 1885 L441.1 1886.3 L443.6 1885 L446.1 1884.5 L448.4 1885.7 L450.8 1885.8 L453.2 1886.3 L455.6 1886.3 L458 1886.5 L460.4 1886.9 L462.7 1888.3 L465.2 1886 L467.6 1887.7 L470 1887.5 L472.4 1887.1 L474.7 1888.4 L477.2 1886.9 L479.7 1886.4 L482.3 1885.8 L484.9 1885.5 L487.3 1884.2 L490.1 1884.8 L492.5 1883.9 L495.1 1884.4 L497.6 1883.7 L500.2 1884 L502.7 1885.6 L505.3 1882.5 L507.9 1884.2 L510 1882.8 L512.4 1881.7 L514.5 1880.1 L517.9 1880.8 L519.4 1878.1 L520 1876 L521.5 1874.4 L522.8 1872.6 L523.2 1870.4 L524.1 1868.6 L525.8 1867.4 L527 1865.8 L527.5 1863.6 L529.6 1862.5 L530.9 1860.9 L532.1 1858.5 L534.1 1857.4 L536.5 1856.9 L538.6 1855.9 L540.6 1854.4 L543.8 1855.5 L545.2 1852.5 L548.4 1853.8 L550.1 1851.3 L552.2 1850.2 L554.6 1850.1 L556.7 1848.5 L559 1848.1 L561.6 1848.6 L563.4 1849.5 L565.4 1849.7 L563.8 1851.3 L561.9 1852.3 L559.7 1852.4 L557.7 1852.9 L556 1854.3 L554 1854.8 L552 1855.1 L549.1 1855 L548.6 1858.3 L546.2 1858.9 L546.2 1861.3 L544.3 1862.8 L542 1863.6 L540.1 1865.2 L539.2 1867.9 L536.6 1868.5 L538.7 1869.6 L541 1870.2 L542.4 1872.4 L543.4 1874.2 L544.2 1876.3 L546.8 1876.5 L548.1 1878.1 L548.8 1880 L549.1 1882.1 L550.1 1883.9 L549.4 1886.2 L552.7 1887.3 L552 1889.6 L550.4 1891.4 L548.6 1892.8 L546.2 1893.5 L543.3 1892.7 L540.9 1894 L538.5 1895.3 L536.2 1896.9 L533.5 1896.7 L530.9 1897.3 L528.2 1896.6 L525.9 1898.7 L523.1 1897.5 L520.6 1898.2 L518.2 1899.6 L515.5 1899 L513 1899.5 L510.4 1899.9 L507.9 1900 L505.5 1901.4 L503.2 1901.9 L500.7 1900.7 L498.3 1900.6 L495.9 1900.4 L493.5 1901.5 L491 1900 L488.7 1901.1 L486.3 1901.2 L484.1 1901.8 L482 1903.8 L479.6 1903.2 L477.2 1903 L474.5 1903 L472 1903.6 L469.3 1903.4 L466.8 1903.7 L464.5 1906 L461.8 1905.7 L464.4 1906.3 L466.7 1907.8 L469.5 1907.4 L472.2 1907.1 L474.8 1907.2 L477.2 1908.8 L479.7 1909.2 L482.1 1910.6 L484.7 1911.1 L487.6 1910 L489.7 1912.4 L492.5 1911.9 L495 1912.6 L497.6 1912.7 L500.3 1911.5 L502.7 1913.1 L505.3 1913.6 L508.1 1912 L510.5 1913.6 L513 1913.7 L515.5 1914.5 L518.3 1913.4 L520.2 1916.3 L523.1 1914.3 L525.1 1916.4 L527.6 1916.7 L529.8 1918.3 L532.4 1917.4 L534.7 1918.4 L536.7 1920.4 L539.7 1919.3 L542.2 1920.1 L544.8 1920.3 L546.7 1922.4 L548.7 1924.4 L551.3 1924.8 L553.9 1924.9 L556.2 1924.1 L558.8 1924.7 L561.2 1924.8 L563.6 1924.2 L566.1 1924.4 L568.4 1923.7 L570.7 1922.6 L573.1 1922.2 L575.5 1921.9 L578 1922.5 L580.1 1920.1 L582.6 1920.5 L585 1920.3 L587.6 1920.9 L589.7 1918.5 L592.3 1919.5 L594.8 1919.6 L597.4 1920.4 L600 1920.6 L602.6 1920.3 L605.1 1920 L607.6 1918.6 L610.2 1919.6 L612.7 1918.6 L615.3 1918.4 L618 1918.3 L620 1915.5 L622.9 1916.3 L625.4 1915.2 L628.3 1916 L630.6 1914.5 L633.4 1915.3 L635.7 1913.1 L638.4 1913.6 L640.9 1913.1 L643.1 1910.6 L646 1911.9 L648.2 1910.8 L650.4 1909.9 L653 1910.3 L655.3 1909.8 L657.5 1908.8 L655.7 1907.5 L654.3 1905.5 L652.2 1904.9 L649.8 1905 L652.3 1904.8 L654.8 1904.3 L656.9 1902.6 L659.6 1903.2 L661.6 1900.9 L664.5 1902.4 L666.7 1901.1 L669 1900 L671.3 1899.2 L673.8 1899.3 L676.3 1899.1 L678.6 1898.2 L681.1 1898.4 L683.2 1896.1 L686 1898.2 L688.2 1896.5 L690.3 1895 L693.3 1896.1 L695.8 1895.6 L697.3 1891.8 L699.8 1891.5 L702.4 1891.3 L705.4 1892.5 L707.4 1890.4 L709.5 1889.3 L712.1 1889.8 L714.3 1889.1 L716.7 1888.9 L718.9 1887.7 L721.3 1886.7 L723.4 1885.1 L726.1 1884.8 L728.4 1883.7 L730.4 1881.9 L732.2 1880.9 L733.8 1879.3 L736.5 1880.5 L738.1 1878.9 L740.6 1878.4 L743.1 1877.4 L745.8 1879 L748.4 1879 L751 1879 L753.4 1877.3 L756 1877.5 L758.6 1877.7 L761.1 1876.4 L763.7 1877.7 L766.3 1877.1 L768.8 1876.2 L771.3 1876.2 L773.9 1876.1 L776.5 1876.3 L779 1876 L781.5 1874.6 L784.1 1875 L786.5 1875.8 L788.9 1874.4 L791.3 1874.9 L793.7 1875.3 L796.1 1873.6 L798.5 1874.3 L800.9 1874.3 L803.3 1875 L805.7 1875 L808.1 1874.6 L810.5 1876.6 L812.9 1874.6 L815.3 1874.7 L817.7 1874.7 L820.1 1874.9 L822.5 1874.7 L824.9 1874.4 L827.3 1874.8 L829.7 1874.6 L832.1 1875 L834.5 1874.8 L836.9 1874.7 L839.2 1873.6 L841.7 1873.9 L844.1 1874 L846.5 1873.2 L848.8 1875.6 L851.3 1874 L853.6 1874.4 L856.1 1873.4 L858.5 1873.6 L860.8 1874.7 L863.2 1875 L865.6 1874.5 L868.1 1873.6 L870.4 1876.2 L872.8 1875 L875.3 1874.6 L877.6 1875.7 L880 1875.4 L882.6 1875.9 L885.1 1876.2 L887.2 1874.2 L889.6 1873.8 L892.2 1874.1 L894.6 1873.8 L896.7 1872 L899.2 1872 L901.6 1872.2 L903.7 1870.6 L906.1 1870.3 L908.4 1870 L910.7 1869.7 L913.6 1868.5 L915.8 1871.1 L918.4 1871.2 L920.4 1873.3 L922.8 1873.2 L925.3 1872.3 L927.3 1874.7 L929.9 1873.5 L932.1 1872.9 L933.9 1871.4 L936 1870.7 L937.6 1868.9 L940.1 1869.4 L942.4 1867.9 L944.8 1867.7 L947 1866.5 L949.3 1865.1 L952 1866.4 L954.2 1865.2 L956.8 1865.5 L959.3 1865.5 L961.7 1865.1 L963.7 1862.7 L966.6 1864.3 L968.7 1862.2 L971.4 1863 L973.5 1861.3 L975.9 1860.9 L978.2 1860.3 L980.6 1860.3 L983 1860.2 L985 1858.4 L987.5 1858.6 L990.2 1858.2 L992.5 1860.1 L995.1 1860 L997.8 1860.2 L1000.4 1860.2 L1002.8 1861.6 L1004.8 1863.6 L1007.5 1862.1 L1009.8 1862.7 L1012.2 1862.6 L1014.3 1863.9 L1016.7 1863.8 L1019 1865.1 L1021.5 1864 L1023.9 1864.4 L1026.2 1866.6 L1028.6 1866.7 L1031.1 1865.3 L1033.5 1865.5 L1035.8 1865.2 L1038.1 1865.7 L1040.4 1866.5 L1042.6 1867.3 L1045 1866.6 L1044.9 1869.5 L1048.1 1870.1 L1048.8 1872.4 L1046.7 1873.7 L1044.8 1875.4 L1043.1 1877.3 L1043.8 1879.6 L1043.1 1881.9 L1045.2 1881.3 L1046.9 1882.7 L1048.8 1883.1 L1051 1882.7 L1053.1 1881.9 L1054.8 1880.6 L1056.5 1879.3 L1058.6 1878.3 L1060.6 1877.2 L1061.9 1875 L1064.2 1874.3 L1066.9 1874.3 L1069.2 1872.7 L1071.9 1872.4 L1073.7 1870.4 L1076 1869.4 L1078.8 1869.8 L1081.6 1870.1 L1083.4 1867.8 L1085.8 1866.7 L1088.3 1865.8 L1091 1865.8 L1093.3 1864.7 L1095.5 1863.3 L1098.5 1866 L1100.7 1864.4 L1103 1863.7 L1105.4 1863.3 L1107.9 1863.2 L1110.2 1862.4 L1112.6 1861.5 L1115 1862.1 L1117.4 1860.6 L1119.8 1863.7 L1122.2 1862.7 L1124.6 1862.4 L1127 1863 L1129.4 1862 L1131.8 1862.3 L1134.2 1862.1 L1136.6 1862.1 L1139 1861.9 L1141.5 1862.5 L1143.8 1861.4 L1146.2 1861.8 L1148.6 1860.9 L1151 1860.4 L1153.3 1859.3 L1155.8 1859.9 L1158.1 1858.8 L1160.7 1861.2 L1163 1859.4 L1165.4 1859.6 L1167.8 1858.9 L1170.2 1859.1 L1172.5 1860.2 L1175 1859.1 L1177.4 1859.9 L1179.7 1860.4 L1182.1 1860.5 L1184.6 1860.6 L1187 1860.9 L1189.3 1860.4 L1191.8 1861.2 L1194.2 1860.8 L1196.5 1860.1 L1199 1860.3 L1201.3 1859.3 L1203.8 1861 L1206.1 1859.7 L1208.5 1860.8 L1211 1859.7 L1213.3 1860.9 L1215.8 1859.8 L1218.2 1859.9 L1220.5 1860.3 L1222.9 1860.6 L1225.3 1860.9 L1227.7 1861.9 L1230.1 1860.9 L1232.5 1860.9 L1234.9 1861.1 L1237.3 1862.3 L1239.7 1862.4 L1242.1 1861.6 L1244.5 1862 L1246.9 1862.4 L1249.3 1861.5 L1251.8 1862.5 L1254.1 1861.4 L1256.6 1863 L1258.9 1860.8 L1261.2 1859.7 L1263.7 1860.9 L1266.1 1861.6 L1268.5 1861.6 L1270.9 1860.5 L1273.2 1858.8 L1275.7 1860.3 L1278.1 1860.2 L1280.5 1860 L1282.9 1859.7 L1285.3 1859.3 L1287.7 1859.6 L1290 1858.6 L1292.5 1859.6 L1294.9 1860.5 L1297.2 1858.8 L1299.6 1857.7 L1302.1 1858.9 L1304.6 1858.3 L1306.9 1859.5 L1309 1861.4 L1311.6 1860.3 L1313.9 1861.7 L1316.3 1861.7 L1318.6 1862.7 L1321.2 1861.6 L1323.6 1861.9 L1326.1 1861.5 L1328.5 1861.3 L1330.9 1862.2 L1333.3 1862.6 L1335.6 1863.3 L1337.9 1864.5 L1340.4 1863.5 L1342.7 1864.8 L1345.5 1863.8 L1347.7 1865 L1350.2 1865.4 L1352.5 1866.4 L1354.7 1867.8 L1357.5 1866.9 L1359.6 1868.5 L1362.2 1867.9 L1364.3 1870.1 L1366.8 1869.7 L1369.4 1868.6 L1371.5 1871.2 L1374.2 1869.8 L1376.5 1870.6 L1378.8 1871.6 L1381.3 1871.6 L1383.3 1874.2 L1385.9 1873.2 L1388.3 1873.8 L1390.6 1874.9 L1393 1875.6 L1395.4 1875.8 L1398 1875.4 L1400.3 1876.5 L1402.8 1875.8 L1405.2 1875.9 L1407.5 1877.7 L1410 1875.4 L1412.4 1876.5 L1414.7 1877.6 L1417.2 1877 L1419.4 1878.2 L1421.9 1878 L1424.3 1878.3 L1426.8 1878.3 L1429.2 1878.3 L1431.7 1878.5 L1434.1 1878.6 L1436.3 1880 L1437.7 1881.8 L1438.3 1883.9 L1436.2 1885.7 L1433.6 1886.2 L1431.2 1887.1 L1428.7 1887.7 L1431.1 1888.8 L1434 1887.3 L1436.3 1888.8 L1433.8 1889.6 L1431.6 1891.8 L1429 1892.2 L1425.9 1890.6 L1423.8 1893.1 L1421 1892.7 L1418.4 1893.2 L1416.1 1894.4 L1413.9 1895.9 L1411.4 1896.5 L1413.9 1897.6 L1416.3 1898.8 L1419.1 1898.4 L1416.7 1899.3 L1414.3 1900.2 L1411.6 1900.3 L1409.5 1901.9 L1411.8 1901.5 L1413.8 1904 L1416.2 1902.4 L1418.5 1902.7 L1420.7 1903.1 L1422.9 1903.4 L1420.5 1903.9 L1418.4 1905.9 L1415.7 1905.4 L1413.3 1906.1 L1411.2 1907.5 L1408.8 1907.7 L1406.1 1906.1 L1404.2 1908.4 L1401.8 1908.8 L1400.1 1910.4 L1399.3 1912.7 L1398 1914.5 L1399.6 1916.3 L1402.1 1917 L1403.2 1919.6 L1405.7 1920.3 L1408.1 1921.2 L1410.5 1922.5 L1413.4 1922 L1415.7 1923.4 L1418.2 1924.6 L1420.9 1924.4 L1423.6 1924.7 L1425.9 1926.5 L1428.7 1926 L1431.1 1926.6 L1433.6 1926.3 L1436.1 1926 L1438.4 1927.5 L1440.9 1926.9 L1443.3 1927.4 L1445.9 1926.3 L1448.3 1927.3 L1450.5 1929.6 L1453.1 1927.9 L1455.5 1928.7 L1457.9 1928.8 L1460.3 1929.3 L1462.8 1928.3 L1465.1 1929 L1467.5 1930.1 L1469.9 1929.9 L1472.3 1929.1 L1474.7 1929.5 L1474.7 1951 L93.5 1951ZM573.1 1908.8 L575.4 1908.2 L577.7 1906.8 L580.5 1908.9 L582.5 1905.9 L584.9 1905.8 L587.4 1906.3 L590 1906.8 L592.3 1905.7 L594.9 1905.4 L597.3 1906.8 L599.9 1907.1 L602.6 1904.8 L605 1907.6 L607.6 1906.9 L609.4 1908.7 L610.6 1911.2 L613.4 1911.9 L611.3 1913.2 L609.1 1913.8 L606.5 1912.7 L604.4 1913.8 L602.1 1913.9 L599.9 1914.9 L597.5 1914.8 L595 1916.3 L592.6 1916.2 L590.3 1914.5 L588 1914.1 L585.6 1913.9 L583.2 1913.8 L580.8 1913.8 L578.2 1913.6 L576.5 1911.9 L574.8 1910.4ZM154.9 1908.8 L157.5 1908.6 L160 1908.4 L162.6 1908.9 L165.1 1909.9 L167.7 1909.8 L170.2 1909.6 L169.4 1911.5 L168.3 1913.4 L166.1 1912.3 L163.9 1912 L161.6 1912.3 L159.3 1913.9 L157.1 1912.7 L154.9 1912.6 L155.5 1910.7ZM496.4 1870.4 L498.9 1871.9 L501.5 1870.6 L504 1869.3 L506.6 1870.2 L509.1 1869.5 L511.7 1870.4 L513.5 1871.5 L515.1 1872.8 L515.9 1874.8 L517.5 1876.2 L517.1 1878.4 L515.8 1880.4 L515.5 1882.7 L513 1882.1 L510.5 1880.8 L507.8 1883.6 L505.3 1882.9 L502.7 1883.1 L500.2 1881.9 L498.6 1880.6 L497.8 1878.6 L495.2 1878.3 L494.4 1876.2 L495.3 1874.3 L495.5 1872.3ZM390.8 1881.9 L393.5 1880.7 L396.1 1881.5 L398.8 1881.9 L401.4 1881.2 L404 1881.4 L406.7 1880.9 L409.3 1881.1 L411.9 1881.6 L414 1882 L415.8 1883.1 L413.2 1883.3 L410.8 1885.2 L408.1 1883.4 L405.6 1884.1 L403 1884 L400.4 1884.2 L398.2 1883 L395.6 1883.4 L393.2 1882.5Z" fill="#efefdb" stroke="#000" stroke-width="3.0" stroke-linejoin="round"/>
<path d="M496.4 1870.4 L498.9 1871.9 L501.5 1870.6 L504 1869.3 L506.6 1870.2 L509.1 1869.5 L511.7 1870.4 L513.5 1871.5 L515.1 1872.8 L515.9 1874.8 L517.5 1876.2 L517.1 1878.4 L515.8 1880.4 L515.5 1882.7 L513 1882.1 L510.5 1880.8 L507.8 1883.6 L505.3 1882.9 L502.7 1883.1 L500.2 1881.9 L498.6 1880.6 L497.8 1878.6 L495.2 1878.3 L494.4 1876.2 L495.3 1874.3 L495.5 1872.3Z" fill="#efefdb" stroke="#000" stroke-width="4.5" stroke-linejoin="round"/>
<path d="M549.3 1803.3 L551.9 1803 L554.5 1802 L557.1 1802.3 L559.7 1800.9 L562.3 1803.3 L562.3 1806 L559.7 1806.4 L557.1 1806.5 L554.5 1807 L552 1806 L552.1 1803.2Z" fill="#efefdb" stroke="#000" stroke-width="4.2" stroke-linejoin="round"/>
<path d="M573.1 1908.8 L575.4 1908.2 L577.7 1906.8 L580.5 1908.9 L582.5 1905.9 L584.9 1905.8 L587.4 1906.3 L590 1906.8 L592.3 1905.7 L594.9 1905.4 L597.3 1906.8 L599.9 1907.1 L602.6 1904.8 L605 1907.6 L607.6 1906.9 L609.4 1908.7 L610.6 1911.2 L613.4 1911.9 L611.3 1913.2 L609.1 1913.8 L606.5 1912.7 L604.4 1913.8 L602.1 1913.9 L599.9 1914.9 L597.5 1914.8 L595 1916.3 L592.6 1916.2 L590.3 1914.5 L588 1914.1 L585.6 1913.9 L583.2 1913.8 L580.8 1913.8 L578.2 1913.6 L576.5 1911.9 L574.8 1910.4Z" fill="#efefdb" stroke="#000" stroke-width="3.3" stroke-linejoin="round"/>
<path d="M499.4 1774.6 L498.4 1776.8 L496.6 1778.7 L496.9 1781.5 L496.1 1783.8 L495.2 1786.1 L496.4 1788.3 L495.3 1790.7 L495.9 1793 L496.9 1795.2 L495.6 1797.6 L495 1800.7 L497.3 1802.3 L498 1804.7 L500.2 1806.4 L501.5 1808.8 L504.1 1809.6 L505.3 1812 L507.9 1812.9 L509.2 1816.3 L512.9 1814.7 L514.9 1816.6 L517.5 1817.5 L519.7 1819.4 L522.4 1815.9 L524.8 1816 L527 1818.3 L527 1818.3 L524.5 1820.2 L522.2 1818.5 L519.8 1818.6 L517.5 1817.5 L514.6 1817.4 L512.9 1814.7 L510.9 1812.8 L507.9 1812.9 L505.4 1811.9 L504 1809.7 L502.7 1807.3 L500.2 1806.4 L498.6 1804.4 L497.5 1802.2 L496.4 1800 L495.6 1797.6 L495.7 1795.3 L497 1792.9 L495.6 1790.7" fill="none" stroke="#000" stroke-width="7.7" stroke-linejoin="round" stroke-linecap="round"/>
<path d="M521.3 1807.5 L519.6 1808.9 L518.1 1810.7 L516.4 1812 L513.6 1811 L511.2 1811.9 L509.6 1810.2 L507.9 1809.1 L507.9 1809.1 L510.2 1808.5 L511.8 1810 L513.6 1811 L516.5 1812.4" fill="none" stroke="#000" stroke-width="3.8" stroke-linejoin="round" stroke-linecap="round"/>
<path d="M492.5 1883.1 L494.7 1881.9 L497 1881 L498.9 1879.3 L501.6 1879 L503.3 1877.1 L505.7 1876.2 L507.9 1875 L510.7 1874.6 L512.3 1872.2 L514.2 1870.3 L517.6 1870.6 L518.3 1866.9 L521.3 1866.6 L522.6 1864.5 L524.4 1863 L526.6 1862 L529.6 1862.4 L530.7 1860 L532.8 1858.9 L535.1 1857.8 L537.7 1857.1 L539 1854 L541.7 1853.7 L544.3 1853.2 L546.5 1852 L548.7 1850.8 L550.9 1849.7 L553.4 1849.1 L555.8 1848.6 L558.1 1848.2 L560 1846.4 L562.3 1845.8 L564.9 1846.4 L567.4 1846.6 L569.3 1844.7 L569.3 1844.7 L567.2 1846 L564.7 1845.8 L562.4 1846.2 L560.5 1848.1 L557.7 1846.7 L555.8 1848.6 L553.5 1849.5 L551.6 1851.4 L548.7 1850.9 L546.4 1851.7 L544.3 1853.2 L541.8 1853.9 L539.2 1854.6 L536.8 1855.4 L535.4 1858.3 L532.8 1858.9 L531.3 1860.8 L529.6 1862.4 L527.2 1863 L524.4 1863 L523.9 1866.4 L521.3 1866.6 L518.6 1867.3 L516.7 1869.2 L514.6 1870.9 L512.4 1872.3 L510.1 1873.7 L507.9 1875" fill="none" stroke="#000" stroke-width="6.1" stroke-linejoin="round" stroke-linecap="round"/>
<path d="M550.1 1855.1 L550.8 1857.3 L551.3 1859.6 L551.8 1861.9 L550.7 1864.5 L552 1866.6 L551.8 1868.9 L552.7 1871.2 L551.3 1873.5 L551.8 1875.8 L552 1878.1 L551.9 1880.4 L551.6 1882.7 L551.5 1885 L552.5 1887.3 L552 1889.6 L552 1889.6 L551.9 1887.3 L553.6 1885 L553.7 1882.7 L552.1 1880.4 L552 1878.1 L550.8 1875.8 L551.5 1873.5 L552 1871.2 L551.4 1868.9 L552 1866.6 L551.9 1864.3" fill="none" stroke="#000" stroke-width="3.5" stroke-linejoin="round" stroke-linecap="round"/>
<path d="M392.8 1881.9 L395.4 1882.4 L398 1881.7 L400.7 1881.1 L403.3 1882.8 L405.9 1883.5 L408.6 1882.4 L411.2 1881.5 L413.9 1882.3 L413.9 1882.3 L411.2 1881.3 L408.6 1883.9 L405.9 1883.9 L403.3 1882.5 L400.7 1882.4 L398 1882.4" fill="none" stroke="#000" stroke-width="3.5" stroke-linejoin="round" stroke-linecap="round"/>
<path d="M170.2 1906.9 L172.7 1905.6 L175.3 1905.8 L177.9 1905.6 L180.5 1905.9 L183 1905.3 L185.6 1905.7 L188.3 1906.6 L190.6 1903.9 L193.3 1905 L195.7 1903.1 L198.2 1902.6 L200.9 1903 L203.5 1903.6 L206 1903.3 L208.6 1903 L211 1901.8 L213.5 1901 L216.2 1900.9 L219.1 1901.5 L221.3 1899.5 L223.9 1899.2 L223.9 1899.2 L221.4 1899.8 L218.8 1900.2 L216.3 1901.3 L213.9 1902.5 L210.9 1901.3 L208.6 1903 L206.1 1903.4 L203.5 1903.5 L201 1904.2 L198.3 1903.8 L195.8 1904.4 L193.3 1904.9 L190.6 1904 L188.3 1906.3 L185.5 1904.7 L183.1 1906.5 L180.4 1905.6 L177.7 1904.5" fill="none" stroke="#000" stroke-width="3.5" stroke-linejoin="round" stroke-linecap="round"/>
<path d="M151.1 1909.9 L153.6 1909.9 L156.2 1909.8 L158.7 1910.8 L161.3 1911.2 L163.8 1910.9 L166.4 1911 L168.9 1912.2 L171.5 1910.1 L174.1 1910.7 L176.7 1910.6 L179.1 1911.7 L181.7 1911.4 L184.3 1911.2 L186.9 1911.8 L189.4 1912.2 L191.9 1913.1 L194.4 1914.1 L197.1 1912.6 L199.6 1911.9 L202.3 1912.8 L204.7 1911.7 L207.4 1912 L209.9 1911.3 L212.4 1911.1 L212.4 1911.1 L209.8 1910.8 L207.3 1911.5 L204.7 1911.7 L202 1910.4 L199.6 1912.3 L197.1 1912.6 L194.5 1912.5 L191.9 1912.6 L189.4 1911.9 L186.9 1911.8 L184.2 1912.6 L181.7 1912 L179 1912.8 L176.6 1910.7 L174.1 1910.7 L171.5 1911 L169 1909.7 L166.4 1910.7 L163.9 1909 L161.3 1910.4" fill="none" stroke="#000" stroke-width="3.8" stroke-linejoin="round" stroke-linecap="round"/>
<path d="M151.1 1916.5 L153.5 1916.2 L155.9 1916.5 L158.2 1917.1 L160.6 1917.5 L163.1 1915.6 L165.4 1917.8 L167.8 1917.5 L170.2 1917.6 L170.2 1917.6 L167.9 1916.5 L165.4 1917.6 L163.1 1916.6 L160.7 1916.4 L158.3 1916.4 L155.9 1915.1" fill="none" stroke="#000" stroke-width="2.7" stroke-linejoin="round" stroke-linecap="round"/>
<path d="M112.7 1923.4 L115 1924.5 L117.6 1923.3 L119.9 1925 L122.4 1924.6 L125 1923.7 L127.2 1926.3 L129.7 1925.5 L132.1 1926.4 L134.6 1926.1 L137.1 1925.9 L139.5 1925.7 L142.2 1924.3 L144.6 1927.5 L147.2 1927 L149.8 1926.6 L152.4 1924.6 L154.9 1925.6 L157.4 1927.1 L160 1927.4 L162.6 1926 L165.2 1925.7 L167.7 1927.1 L170.2 1926.8 L172.8 1926.9 L175.4 1927.6 L177.8 1925.4 L180.4 1925.7 L183.1 1927.1 L185.7 1926.5 L188.3 1927 L190.7 1925 L193.3 1924.9 L193.3 1924.9 L190.7 1924.8 L188.1 1925.2 L185.6 1925.7 L183.1 1926.8 L180.4 1925.3 L177.9 1926.3 L175.4 1926.9 L172.8 1926.8 L170.2 1926.8 L167.6 1927.9 L165.1 1926.5 L162.6 1926.5 L160 1926 L157.5 1925.8 L154.9 1925.5 L152.3 1927.8 L149.7 1927.5 L147.3 1925 L144.6 1926.7 L142.1 1925.1 L139.5 1925.7 L137 1926.2 L134.6 1925.5 L132.3 1923.5 L129.9 1923.6 L127.3 1924.5 L124.9 1924.7 L122.3 1925.5" fill="none" stroke="#000" stroke-width="3.1" stroke-linejoin="round" stroke-linecap="round"/>
<path d="M181.7 1921.1 L184.3 1920.4 L186.8 1921.8 L189.4 1922.2 L192 1921.9 L194.6 1921.1 L197.1 1921.8 L197.1 1921.8 L194.5 1922.2 L192 1921.8 L189.4 1921.8 L186.9 1921.4" fill="none" stroke="#000" stroke-width="2.3" stroke-linejoin="round" stroke-linecap="round"/>
<path d="M170.2 1907.3 L172.6 1907.8 L175 1907.6 L177.4 1907.7 L179.9 1906.8 L182.3 1906.8 L184.6 1907.7 L187.1 1907.1 L189.4 1908 L192 1908.2 L194.5 1906.7 L197.2 1909.3 L199.6 1907.4 L202.2 1907.4 L204.8 1907.3 L204.8 1907.3 L202.1 1905.7 L199.7 1908.3 L197 1906.2 L194.6 1908.2 L192 1907.8 L189.4 1908 L187 1907.7 L184.7 1906.6 L182.2 1908 L179.8 1907.9 L177.4 1907.9" fill="none" stroke="#000" stroke-width="3.1" stroke-linejoin="round" stroke-linecap="round"/>
<path d="M208.6 1896.5 L211.2 1896.3 L213.8 1897.2 L216.2 1894.9 L218.8 1895.8 L221.4 1895.2 L224 1895.6 L226.5 1895.7 L229.1 1895.1 L231.6 1894.6 L234.2 1894.7 L236.7 1894.6 L239.3 1893.8 L241.9 1895.1 L244.4 1894.4 L247 1893.8 L247 1893.8 L244.4 1894.4 L241.9 1895.3 L239.2 1893.5 L236.8 1895.6 L234.2 1894.4 L231.6 1895.2 L229.1 1895.9 L226.6 1896.9 L223.9 1894.6 L221.3 1894.8 L218.8 1895 L216.2 1895.4 L213.8 1896.9" fill="none" stroke="#000" stroke-width="3.1" stroke-linejoin="round" stroke-linecap="round"/>
<path d="M469.5 1906.1 L471.9 1907.8 L474.8 1905.6 L477.1 1907.8 L479.8 1907.4 L482.4 1907.5 L484.6 1909.8 L487.4 1909 L489.9 1909.5 L492.4 1910.4 L495.1 1909.8 L497.6 1910.6 L500.3 1910.2 L502.7 1911.5 L505.5 1910.8 L508 1911.1 L510.4 1912.5 L513.1 1912 L515.5 1913.4 L518.1 1914.2 L520.5 1915.2 L523.5 1914.3 L525.5 1917.1 L528.7 1915.3 L531.2 1916.3 L533.2 1919.1 L535.9 1919 L538.6 1919.4 L541.3 1919.3 L543.8 1920.4 L546.2 1921.4 L546.2 1921.4 L543.6 1921.1 L541.3 1919.4 L538.3 1920.5 L536 1918.6 L533.2 1918.9 L530.7 1918.1 L528.1 1917.4 L525.8 1916 L523.1 1916 L520.9 1913.7 L518.1 1914 L515.5 1913.4 L512.7 1914.5 L510.4 1912.9 L507.7 1913 L505.3 1911.8 L502.8 1911.1 L500.1 1911.5 L497.7 1910 L495.2 1909.4 L492.7 1908.8 L489.8 1910.2 L487.4 1908.8 L484.9 1908.5 L482.5 1907 L479.7 1908 L477 1908.2" fill="none" stroke="#000" stroke-width="3.5" stroke-linejoin="round" stroke-linecap="round"/>
<path d="M1413.3 1889.6 L1412.8 1891.8 L1412.7 1894.1 L1409.4 1894.9 L1409.5 1897.3 L1411.5 1898.7 L1411.7 1901 L1411.4 1903.5 L1413.3 1905 L1413.3 1905 L1412.6 1902.9 L1411.5 1901.1 L1409.4 1899.7 L1409.5 1897.3 L1411.3 1895.8" fill="none" stroke="#000" stroke-width="3.5" stroke-linejoin="round" stroke-linecap="round"/>
<path d="M1421 1878.1 L1423.3 1879.7 L1426.4 1878.2 L1428.6 1880.2 L1431.3 1880.4 L1433.5 1882.6 L1436.3 1881.9 L1436.3 1881.9 L1433.7 1881.5 L1431.3 1880.5 L1428.7 1879.8 L1426.2 1878.8" fill="none" stroke="#000" stroke-width="3.5" stroke-linejoin="round" stroke-linecap="round"/>
<path d="M981.2 1783.8a1.3 1.3 0 1 0 2.6 0a1.3 1.3 0 1 0 -2.6 0ZM927.8 1785.7a1.3 1.3 0 1 0 2.6 0a1.3 1.3 0 1 0 -2.6 0ZM1064.6 1809.5a1.5 1.5 0 1 0 3.1 0a1.5 1.5 0 1 0 -3.1 0ZM1392.4 1815.2a1.3 1.3 0 1 0 2.7 0a1.3 1.3 0 1 0 -2.7 0ZM1419.8 1800.3a1.5 1.5 0 1 0 3.1 0a1.5 1.5 0 1 0 -3.1 0ZM1432 1807.2a1.3 1.3 0 1 0 2.6 0a1.3 1.3 0 1 0 -2.6 0ZM1408.2 1862a1.3 1.3 0 1 0 2.6 0a1.3 1.3 0 1 0 -2.6 0ZM1406.3 1864.7a1.3 1.3 0 1 0 2.6 0a1.3 1.3 0 1 0 -2.6 0ZM92.6 1864.3a1.3 1.3 0 1 0 2.6 0a1.3 1.3 0 1 0 -2.6 0ZM607.6 1838.6a1.9 1.9 0 1 0 3.8 0a1.9 1.9 0 1 0 -3.8 0ZM611.3 1838.6a1.3 1.3 0 1 0 2.6 0a1.3 1.3 0 1 0 -2.6 0ZM681.1 1827.5a1.3 1.3 0 1 0 2.6 0a1.3 1.3 0 1 0 -2.6 0ZM681.5 1830.2a1.3 1.3 0 1 0 2.6 0a1.3 1.3 0 1 0 -2.6 0ZM680.7 1833.6a1.3 1.3 0 1 0 2.6 0a1.3 1.3 0 1 0 -2.6 0ZM678.1 1821.7a1.3 1.3 0 1 0 2.6 0a1.3 1.3 0 1 0 -2.6 0ZM795.9 1814.4a1.3 1.3 0 1 0 2.6 0a1.3 1.3 0 1 0 -2.6 0ZM552.4 1845.5a1.5 1.5 0 1 0 3.1 0a1.5 1.5 0 1 0 -3.1 0ZM558.1 1843.6a1.5 1.5 0 1 0 3.1 0a1.5 1.5 0 1 0 -3.1 0ZM548.7 1846.7a1.3 1.3 0 1 0 2.7 0a1.3 1.3 0 1 0 -2.7 0ZM569.8 1840.5a1.3 1.3 0 1 0 2.7 0a1.3 1.3 0 1 0 -2.7 0ZM435.6 1869.7a1.3 1.3 0 1 0 2.6 0a1.3 1.3 0 1 0 -2.6 0Z" fill="#000"/>
<path d="M151.8 1396.4 L143.4 1399.9 L135.7 1403 L124.2 1405.3 L112.7 1406.8 L101.2 1407.9 L93.5 1407.9" fill="none" stroke="#000" stroke-width="3.0" stroke-dasharray="5 3" stroke-linecap="round"/>
<path d="M1474.7 1407.6 L1463.2 1406.4 L1451.7 1404.1 L1445.9 1402.6" fill="none" stroke="#000" stroke-width="3.0" stroke-dasharray="5 3" stroke-linecap="round"/>
<path d="M1342.3 1437.9 L1351.9 1432.1 L1361.5 1427.5 L1371.1 1420.6 L1380.7 1412.9" fill="none" stroke="#000" stroke-width="3.0" stroke-dasharray="5 3" stroke-linecap="round"/>
<path d="M1281 1497.3 L1275.2 1503.8 L1274.1 1505.7" fill="none" stroke="#000" stroke-width="3.0" stroke-dasharray="5 3" stroke-linecap="round"/>
<line x1="1472.1" y1="1834.5" x2="1472.1" y2="1907.3" stroke="#0000ff" stroke-width="3.2"/>
<line x1="322.9" y1="1778.4" x2="322.9" y2="1951" stroke="#b0b0b0" stroke-width="2.2"/>
<line x1="553.1" y1="1778.4" x2="553.1" y2="1951" stroke="#b0b0b0" stroke-width="2.2"/>
<line x1="783.3" y1="1778.4" x2="783.3" y2="1951" stroke="#b0b0b0" stroke-width="2.2"/>
<line x1="1013.5" y1="1778.4" x2="1013.5" y2="1951" stroke="#b0b0b0" stroke-width="2.2"/>
<line x1="1243.7" y1="1778.4" x2="1243.7" y2="1951" stroke="#b0b0b0" stroke-width="2.2"/>
<line x1="93.5" y1="1928" x2="1474.7" y2="1928" stroke="#b0b0b0" stroke-width="2.2"/>
<line x1="93.5" y1="1905" x2="1474.7" y2="1905" stroke="#b0b0b0" stroke-width="2.2"/>
<line x1="93.5" y1="1881.9" x2="1474.7" y2="1881.9" stroke="#b0b0b0" stroke-width="2.2"/>
<line x1="93.5" y1="1858.9" x2="1474.7" y2="1858.9" stroke="#b0b0b0" stroke-width="2.2"/>
<line x1="93.5" y1="1835.9" x2="1474.7" y2="1835.9" stroke="#b0b0b0" stroke-width="2.2"/>
<line x1="93.5" y1="1812.9" x2="1474.7" y2="1812.9" stroke="#b0b0b0" stroke-width="2.2"/>
<line x1="93.5" y1="1789.9" x2="1474.7" y2="1789.9" stroke="#b0b0b0" stroke-width="2.2"/>
</g>
<rect x="93.5" y="1778.4" width="1381.2" height="172.6" fill="none" stroke="#000" stroke-width="2.8"/>
<text x="93.5" y="1757.6" font-size="27.78" text-anchor="middle">−180</text>
<text x="93.5" y="1987.5" font-size="27.78" text-anchor="middle">−180</text>
<text x="323.7" y="1757.6" font-size="27.78" text-anchor="middle">−120</text>
<text x="323.7" y="1987.5" font-size="27.78" text-anchor="middle">−120</text>
<text x="553.9" y="1757.6" font-size="27.78" text-anchor="middle">−60</text>
<text x="553.9" y="1987.5" font-size="27.78" text-anchor="middle">−60</text>
<text x="784.1" y="1757.6" font-size="27.78" text-anchor="middle">0</text>
<text x="784.1" y="1987.5" font-size="27.78" text-anchor="middle">0</text>
<text x="1014.3" y="1757.6" font-size="27.78" text-anchor="middle">60</text>
<text x="1014.3" y="1987.5" font-size="27.78" text-anchor="middle">60</text>
<text x="1244.5" y="1757.6" font-size="27.78" text-anchor="middle">120</text>
<text x="1244.5" y="1987.5" font-size="27.78" text-anchor="middle">120</text>
<text x="1474.7" y="1757.6" font-size="27.78" text-anchor="middle">180</text>
<text x="1474.7" y="1987.5" font-size="27.78" text-anchor="middle">180</text>
<text x="78.5" y="1938.2" font-size="27.78" text-anchor="end">−84</text>
<text x="1487.5" y="1938.2" font-size="27.78" text-anchor="start">−84</text>
<text x="78.5" y="1915.2" font-size="27.78" text-anchor="end">−78</text>
<text x="1487.5" y="1915.2" font-size="27.78" text-anchor="start">−78</text>
<text x="78.5" y="1892.1" font-size="27.78" text-anchor="end">−72</text>
<text x="1487.5" y="1892.1" font-size="27.78" text-anchor="start">−72</text>
<text x="78.5" y="1869.1" font-size="27.78" text-anchor="end">−66</text>
<text x="1487.5" y="1869.1" font-size="27.78" text-anchor="start">−66</text>
<text x="78.5" y="1846.1" font-size="27.78" text-anchor="end">−60</text>
<text x="1487.5" y="1846.1" font-size="27.78" text-anchor="start">−60</text>
<text x="78.5" y="1823.1" font-size="27.78" text-anchor="end">−54</text>
<text x="1487.5" y="1823.1" font-size="27.78" text-anchor="start">−54</text>
<text x="78.5" y="1800.1" font-size="27.78" text-anchor="end">−48</text>
<text x="1487.5" y="1800.1" font-size="27.78" text-anchor="start">−48</text>
<g clip-path="url(#pclip0)">
<rect x="1635" y="570" width="1105.2" height="556.7" fill="url(#f1)"/>
<path d="M2251.7 574.2 L2236.3 576.7 L2208.5 578.8 L2190 580.4 L2185.1 581 L2185.7 582.5 L2191.5 583.4 L2202.3 587.1 L2217.8 588.7 L2227.6 592.1 L2231.6 600.1 L2236.3 610.9 L2242.4 624.8 L2244 640.2 L2246.1 658.7 L2246.8 683.4 L2247.4 708.1 L2248.6 732.7 L2249.5 763.6 L2251.7 788.2 L2255.4 803.7 L2257.5 812.9 L2256.9 849.9 L2256.9 850 L2258.2 868.5 L2258.2 890.1 L2257.2 906.4 L2266.5 906.4 L2266.5 570Z" fill="#fffbca"/>
<ellipse cx="2670" cy="565" rx="170" ry="45" fill="#e8d17f" opacity="0.75" filter="url(#b30)"/>
<ellipse cx="2450" cy="570" rx="330" ry="40" fill="#f0de98" opacity="0.45" filter="url(#b30)"/>
<ellipse cx="1690" cy="580" rx="40" ry="14" fill="#bcd6d0" opacity="0.9" filter="url(#b8)"/>
<path d="M1687.2 642.7 L1682.6 640.8 L1682.3 635.9 L1689.4 629.4 L1698.7 620.1 L1709.4 614.9 L1712.5 608.1 L1726.4 606.6 L1736.6 604.1 L1742.8 610.3 L1745.8 618 L1747.1 626.3 L1758.8 626.3 L1766.8 630.9 L1768.1 636.5 L1744.9 636.5 L1744.9 642.7Z" fill="#fffbcd"/>
<path d="M1635.1 571.1 L1635 1127.3 L2654.2 1126.7 L2654.2 1109.1 L2634.2 1102.9 L2625.5 1098.3 L2625.5 1073.6 L2571.5 1073.6 L2571.5 1036 L2552.4 1036 L2552.4 1006.7 L2545.3 1006.7 L2545.3 1036 L2539.2 1036 L2539.2 1005.8 L2508.3 1005.8 L2508.3 968.1 L2501.5 968.1 L2493.8 968.8 L2490.7 970.9 L2432.7 970.9 L2432.7 937.9 L2414.5 937.9 L2414.5 956.4 L2412.7 958.6 L2385.9 968.8 L2385.9 1108.5 L2378.1 1108.5 L2365.8 1102.9 L2354.4 1101.4 L2353.5 1072.1 L2341.1 1072.1 L2339.6 1073.6 L2304.7 1073.6 L2304.7 1035.1 L2302.6 1035.1 L2302.6 1005.8 L2255.4 1005.8 L2255.4 906.4 L2244.9 906.4 L2244.9 971.8 L2219.3 971.8 L2219.3 997.4 L2206 997.4 L2206 1038.1 L2182 1037.5 L2182 1062.2 L2167.5 1072.7 L2138.2 1072.7 L2117.2 1062.8 L2117.2 1038.8 L2096.5 1038.8 L2096.5 938.8 L2093.5 937.3 L2072.8 937.3 L2072.8 816.6 L2070.9 814.8 L2066.9 814.8 L2065.1 816.6 L2065.1 873.1 L2028.7 873.1 L2011.1 862.3 L2011.1 842.2 L1994.8 842.2 L1994.8 790.7 L1993.2 788.9 L1991.1 788.9 L1989.2 790.7 L1989.2 842.2 L1966.1 842.2 L1966.1 788.9 L1947.6 788.9 L1947.6 658.1 L1926.9 658.1 L1926.9 631.9 L1905.3 631.9 L1905.3 622.6 L1827.3 622.6 L1823.6 626.3 L1822 631.9 L1803.5 631.9 L1802 635 L1789.6 636.5 L1744.9 636.5 L1744.9 642.7 L1687.2 642.7 L1687.2 649.4 L1650.2 649.4 L1650.2 638.7 L1648.4 637.1 L1648.4 571.1ZM2698.3 1126.7 L2698.3 1109.7 L2700.5 1108.5 L2712.2 1108.5 L2714.4 1109.7 L2714.4 1126.7Z" fill="#92816a" stroke="#000" stroke-width="2.6" stroke-linejoin="round"/>
<path d="M1687.2 647.9 L1682.6 640.8 L1682.3 635.9 L1689.4 629.4 L1698.7 620.1 L1709.4 614.9 L1712.5 608.1 L1726.4 606.6 L1736.6 604.1 L1742.8 610.3 L1745.8 618 L1747.1 626.3 L1758.8 626.3 L1766.8 630.9 L1768.1 635.9" fill="none" stroke="#000" stroke-width="5.0" stroke-linejoin="round" stroke-linecap="round"/>
<path d="M1893.9 620.8 L1896.1 613.1 L1902.2 607.8 L1907.5 613.1 L1910.6 620.8" fill="none" stroke="#000" stroke-width="4.5" stroke-linejoin="round" stroke-linecap="round"/>
<path d="M2251.7 574.2 L2236.3 576.7 L2208.5 578.8 L2190 580.4 L2185.1 581 L2185.7 582.5 L2191.5 583.4 L2202.3 587.1 L2217.8 588.7 L2227.6 592.1 L2231.6 600.1 L2236.3 610.9 L2242.4 624.8 L2244 640.2 L2246.1 658.7 L2246.8 683.4 L2247.4 708.1 L2248.6 732.7 L2249.5 763.6 L2251.7 788.2 L2255.4 803.7 L2257.5 812.9 L2256.9 849.9 L2256.9 850 L2258.2 868.5 L2258.2 890.1 L2257.2 906.4" fill="none" stroke="#000" stroke-width="5.0" stroke-linejoin="round" stroke-linecap="round"/>
<path d="M2244.9 942.5 L2231.6 946.2 L2228.6 970.9" fill="none" stroke="#000" stroke-width="5.0" stroke-linejoin="round" stroke-linecap="round"/>
<path d="M2219.3 994.4 L2207 999.9 L2194.6 1006.1 L2189.4 1007.3 L2187.5 1003.3 L2190.9 1001.1 L2194.6 1005.5" fill="none" stroke="#000" stroke-width="5.0" stroke-linejoin="round" stroke-linecap="round"/>
<path d="M2643.4 574.2 L2740.6 574.2" fill="none" stroke="#000" stroke-width="5" stroke-linejoin="round" stroke-linecap="round"/>
<line x1="1648.4" y1="570.9" x2="2740.2" y2="570.9" stroke="#000" stroke-width="4.2"/>
</g>
<rect x="1635" y="570" width="1105.2" height="556.7" fill="none" stroke="#000" stroke-width="2.2"/>
<text x="1635" y="1168.1" font-size="27.78" text-anchor="middle">0</text>
<text x="1775.7" y="1168.1" font-size="27.78" text-anchor="middle">250</text>
<text x="1916.4" y="1168.1" font-size="27.78" text-anchor="middle">500</text>
<text x="2057.1" y="1168.1" font-size="27.78" text-anchor="middle">750</text>
<text x="2197.9" y="1168.1" font-size="27.78" text-anchor="middle">1000</text>
<text x="2338.6" y="1168.1" font-size="27.78" text-anchor="middle">1250</text>
<text x="2479.3" y="1168.1" font-size="27.78" text-anchor="middle">1500</text>
<text x="2620" y="1168.1" font-size="27.78" text-anchor="middle">1750</text>
<text x="1617" y="581.4" font-size="27.78" text-anchor="end">0</text>
<text x="1617" y="651" font-size="27.78" text-anchor="end">−500</text>
<text x="1617" y="720.6" font-size="27.78" text-anchor="end">−1000</text>
<text x="1617" y="790.2" font-size="27.78" text-anchor="end">−1500</text>
<text x="1617" y="859.8" font-size="27.78" text-anchor="end">−2000</text>
<text x="1617" y="929.3" font-size="27.78" text-anchor="end">−2500</text>
<text x="1617" y="998.9" font-size="27.78" text-anchor="end">−3000</text>
<text x="1617" y="1068.5" font-size="27.78" text-anchor="end">−3500</text>
<text x="1617" y="1138.1" font-size="27.78" text-anchor="end">−4000</text>
<text x="1636.3" y="545.4" font-size="27.78" text-anchor="middle">179.92°</text>
<text x="1636.3" y="445.1" font-size="27.78" text-anchor="middle">-77.87°</text>
<text x="1792.8" y="545.4" font-size="27.78" text-anchor="middle">179.92°</text>
<text x="1792.8" y="445.1" font-size="27.78" text-anchor="middle">-75.37°</text>
<text x="1949.2" y="545.4" font-size="27.78" text-anchor="middle">179.92°</text>
<text x="1949.2" y="445.1" font-size="27.78" text-anchor="middle">-72.87°</text>
<text x="2105.7" y="545.4" font-size="27.78" text-anchor="middle">179.92°</text>
<text x="2105.7" y="445.1" font-size="27.78" text-anchor="middle">-70.37°</text>
<text x="2262.1" y="545.4" font-size="27.78" text-anchor="middle">179.92°</text>
<text x="2262.1" y="445.1" font-size="27.78" text-anchor="middle">-67.87°</text>
<text x="2418.6" y="545.4" font-size="27.78" text-anchor="middle">179.92°</text>
<text x="2418.6" y="445.1" font-size="27.78" text-anchor="middle">-65.37°</text>
<text x="2575" y="545.4" font-size="27.78" text-anchor="middle">179.92°</text>
<text x="2575" y="445.1" font-size="27.78" text-anchor="middle">-62.87°</text>
<text x="2731.4" y="545.4" font-size="27.78" text-anchor="middle">179.92°</text>
<text x="2731.4" y="445.1" font-size="27.78" text-anchor="middle">-60.37°</text>
<path d="M1635 1126.7v9.7M1775.7 1126.7v9.7M1916.4 1126.7v9.7M2057.1 1126.7v9.7M2197.9 1126.7v9.7M2338.6 1126.7v9.7M2479.3 1126.7v9.7M2620 1126.7v9.7M1635 570h-9.7M1635 639.6h-9.7M1635 709.2h-9.7M1635 778.8h-9.7M1635 848.4h-9.7M1635 917.9h-9.7M1635 987.5h-9.7M1635 1057.1h-9.7M1635 1126.7h-9.7M1635 570v-9.7M1635 469.5v-9.7M1791.5 570v-9.7M1791.5 469.5v-9.7M1947.9 570v-9.7M1947.9 469.5v-9.7M2104.3 570v-9.7M2104.3 469.5v-9.7M2260.8 570v-9.7M2260.8 469.5v-9.7M2417.2 570v-9.7M2417.2 469.5v-9.7M2573.7 570v-9.7M2573.7 469.5v-9.7M2730.1 570v-9.7M2730.1 469.5v-9.7M1635 469.5H2740.2" stroke="#000" stroke-width="2.2" fill="none"/>
<text x="2187.6" y="512.2" font-size="33.33" text-anchor="middle">Longitude</text>
<text x="2187.6" y="411.6" font-size="33.33" text-anchor="middle">Latitude</text>
<text x="2187.6" y="364.7" font-size="44.44" text-anchor="middle">20180129.DECKv1b_piControl.ne30_oEC.edison</text>
<text x="2187.6" y="1213.3" font-size="33.33" text-anchor="middle">Distance [km]</text>
<text transform="translate(1502 849.6) rotate(-90)" font-size="33.33" text-anchor="middle">Depth [m]</text>
<rect x="2808.6" y="570" width="63.1" height="556.7" fill="url(#cb_delta)" stroke="#000" stroke-width="2.2"/>
<text x="2890.3" y="581.3" font-size="27.78" text-anchor="start">0.20</text>
<text x="2890.3" y="650.9" font-size="27.78" text-anchor="start">0.15</text>
<text x="2890.3" y="720.5" font-size="27.78" text-anchor="start">0.10</text>
<text x="2890.3" y="790.1" font-size="27.78" text-anchor="start">0.05</text>
<text x="2890.3" y="859.6" font-size="27.78" text-anchor="start">0.00</text>
<text x="2890.3" y="929.2" font-size="27.78" text-anchor="start">−0.05</text>
<text x="2890.3" y="998.8" font-size="27.78" text-anchor="start">−0.10</text>
<text x="2890.3" y="1068.4" font-size="27.78" text-anchor="start">−0.15</text>
<text x="2890.3" y="1138" font-size="27.78" text-anchor="start">−0.20</text>
<path d="M2871.7 570h9.7M2871.7 639.6h9.7M2871.7 709.2h9.7M2871.7 778.8h9.7M2871.7 848.4h9.7M2871.7 917.9h9.7M2871.7 987.5h9.7M2871.7 1057.1h9.7M2871.7 1126.7h9.7" stroke="#000" stroke-width="2.2" fill="none"/>
<text transform="translate(3008.4 848.4) rotate(-90)" font-size="27.78" text-anchor="middle">m s<tspan dy="-10" font-size="19.4">−1</tspan></text>
<g clip-path="url(#pclip1)">
<rect x="1635" y="1586" width="1105.2" height="556.7" fill="url(#f2)"/>
<rect x="2275" y="1586" width="420.2" height="556.7" fill="url(#fade2)"/>
<path d="M2355.9 1589.9 L2362.7 1616.1 L2368.9 1653.1 L2375.1 1696.3 L2385.9 1733.3 L2396 1744.1 L2405.9 1705.5 L2418.2 1659.3 L2429 1622.3 L2438.3 1600.1 L2450.6 1609.3 L2461.4 1634.6 L2469.1 1646.9 L2479.9 1665.4 L2489.8 1690.1 L2501.5 1680.9 L2513.9 1653.1 L2524.7 1622.3 L2530.2 1600.7 L2530.8 1589.9Z" fill="url(#green2)" filter="url(#b8)" opacity="0.95"/>
<path d="M2566.9 1589.9 L2570.9 1616.1 L2577.1 1653.1 L2583.3 1680.9 L2594.1 1696.9 L2615.6 1697.8 L2626.4 1705.5 L2646.5 1736.4 L2656.4 1741 L2668.1 1714.8 L2677.3 1674.7 L2683.5 1637.7 L2686.6 1606.8 L2685 1589.9Z" fill="url(#green2)" filter="url(#b8)" opacity="0.95"/>
<path d="M2378.1 1589.9 L2382.8 1609.9 L2396 1614.6 L2409 1600.7 L2409.6 1589.9Z" fill="#36862a" filter="url(#b8)"/>
<path d="M2624.9 1589.9 L2624.3 1600.7 L2634.2 1616.1 L2646.5 1631.5 L2658.2 1630 L2666.5 1606.8 L2669.6 1589.9Z" fill="#36862a" filter="url(#b8)"/>
<ellipse cx="2395" cy="1616" rx="18" ry="40" fill="#3d8a28" filter="url(#b8)"/>
<ellipse cx="2655" cy="1626" rx="22" ry="50" fill="#2f8230" filter="url(#b8)"/>
<ellipse cx="2500" cy="1606" rx="40" ry="40" fill="#86a012" filter="url(#b14)"/>
<path d="M2399.7 2013.4 L2405.9 2006.3 L2415.2 1974 L2427.5 1934.5 L2436.8 1977Z" fill="#f8f7e0"/>
<path d="M2457.7 1987.8 L2463 1958.5 L2466.1 1912.3 L2469.1 1890.7 L2473.1 1912.3 L2476.9 1958.5 L2479.9 1989.4 L2483 2013.4Z" fill="#f8f7e0"/>
<path d="M2535.5 2048 L2538.5 1989.4 L2544.7 1964.7 L2552.4 1927.7 L2557 1964.7 L2558.6 1995.5 L2564.8 2001.7 L2564.8 2020.2 L2561.1 2048Z" fill="#f8f7e0"/>
<path d="M2575.6 2082.5 L2583.3 2075.7 L2589.4 2051.1 L2594.1 2035 L2598.7 2051.1 L2604.9 2103.5 L2615.6 2085 L2625.5 2109.7 L2635.7 2060.3 L2638.8 2097.3 L2640.9 2142.1Z" fill="#f8f7e0"/>
<path d="M2168.4 2082.5 L2165.9 2051.1 L2168.4 2042.4 L2172.1 2057.2 L2179.8 2063.4 L2185.1 2082.5Z" fill="#f8f7e0"/>
<path d="M1852.9 1609.9 L1856.9 1600.7 L1861.2 1593 L1869.8 1590.8 L1899.1 1590.8 L1899.1 1596 L1894.5 1608.4 L1888.3 1618.6 L1884.6 1609.9Z" fill="url(#yel2)"/>
<path d="M2011.1 1590.8 L2010.2 1606.8 L2008 1625.4 L2007.1 1637.7 L2013.3 1646.3 L2009.3 1655.6 L2011.1 1680.9 L2013.3 1714.8 L2011.7 1748.7 L2009.3 1776.5 L2007.7 1804.2 L2009.3 1819.7 L2012.3 1815 L2016.3 1791.9 L2023.4 1778 L2028.7 1758 L2031.8 1730.2 L2034.9 1761.1 L2036.4 1788.8 L2030.2 1797.5 L2031.8 1805.8 L2040.1 1802.1 L2065.1 1772.5 L2064.2 1699.4 L2064.2 1637.7 L2062.6 1590.8Z" fill="url(#yel2)"/>
<ellipse cx="1740" cy="1601" rx="60" ry="20" fill="#cfe0d8" opacity="0.8" filter="url(#b14)"/>
<path d="M1635.1 1587.1 L1635 2143.3 L2635.7 2142.7 L2635.7 2118.3 L2594.1 2118.3 L2594.1 2082.5 L2574 2082.5 L2574 2048 L2510.8 2048 L2510.8 2013.4 L2477.5 2013.4 L2477.5 2048 L2469.1 2048 L2469.1 2013.4 L2457.7 2013.4 L2457.7 1978.6 L2425 1978.6 L2425 2013.4 L2373.5 2013.4 L2373.5 2082.5 L2354.4 2082.5 L2354.4 2048 L2331.3 2048 L2331.3 2082.5 L2313.4 2082.5 L2313.4 1907.6 L2302.6 1907.6 L2302.6 1772.5 L2279.4 1772.5 L2279.4 1869.7 L2270.8 1869.7 L2270.8 1728.1 L2248 1728.1 L2248 1772.5 L2236.9 1772.5 L2236.9 1869.7 L2227.6 1869.7 L2227.6 1907.6 L2217.1 1907.6 L2217.1 2013.4 L2206 2013.4 L2206 2048 L2195.6 2048 L2195.6 2082.5 L2125.2 2082.5 L2125.2 2048 L2115 2048 L2115 2013.4 L2104.3 2013.4 L2104.3 1978.6 L2094.1 1978.6 L2094.1 1906.7 L2083.6 1906.7 L2083.6 1833.5 L2072.8 1833.5 L2072.8 1772.5 L2040.1 1772.5 L2040.1 1833.5 L2017.9 1833.5 L2017.9 1869.7 L1979.3 1869.7 L1979.3 1833.5 L1968.5 1833.5 L1968.5 1800.2 L1958.4 1800.2 L1958.4 1748.7 L1947.9 1748.7 L1947.9 1679.3 L1937.7 1679.3 L1937.7 1646.3 L1916.7 1646.3 L1916.7 1637.7 L1906.2 1637.7 L1906.2 1625.4 L1895.4 1625.4 L1895.4 1619.2 L1884.6 1619.2 L1884.6 1609.9 L1852.9 1609.9 L1852.9 1614.2 L1840.8 1614.2 L1840.8 1624.7 L1830.4 1624.7 L1830.4 1631.5 L1819.9 1631.5 L1819.9 1638.6 L1809.7 1638.6 L1809.7 1646.3 L1760.3 1646.3 L1760.3 1638.6 L1705.7 1638.6 L1705.7 1646.9 L1695 1646.9 L1695 1656.8 L1684.8 1656.8 L1684.8 1667 L1674.9 1667 L1674.9 1679.3 L1654.9 1679.3 L1654.9 1587.1Z" fill="#92816a" stroke="#000" stroke-width="2.7" stroke-linejoin="round"/>
<path d="M1654.9 1606.8 L1657.6 1609.9 L1661.6 1622.3 L1664.7 1646.9 L1666.3 1660.8 L1669.4 1656.2 L1673.1 1637.7 L1677.1 1619.2 L1681.1 1625.4 L1685.4 1636.1 L1690.3 1642.3 L1694 1634.6 L1697.1 1623.8 L1700.8 1630 L1704.8 1639.2" fill="none" stroke="#000" stroke-width="5.0" stroke-linejoin="round" stroke-linecap="round"/>
<path d="M1656.4 1589 L1658.6 1593 L1661.6 1589.9" fill="none" stroke="#000" stroke-width="5.0" stroke-linejoin="round" stroke-linecap="round"/>
<path d="M1852.9 1609.9 L1856.9 1600.7 L1861.2 1593 L1869.8 1590.8 L1899.1 1590.8 L1899.1 1596 L1894.5 1608.4 L1888.3 1618.6" fill="none" stroke="#000" stroke-width="5.0" stroke-linejoin="round" stroke-linecap="round"/>
<path d="M1970.1 1597.6 L1971.6 1593.9 L1979.3 1591.4 L1993.2 1593 L1993.8 1599.1 L1990.1 1614.6 L1985.5 1625.4 L1980.9 1627.8 L1976.2 1619.2 L1971.6 1606.8 L1970.1 1597.6" fill="none" stroke="#000" stroke-width="5.0" stroke-linejoin="round" stroke-linecap="round"/>
<path d="M2011.1 1590.8 L2010.2 1606.8 L2008 1625.4 L2007.1 1637.7 L2013.3 1646.3 L2009.3 1655.6 L2011.1 1680.9 L2013.3 1714.8 L2011.7 1748.7 L2009.3 1776.5 L2007.7 1804.2 L2009.3 1819.7 L2012.3 1815 L2016.3 1791.9 L2023.4 1778 L2028.7 1758 L2031.8 1730.2 L2034.9 1761.1 L2036.4 1788.8 L2030.2 1797.5 L2031.8 1805.8 L2040.1 1802.1" fill="none" stroke="#000" stroke-width="5.0" stroke-linejoin="round" stroke-linecap="round"/>
<path d="M2065.1 1772.5 L2064.2 1699.4 L2064.2 1637.7 L2062.6 1590.8 L2011.1 1590.8" fill="none" stroke="#000" stroke-width="5.0" stroke-linejoin="round" stroke-linecap="round"/>
<path d="M2005.6 1865.9 L2007.1 1853.6 L2010.2 1847.4 L2014.2 1853.6 L2015.4 1865.9" fill="none" stroke="#000" stroke-width="5.0" stroke-linejoin="round" stroke-linecap="round"/>
<path d="M2296.4 1589.9 L2288.7 1592 L2282.5 1595.1 L2280.1 1616.1 L2277.9 1637.7 L2284.1 1648.5 L2278.8 1656.2 L2280.1 1699.4 L2278.5 1773.4 L2277.9 1865.9 L2277.9 1866 L2277.3 1869.7" fill="none" stroke="#000" stroke-width="5.0" stroke-linejoin="round" stroke-linecap="round"/>
<path d="M2319.5 1589.9 L2322.6 1600.7 L2333.4 1622.3 L2344.2 1603.8 L2348.8 1589.9" fill="none" stroke="#000" stroke-width="5.0" stroke-linejoin="round" stroke-linecap="round"/>
<path d="M2355.9 1589.9 L2362.7 1616.1 L2368.9 1653.1 L2375.1 1696.3 L2385.9 1733.3 L2396 1744.1 L2405.9 1705.5 L2418.2 1659.3 L2429 1622.3 L2438.3 1600.1 L2450.6 1609.3 L2461.4 1634.6 L2469.1 1646.9 L2479.9 1665.4 L2489.8 1690.1 L2501.5 1680.9 L2513.9 1653.1 L2524.7 1622.3 L2530.2 1600.7 L2530.8 1589.9" fill="none" stroke="#000" stroke-width="5.0" stroke-linejoin="round" stroke-linecap="round"/>
<path d="M2378.1 1589.9 L2382.8 1609.9 L2396 1614.6 L2409 1600.7 L2409.6 1589.9" fill="none" stroke="#000" stroke-width="5.0" stroke-linejoin="round" stroke-linecap="round"/>
<path d="M2566.9 1589.9 L2570.9 1616.1 L2577.1 1653.1 L2583.3 1680.9 L2594.1 1696.9 L2615.6 1697.8 L2626.4 1705.5 L2646.5 1736.4 L2656.4 1741 L2668.1 1714.8 L2677.3 1674.7 L2683.5 1637.7 L2686.6 1606.8 L2685 1589.9" fill="none" stroke="#000" stroke-width="5.0" stroke-linejoin="round" stroke-linecap="round"/>
<path d="M2624.9 1589.9 L2624.3 1600.7 L2634.2 1616.1 L2646.5 1631.5 L2658.2 1630 L2666.5 1606.8 L2669.6 1589.9" fill="none" stroke="#000" stroke-width="5.0" stroke-linejoin="round" stroke-linecap="round"/>
<path d="M2702 1589.9 L2704.5 1637.7 L2705.7 1865.9 L2705.7 1866 L2708.2 1943.1 L2709.7 2014.1 L2706.6 2112.8 L2711.3 2142.1" fill="none" stroke="#000" stroke-width="5.0" stroke-linejoin="round" stroke-linecap="round"/>
<path d="M2399.7 2013.4 L2405.9 2006.3 L2415.2 1974 L2427.5 1934.5 L2436.8 1977" fill="none" stroke="#000" stroke-width="5.0" stroke-linejoin="round" stroke-linecap="round"/>
<path d="M2457.7 1987.8 L2463 1958.5 L2466.1 1912.3 L2469.1 1890.7 L2473.1 1912.3 L2476.9 1958.5 L2479.9 1989.4 L2483 2013.4" fill="none" stroke="#000" stroke-width="5.0" stroke-linejoin="round" stroke-linecap="round"/>
<path d="M2535.5 2048 L2538.5 1989.4 L2544.7 1964.7 L2552.4 1927.7 L2557 1964.7 L2558.6 1995.5 L2564.8 2001.7 L2564.8 2020.2 L2561.1 2048" fill="none" stroke="#000" stroke-width="5.0" stroke-linejoin="round" stroke-linecap="round"/>
<path d="M2575.6 2082.5 L2583.3 2075.7 L2589.4 2051.1 L2594.1 2035 L2598.7 2051.1 L2604.9 2103.5 L2615.6 2085 L2625.5 2109.7 L2635.7 2060.3 L2638.8 2097.3 L2640.9 2142.1" fill="none" stroke="#000" stroke-width="5.0" stroke-linejoin="round" stroke-linecap="round"/>
<path d="M2369.8 2082.5 L2372 2057.2" fill="none" stroke="#000" stroke-width="5.0" stroke-linejoin="round" stroke-linecap="round"/>
<path d="M2168.4 2082.5 L2165.9 2051.1 L2168.4 2042.4 L2172.1 2057.2 L2179.8 2063.4 L2185.1 2082.5" fill="none" stroke="#000" stroke-width="5.0" stroke-linejoin="round" stroke-linecap="round"/>
<path d="M2737.5 1995.5 L2736.6 2007.9 L2737.8 2020.2" fill="none" stroke="#000" stroke-width="5.0" stroke-linejoin="round" stroke-linecap="round"/>
<path d="M2739 2063.4 L2738.4 2142.1" fill="none" stroke="#000" stroke-width="5.0" stroke-linejoin="round" stroke-linecap="round"/>
<ellipse cx="1988.6" cy="1636.1" rx="2.8" ry="6.2" fill="none" stroke="#000" stroke-width="4"/>
<ellipse cx="1979.3" cy="1646.9" rx="3.7" ry="3.7" fill="none" stroke="#000" stroke-width="4"/>
<ellipse cx="1968.5" cy="1637.7" rx="1.9" ry="2.5" fill="none" stroke="#000" stroke-width="4"/>
<ellipse cx="1988.6" cy="1659.9" rx="2.8" ry="8" fill="none" stroke="#000" stroke-width="4"/>
<ellipse cx="1968.5" cy="1657.7" rx="1.5" ry="1.9" fill="none" stroke="#000" stroke-width="4"/>
<ellipse cx="1979.3" cy="1706.2" rx="2.5" ry="26.5" fill="none" stroke="#000" stroke-width="4"/>
<ellipse cx="1979.3" cy="1830.5" rx="2.5" ry="11.7" fill="none" stroke="#000" stroke-width="4"/>
<ellipse cx="2000.9" cy="1838.2" rx="1.9" ry="6.2" fill="none" stroke="#000" stroke-width="4"/>
<ellipse cx="2145.9" cy="2057.9" rx="1.5" ry="13" fill="none" stroke="#000" stroke-width="4"/>
<ellipse cx="2082.7" cy="1593" rx="3.4" ry="3.4" fill="#000"/>
<ellipse cx="2594.1" cy="1597.6" rx="2.8" ry="3.4" fill="#000"/>
<ellipse cx="2520.6" cy="2014.7" rx="2.2" ry="3.4" fill="#000"/>
<ellipse cx="2552.4" cy="2012.8" rx="2.2" ry="3.4" fill="#000"/>
<line x1="1655" y1="1586.9" x2="2740.2" y2="1586.9" stroke="#000" stroke-width="4.2"/>
</g>
<rect x="1635" y="1586" width="1105.2" height="556.7" fill="none" stroke="#000" stroke-width="2.2"/>
<text x="1635" y="2184.1" font-size="27.78" text-anchor="middle">0</text>
<text x="1775.7" y="2184.1" font-size="27.78" text-anchor="middle">250</text>
<text x="1916.4" y="2184.1" font-size="27.78" text-anchor="middle">500</text>
<text x="2057.1" y="2184.1" font-size="27.78" text-anchor="middle">750</text>
<text x="2197.9" y="2184.1" font-size="27.78" text-anchor="middle">1000</text>
<text x="2338.6" y="2184.1" font-size="27.78" text-anchor="middle">1250</text>
<text x="2479.3" y="2184.1" font-size="27.78" text-anchor="middle">1500</text>
<text x="2620" y="2184.1" font-size="27.78" text-anchor="middle">1750</text>
<text x="1617" y="1597.4" font-size="27.78" text-anchor="end">0</text>
<text x="1617" y="1667" font-size="27.78" text-anchor="end">−500</text>
<text x="1617" y="1736.6" font-size="27.78" text-anchor="end">−1000</text>
<text x="1617" y="1806.2" font-size="27.78" text-anchor="end">−1500</text>
<text x="1617" y="1875.8" font-size="27.78" text-anchor="end">−2000</text>
<text x="1617" y="1945.3" font-size="27.78" text-anchor="end">−2500</text>
<text x="1617" y="2014.9" font-size="27.78" text-anchor="end">−3000</text>
<text x="1617" y="2084.5" font-size="27.78" text-anchor="end">−3500</text>
<text x="1617" y="2154.1" font-size="27.78" text-anchor="end">−4000</text>
<text x="1636.3" y="1561.4" font-size="27.78" text-anchor="middle">179.92°</text>
<text x="1636.3" y="1461.1" font-size="27.78" text-anchor="middle">-77.87°</text>
<text x="1792.8" y="1561.4" font-size="27.78" text-anchor="middle">179.92°</text>
<text x="1792.8" y="1461.1" font-size="27.78" text-anchor="middle">-75.37°</text>
<text x="1949.2" y="1561.4" font-size="27.78" text-anchor="middle">179.92°</text>
<text x="1949.2" y="1461.1" font-size="27.78" text-anchor="middle">-72.87°</text>
<text x="2105.7" y="1561.4" font-size="27.78" text-anchor="middle">179.92°</text>
<text x="2105.7" y="1461.1" font-size="27.78" text-anchor="middle">-70.37°</text>
<text x="2262.1" y="1561.4" font-size="27.78" text-anchor="middle">179.92°</text>
<text x="2262.1" y="1461.1" font-size="27.78" text-anchor="middle">-67.87°</text>
<text x="2418.6" y="1561.4" font-size="27.78" text-anchor="middle">179.92°</text>
<text x="2418.6" y="1461.1" font-size="27.78" text-anchor="middle">-65.37°</text>
<text x="2575" y="1561.4" font-size="27.78" text-anchor="middle">179.92°</text>
<text x="2575" y="1461.1" font-size="27.78" text-anchor="middle">-62.87°</text>
<text x="2731.4" y="1561.4" font-size="27.78" text-anchor="middle">179.92°</text>
<text x="2731.4" y="1461.1" font-size="27.78" text-anchor="middle">-60.37°</text>
<path d="M1635 2142.7v9.7M1775.7 2142.7v9.7M1916.4 2142.7v9.7M2057.1 2142.7v9.7M2197.9 2142.7v9.7M2338.6 2142.7v9.7M2479.3 2142.7v9.7M2620 2142.7v9.7M1635 1586h-9.7M1635 1655.6h-9.7M1635 1725.2h-9.7M1635 1794.8h-9.7M1635 1864.3h-9.7M1635 1933.9h-9.7M1635 2003.5h-9.7M1635 2073.1h-9.7M1635 2142.7h-9.7M1635 1586v-9.7M1635 1485.5v-9.7M1791.5 1586v-9.7M1791.5 1485.5v-9.7M1947.9 1586v-9.7M1947.9 1485.5v-9.7M2104.3 1586v-9.7M2104.3 1485.5v-9.7M2260.8 1586v-9.7M2260.8 1485.5v-9.7M2417.2 1586v-9.7M2417.2 1485.5v-9.7M2573.7 1586v-9.7M2573.7 1485.5v-9.7M2730.1 1586v-9.7M2730.1 1485.5v-9.7M1635 1485.5H2740.2" stroke="#000" stroke-width="2.2" fill="none"/>
<text x="2187.6" y="1528.2" font-size="33.33" text-anchor="middle">Longitude</text>
<text x="2187.6" y="1427.6" font-size="33.33" text-anchor="middle">Latitude</text>
<text x="2187.6" y="1380.7" font-size="44.44" text-anchor="middle">State Estimate (SOSE)</text>
<text x="2187.6" y="2229.3" font-size="33.33" text-anchor="middle">Distance [km]</text>
<text transform="translate(1502 1865.5) rotate(-90)" font-size="33.33" text-anchor="middle">Depth [m]</text>
<rect x="2808.6" y="1586" width="63.1" height="556.7" fill="url(#cb_delta)" stroke="#000" stroke-width="2.2"/>
<text x="2890.3" y="1597.3" font-size="27.78" text-anchor="start">0.20</text>
<text x="2890.3" y="1666.9" font-size="27.78" text-anchor="start">0.15</text>
<text x="2890.3" y="1736.5" font-size="27.78" text-anchor="start">0.10</text>
<text x="2890.3" y="1806.1" font-size="27.78" text-anchor="start">0.05</text>
<text x="2890.3" y="1875.6" font-size="27.78" text-anchor="start">0.00</text>
<text x="2890.3" y="1945.2" font-size="27.78" text-anchor="start">−0.05</text>
<text x="2890.3" y="2014.8" font-size="27.78" text-anchor="start">−0.10</text>
<text x="2890.3" y="2084.4" font-size="27.78" text-anchor="start">−0.15</text>
<text x="2890.3" y="2154" font-size="27.78" text-anchor="start">−0.20</text>
<path d="M2871.7 1586h9.7M2871.7 1655.6h9.7M2871.7 1725.2h9.7M2871.7 1794.8h9.7M2871.7 1864.3h9.7M2871.7 1933.9h9.7M2871.7 2003.5h9.7M2871.7 2073.1h9.7M2871.7 2142.7h9.7" stroke="#000" stroke-width="2.2" fill="none"/>
<text transform="translate(3008.4 1864.3) rotate(-90)" font-size="27.78" text-anchor="middle">m s<tspan dy="-10" font-size="19.4">−1</tspan></text>
<g clip-path="url(#pclip2)">
<rect x="1635" y="2602" width="1105.2" height="556.7" fill="url(#f3)"/>
<rect x="2307" y="2602" width="433.2" height="556.7" fill="url(#fade3)"/>
<path d="M2363.3 2605.9 L2367.4 2638.3 L2375.1 2690.7 L2384.9 2724.6 L2396 2735.4 L2405.9 2703 L2418.2 2653.7 L2427.5 2619.8 L2430.6 2608 L2427.5 2605.9Z" fill="url(#blue3)" filter="url(#b8)" opacity="0.9"/>
<path d="M2455.3 2609 L2461.4 2624.4 L2469.1 2639.8 L2479.9 2655.2 L2489.8 2675.3 L2501.5 2667.6 L2510.8 2641.4 L2516.9 2619.8 L2518.5 2607.4Z" fill="url(#blue3)" filter="url(#b8)" opacity="0.9"/>
<path d="M2574 2605.9 L2575.6 2622.8 L2578.6 2647.5 L2583.3 2669.1 L2594.1 2687.6 L2615 2684.5 L2626.4 2693.8 L2646.5 2721.5 L2657.3 2723.1 L2668.1 2696.9 L2674.3 2669.1 L2678 2632.1 L2677.3 2605.9Z" fill="url(#blue3)" filter="url(#b8)" opacity="0.9"/>
<ellipse cx="2392" cy="2637" rx="22" ry="45" fill="#3a86bd" filter="url(#b14)"/>
<ellipse cx="2650" cy="2642" rx="30" ry="50" fill="#3a86bd" filter="url(#b14)"/>
<ellipse cx="2715" cy="2622" rx="20" ry="40" fill="#dfb0a0" opacity="0.8" filter="url(#b14)"/>
<path d="M1635 3159.3 L1635 3159.3 L2654.2 3158.7 L2654.2 3141.1 L2635.7 3135.4 L2635.7 3134.3 L2633 3134.3 L2625.5 3130.3 L2625.5 3105.6 L2594.1 3105.6 L2594.1 3098.5 L2574 3098.5 L2574 3064 L2552.4 3064 L2552.4 3038.7 L2545.3 3038.7 L2545.3 3064 L2539.2 3064 L2539.2 3037.8 L2510.8 3037.8 L2510.8 3029.4 L2508.3 3029.4 L2508.3 3000.1 L2501.5 3000.1 L2493.8 3000.8 L2490.7 3002.9 L2457.7 3002.9 L2457.7 2994.6 L2432.7 2994.6 L2432.7 2969.9 L2414.5 2969.9 L2414.5 2988.4 L2412.7 2990.6 L2385.9 3000.8 L2385.9 3029.4 L2373.5 3029.4 L2373.5 3098.5 L2354.4 3098.5 L2354.4 3064 L2331.3 3064 L2331.3 3098.5 L2313.4 3098.5 L2313.4 2923.6 L2302.6 2923.6 L2302.6 2788.5 L2279.4 2788.5 L2279.4 2885.7 L2270.8 2885.7 L2270.8 2744.1 L2248 2744.1 L2248 2788.5 L2236.9 2788.5 L2236.9 2885.7 L2227.6 2885.7 L2227.6 2923.6 L2217.1 2923.6 L2217.1 3029.4 L2206 3029.4 L2206 3064 L2195.6 3064 L2195.6 3069.9 L2182 3069.5 L2182 3094.2 L2176 3098.5 L2125.2 3098.5 L2125.2 3064 L2115 3064 L2115 3029.4 L2104.3 3029.4 L2104.3 2994.6 L2096.5 2994.6 L2096.5 2970.8 L2094.1 2969.6 L2094.1 2922.7 L2083.6 2922.7 L2083.6 2849.5 L2072.8 2849.5 L2072.8 2848.6 L2072.8 2788.5 L2040.1 2788.5 L2040.1 2849.5 L2017.9 2849.5 L2017.9 2885.7 L2011.1 2885.7 L2011.1 2874.2 L1994.8 2874.2 L1994.8 2822.7 L1993.2 2820.9 L1991.1 2820.9 L1989.2 2822.7 L1989.2 2874.2 L1979.3 2874.2 L1979.3 2849.5 L1968.5 2849.5 L1968.5 2816.2 L1958.4 2816.2 L1958.4 2764.7 L1947.9 2764.7 L1947.9 2695.3 L1947.6 2695.3 L1947.6 2690.1 L1937.7 2690.1 L1937.7 2662.3 L1916.7 2662.3 L1916.7 2653.7 L1906.2 2653.7 L1906.2 2641.4 L1895.4 2641.4 L1895.4 2635.2 L1884.6 2635.2 L1884.6 2625.9 L1852.9 2625.9 L1852.9 2630.2 L1840.8 2630.2 L1840.8 2640.7 L1830.4 2640.7 L1830.4 2647.5 L1819.9 2647.5 L1819.9 2654.6 L1809.7 2654.6 L1809.7 2662.3 L1760.3 2662.3 L1760.3 2654.6 L1705.7 2654.6 L1705.7 2662.9 L1695 2662.9 L1695 2672.8 L1684.8 2672.8 L1684.8 2681.4 L1654.9 2681.4 L1654.9 2603.1 L1648.4 2603.1 L1635.1 2603.1ZM2698.3 3158.7 L2698.3 3141.7 L2700.5 3140.5 L2712.2 3140.5 L2714.4 3141.7 L2714.4 3158.7Z" fill="#92816a" stroke="#000" stroke-width="2.7" stroke-linejoin="round"/>
<path d="M1661.6 2604.3 L1663.2 2616.7 L1670.9 2615.1 L1675.5 2605" fill="none" stroke="#000" stroke-width="5.0" stroke-linejoin="round" stroke-linecap="round"/>
<path d="M1657 2625.9 L1661.6 2638.3 L1666.3 2670.7 L1670.9 2659.9 L1677.1 2630.6 L1681.7 2638.3 L1689.4 2653.7 L1697.1 2635.2 L1703.3 2653.7 L1704.8 2658.3" fill="none" stroke="#000" stroke-width="5.0" stroke-linejoin="round" stroke-linecap="round"/>
<path d="M1774.2 2605.9 L1792.7 2609 L1817.4 2605" fill="none" stroke="#000" stroke-width="5.0" stroke-linejoin="round" stroke-linecap="round"/>
<path d="M1773.3 2661.4 L1772.7 2647.5 L1778.8 2630.6 L1791.2 2619.1 L1805.1 2630.6 L1820.5 2644.4 L1829.7 2640.7 L1842.1 2632.1" fill="none" stroke="#000" stroke-width="5.0" stroke-linejoin="round" stroke-linecap="round"/>
<path d="M1842.1 2632.1 L1846.7 2619.8 L1851.3 2607.4 L1848.2 2605" fill="none" stroke="#000" stroke-width="5.0" stroke-linejoin="round" stroke-linecap="round"/>
<path d="M1888.3 2635.2 L1897.6 2615.1 L1903.8 2608 L1928.4 2605.9 L1951.6 2607.4 L1954.7 2611.1 L1943.9 2625.9 L1934.6 2641.4 L1940.8 2649.1 L1942.3 2661.4 L1946.9 2664.5" fill="none" stroke="#000" stroke-width="5.0" stroke-linejoin="round" stroke-linecap="round"/>
<path d="M1939.2 2666 L1946.9 2684.5 L1953.1 2672.2 L1959.3 2666 L1963.9 2678.4 L1971.6 2690.7 L1974.1 2715.4 L1974.7 2746.2 L1973.2 2767.8 L1968.5 2769.4 L1967 2789.4 L1964.8 2816.2 L1968.5 2848" fill="none" stroke="#000" stroke-width="5.0" stroke-linejoin="round" stroke-linecap="round"/>
<path d="M1989.5 2727.7 L1994.8 2740.1 L1996.9 2758.6 L2002.5 2764.7 L2004 2795.6 L2000.9 2821.8 L1996.9 2817.2 L1994.8 2777.1 L1988.6 2758.6 L1987 2740.1 L1989.5 2727.7" fill="none" stroke="#000" stroke-width="5.0" stroke-linejoin="round" stroke-linecap="round"/>
<path d="M2119.7 2605 L2102.7 2609 L2095 2624.4 L2082.7 2629 L2072.8 2622.2 L2068.8 2635.2 L2067.2 2684.5 L2066.6 2746.2 L2065.7 2777.1 L2067.2 2788.5" fill="none" stroke="#000" stroke-width="5.0" stroke-linejoin="round" stroke-linecap="round"/>
<path d="M2030.2 2848 L2039.5 2831" fill="none" stroke="#000" stroke-width="5.0" stroke-linejoin="round" stroke-linecap="round"/>
<path d="M1979.3 2872.7 L1988.6 2866.5 L1990.1 2854.2" fill="none" stroke="#000" stroke-width="5.0" stroke-linejoin="round" stroke-linecap="round"/>
<path d="M1993.2 2823.3 L1993.8 2872.7" fill="none" stroke="#000" stroke-width="5.0" stroke-linejoin="round" stroke-linecap="round"/>
<path d="M2307.2 2605.9 L2298 2612 L2301 2622.8 L2301.7 2653.7 L2301 2669.1 L2302.6 2684.5 L2303.5 2789.4 L2304.1 2881.9 L2304.1 2882 L2304.7 2923.6" fill="none" stroke="#000" stroke-width="5.0" stroke-linejoin="round" stroke-linecap="round"/>
<path d="M2363.3 2605.9 L2367.4 2638.3 L2375.1 2690.7 L2384.9 2724.6 L2396 2735.4 L2405.9 2703 L2418.2 2653.7 L2427.5 2619.8 L2430.6 2608 L2427.5 2605.9" fill="none" stroke="#000" stroke-width="5.0" stroke-linejoin="round" stroke-linecap="round"/>
<path d="M2383.7 2606.8 L2384.3 2612 L2396.7 2615.1 L2401.3 2609 L2399.7 2605.9" fill="none" stroke="#000" stroke-width="5.0" stroke-linejoin="round" stroke-linecap="round"/>
<path d="M2455.3 2609 L2461.4 2624.4 L2469.1 2639.8 L2479.9 2655.2 L2489.8 2675.3 L2501.5 2667.6 L2510.8 2641.4 L2516.9 2619.8 L2518.5 2607.4" fill="none" stroke="#000" stroke-width="5.0" stroke-linejoin="round" stroke-linecap="round"/>
<path d="M2544.7 2605.9 L2552.4 2622.8 L2557 2605.9" fill="none" stroke="#000" stroke-width="5.0" stroke-linejoin="round" stroke-linecap="round"/>
<path d="M2574 2605.9 L2575.6 2622.8 L2578.6 2647.5 L2583.3 2669.1 L2594.1 2687.6 L2615 2684.5 L2626.4 2693.8 L2646.5 2721.5 L2657.3 2723.1 L2668.1 2696.9 L2674.3 2669.1 L2678 2632.1 L2677.3 2605.9" fill="none" stroke="#000" stroke-width="5.0" stroke-linejoin="round" stroke-linecap="round"/>
<path d="M2537 2881.9 L2541.6 2777.1 L2547.8 2730.8 L2552.4 2684.5 L2557 2730.8 L2560.1 2792.5 L2564.8 2881.9" fill="none" stroke="#000" stroke-width="5.0" stroke-linejoin="round" stroke-linecap="round"/>
<path d="M2461.4 2881.9 L2469.1 2843.4 L2476.9 2881.9" fill="none" stroke="#000" stroke-width="5.0" stroke-linejoin="round" stroke-linecap="round"/>
<path d="M2691.2 2605.9 L2695.8 2622.8 L2697.4 2684.5 L2695.8 2777.1 L2692.8 2881.9 L2692.8 2882 L2691.2 2943.7 L2688.1 2996.1 L2680.4 3042.4 L2674.3 3073.2 L2666.5 3097.9 L2660.4 3144.2 L2658.8 3158.1" fill="none" stroke="#000" stroke-width="5.0" stroke-linejoin="round" stroke-linecap="round"/>
<path d="M2128.9 3098.5 L2133.6 3073.2 L2135.1 3014.6 L2141.3 3005.4 L2145.9 2991.5 L2145.9 3014.6 L2149.9 3029.4 L2156.1 3027 L2158.2 3042.4 L2156.7 3067.1 L2158.2 3077.9 L2164.4 3054.7 L2172.1 3048.6 L2175.2 3067.1 L2184.4 3068.6" fill="none" stroke="#000" stroke-width="5.0" stroke-linejoin="round" stroke-linecap="round"/>
<path d="M2176.7 3027 L2177 3042.4" fill="none" stroke="#000" stroke-width="5.0" stroke-linejoin="round" stroke-linecap="round"/>
<path d="M2353.5 3064 L2352.9 3020.8 L2365.8 3020.2 L2375.1 2986.9 L2384.9 3000.8 L2399.7 2990 L2413.6 2974.5" fill="none" stroke="#000" stroke-width="5.0" stroke-linejoin="round" stroke-linecap="round"/>
<path d="M2357.5 3097.9 L2359.6 3082.5 L2364.3 3076.9 L2368.3 3097.9" fill="none" stroke="#000" stroke-width="5.0" stroke-linejoin="round" stroke-linecap="round"/>
<path d="M2418.2 2968.4 L2426 2906.7 L2427.5 2883.5 L2433.7 2894.3 L2438.3 2915.9 L2441.4 2959.1 L2442.9 2994.6" fill="none" stroke="#000" stroke-width="5.0" stroke-linejoin="round" stroke-linecap="round"/>
<path d="M2454.6 2994.6 L2459.9 2959.1 L2463 2897.4 L2464.5 2882" fill="none" stroke="#000" stroke-width="5.0" stroke-linejoin="round" stroke-linecap="round"/>
<path d="M2461.4 2881.9 L2469.1 2843.4 L2476.9 2881.9" fill="none" stroke="#000" stroke-width="5.0" stroke-linejoin="round" stroke-linecap="round"/>
<path d="M2473.8 2882 L2478.4 2912.8 L2483 2968.4 L2486.7 3000.8" fill="none" stroke="#000" stroke-width="5.0" stroke-linejoin="round" stroke-linecap="round"/>
<path d="M2510.8 3036.2 L2507.7 3011.5 L2506.2 2990 L2500 2971.4 L2503.1 2949.9 L2510.8 2923.6 L2521.6 2940.6 L2531.8 2953.6 L2535.5 2919 L2537.9 2882" fill="none" stroke="#000" stroke-width="5.0" stroke-linejoin="round" stroke-linecap="round"/>
<path d="M2563.2 2882 L2566.3 2928.3 L2572.5 2974.5 L2583.3 2993 L2594.1 2980.7 L2600.2 3003.8 L2609.5 3013.1 L2615 3033.1 L2617.2 3011.5 L2621.8 2997.7 L2635.7 2991.5 L2638.8 3014.6 L2645 3036.2 L2649.6 3079.4 L2654.2 3116.4 L2658.8 3158.1" fill="none" stroke="#000" stroke-width="5.0" stroke-linejoin="round" stroke-linecap="round"/>
<ellipse cx="1927.5" cy="2653.7" rx="2.5" ry="4.9" fill="none" stroke="#000" stroke-width="4"/>
<ellipse cx="1958.4" cy="2652.1" rx="2.8" ry="5.6" fill="none" stroke="#000" stroke-width="4"/>
<ellipse cx="1967.9" cy="2663.6" rx="2.2" ry="2.2" fill="none" stroke="#000" stroke-width="4"/>
<ellipse cx="2000" cy="2652.8" rx="2.8" ry="4.6" fill="none" stroke="#000" stroke-width="4"/>
<ellipse cx="2000" cy="2676.8" rx="2.5" ry="9.3" fill="none" stroke="#000" stroke-width="4"/>
<ellipse cx="1989.5" cy="2712.9" rx="1.9" ry="4.9" fill="none" stroke="#000" stroke-width="4"/>
<ellipse cx="1979.3" cy="2792.5" rx="2.2" ry="11.7" fill="none" stroke="#000" stroke-width="4"/>
<ellipse cx="2510.8" cy="3020.8" rx="1.9" ry="9.3" fill="none" stroke="#000" stroke-width="4"/>
<ellipse cx="2530.8" cy="3017.7" rx="1.9" ry="15.4" fill="none" stroke="#000" stroke-width="4"/>
<ellipse cx="2573.4" cy="3022.3" rx="1.9" ry="14.8" fill="none" stroke="#000" stroke-width="4"/>
<ellipse cx="2332.8" cy="2607.4" rx="2.2" ry="2.8" fill="#000"/>
<line x1="1655" y1="2602.9" x2="2740.2" y2="2602.9" stroke="#000" stroke-width="4.2"/>
</g>
<rect x="1635" y="2602" width="1105.2" height="556.7" fill="none" stroke="#000" stroke-width="2.2"/>
<text x="1635" y="3200.1" font-size="27.78" text-anchor="middle">0</text>
<text x="1775.7" y="3200.1" font-size="27.78" text-anchor="middle">250</text>
<text x="1916.4" y="3200.1" font-size="27.78" text-anchor="middle">500</text>
<text x="2057.1" y="3200.1" font-size="27.78" text-anchor="middle">750</text>
<text x="2197.9" y="3200.1" font-size="27.78" text-anchor="middle">1000</text>
<text x="2338.6" y="3200.1" font-size="27.78" text-anchor="middle">1250</text>
<text x="2479.3" y="3200.1" font-size="27.78" text-anchor="middle">1500</text>
<text x="2620" y="3200.1" font-size="27.78" text-anchor="middle">1750</text>
<text x="1617" y="2613.4" font-size="27.78" text-anchor="end">0</text>
<text x="1617" y="2683" font-size="27.78" text-anchor="end">−500</text>
<text x="1617" y="2752.6" font-size="27.78" text-anchor="end">−1000</text>
<text x="1617" y="2822.2" font-size="27.78" text-anchor="end">−1500</text>
<text x="1617" y="2891.8" font-size="27.78" text-anchor="end">−2000</text>
<text x="1617" y="2961.3" font-size="27.78" text-anchor="end">−2500</text>
<text x="1617" y="3030.9" font-size="27.78" text-anchor="end">−3000</text>
<text x="1617" y="3100.5" font-size="27.78" text-anchor="end">−3500</text>
<text x="1617" y="3170.1" font-size="27.78" text-anchor="end">−4000</text>
<text x="1636.3" y="2577.4" font-size="27.78" text-anchor="middle">179.92°</text>
<text x="1636.3" y="2477.1" font-size="27.78" text-anchor="middle">-77.87°</text>
<text x="1792.8" y="2577.4" font-size="27.78" text-anchor="middle">179.92°</text>
<text x="1792.8" y="2477.1" font-size="27.78" text-anchor="middle">-75.37°</text>
<text x="1949.2" y="2577.4" font-size="27.78" text-anchor="middle">179.92°</text>
<text x="1949.2" y="2477.1" font-size="27.78" text-anchor="middle">-72.87°</text>
<text x="2105.7" y="2577.4" font-size="27.78" text-anchor="middle">179.92°</text>
<text x="2105.7" y="2477.1" font-size="27.78" text-anchor="middle">-70.37°</text>
<text x="2262.1" y="2577.4" font-size="27.78" text-anchor="middle">179.92°</text>
<text x="2262.1" y="2477.1" font-size="27.78" text-anchor="middle">-67.87°</text>
<text x="2418.6" y="2577.4" font-size="27.78" text-anchor="middle">179.92°</text>
<text x="2418.6" y="2477.1" font-size="27.78" text-anchor="middle">-65.37°</text>
<text x="2575" y="2577.4" font-size="27.78" text-anchor="middle">179.92°</text>
<text x="2575" y="2477.1" font-size="27.78" text-anchor="middle">-62.87°</text>
<text x="2731.4" y="2577.4" font-size="27.78" text-anchor="middle">179.92°</text>
<text x="2731.4" y="2477.1" font-size="27.78" text-anchor="middle">-60.37°</text>
<path d="M1635 3158.7v9.7M1775.7 3158.7v9.7M1916.4 3158.7v9.7M2057.1 3158.7v9.7M2197.9 3158.7v9.7M2338.6 3158.7v9.7M2479.3 3158.7v9.7M2620 3158.7v9.7M1635 2602h-9.7M1635 2671.6h-9.7M1635 2741.2h-9.7M1635 2810.8h-9.7M1635 2880.3h-9.7M1635 2949.9h-9.7M1635 3019.5h-9.7M1635 3089.1h-9.7M1635 3158.7h-9.7M1635 2602v-9.7M1635 2501.5v-9.7M1791.5 2602v-9.7M1791.5 2501.5v-9.7M1947.9 2602v-9.7M1947.9 2501.5v-9.7M2104.3 2602v-9.7M2104.3 2501.5v-9.7M2260.8 2602v-9.7M2260.8 2501.5v-9.7M2417.2 2602v-9.7M2417.2 2501.5v-9.7M2573.7 2602v-9.7M2573.7 2501.5v-9.7M2730.1 2602v-9.7M2730.1 2501.5v-9.7M1635 2501.5H2740.2" stroke="#000" stroke-width="2.2" fill="none"/>
<text x="2187.6" y="2544.2" font-size="33.33" text-anchor="middle">Longitude</text>
<text x="2187.6" y="2443.6" font-size="33.33" text-anchor="middle">Latitude</text>
<text x="2187.6" y="2396.7" font-size="44.44" text-anchor="middle">Model - State Estimate</text>
<text x="2187.6" y="3245.3" font-size="33.33" text-anchor="middle">Distance [km]</text>
<text transform="translate(1502 2881.5) rotate(-90)" font-size="33.33" text-anchor="middle">Depth [m]</text>
<rect x="2808.6" y="2602" width="63.1" height="556.7" fill="url(#cb_bal)" stroke="#000" stroke-width="2.2"/>
<text x="2890.3" y="2613.3" font-size="27.78" text-anchor="start">0.20</text>
<text x="2890.3" y="2682.9" font-size="27.78" text-anchor="start">0.15</text>
<text x="2890.3" y="2752.5" font-size="27.78" text-anchor="start">0.10</text>
<text x="2890.3" y="2822.1" font-size="27.78" text-anchor="start">0.05</text>
<text x="2890.3" y="2891.7" font-size="27.78" text-anchor="start">0.00</text>
<text x="2890.3" y="2961.2" font-size="27.78" text-anchor="start">−0.05</text>
<text x="2890.3" y="3030.8" font-size="27.78" text-anchor="start">−0.10</text>
<text x="2890.3" y="3100.4" font-size="27.78" text-anchor="start">−0.15</text>
<text x="2890.3" y="3170" font-size="27.78" text-anchor="start">−0.20</text>
<path d="M2871.7 2602h9.7M2871.7 2671.6h9.7M2871.7 2741.2h9.7M2871.7 2810.8h9.7M2871.7 2880.3h9.7M2871.7 2949.9h9.7M2871.7 3019.5h9.7M2871.7 3089.1h9.7M2871.7 3158.7h9.7" stroke="#000" stroke-width="2.2" fill="none"/>
<text transform="translate(3008.4 2880.3) rotate(-90)" font-size="27.78" text-anchor="middle">m s<tspan dy="-10" font-size="19.4">−1</tspan></text>
<text x="1590" y="66.7" font-size="55.85" text-anchor="middle">Zonal Velocity at 180.0° Longitude</text>
<text x="1590" y="130.3" font-size="55.85" text-anchor="middle">(ANN, years 0005-0010)</text>
</svg>
</body></html>
